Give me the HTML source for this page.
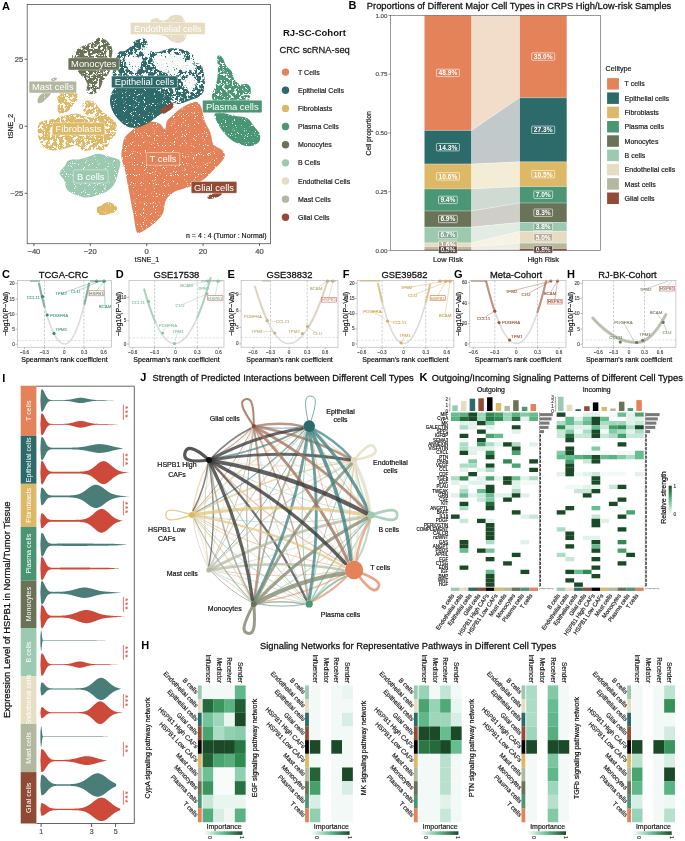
<!DOCTYPE html>
<html><head><meta charset="utf-8"><style>
html,body{margin:0;padding:0;background:#fff;}
svg{display:block;font-family:"Liberation Sans", sans-serif;will-change:transform;}
</style></head><body>
<svg width="685" height="841" viewBox="0 0 685 841">
<rect width="685" height="841" fill="#fff"/>
<text x="2.00" y="10.00" font-size="11" text-anchor="start" font-weight="bold" fill="#000">A</text>
<g>
<defs><filter id="spk1" x="0" y="0" width="685" height="841" filterUnits="userSpaceOnUse"><feTurbulence type="fractalNoise" baseFrequency="1.1" numOctaves="1" seed="4" result="n"/><feColorMatrix in="n" type="matrix" values="0 0 0 0 0 0 0 0 0 0 0 0 0 0 0 16 0 0 0 -4.6" result="m"/><feComposite in="SourceGraphic" in2="m" operator="in"/></filter><filter id="spk2" x="0" y="0" width="685" height="841" filterUnits="userSpaceOnUse"><feTurbulence type="fractalNoise" baseFrequency="0.32" numOctaves="3" seed="9" result="n"/><feColorMatrix in="n" type="matrix" values="0 0 0 0 0 0 0 0 0 0 0 0 0 0 0 18 0 0 0 -7.5" result="m"/><feComposite in="SourceGraphic" in2="m" operator="in" result="s"/><feTurbulence type="fractalNoise" baseFrequency="1.1" numOctaves="1" seed="2" result="n2"/><feColorMatrix in="n2" type="matrix" values="0 0 0 0 0 0 0 0 0 0 0 0 0 0 0 16 0 0 0 -5.0" result="m2"/><feComposite in="s" in2="m2" operator="in"/></filter><filter id="spk3" x="0" y="0" width="685" height="841" filterUnits="userSpaceOnUse"><feTurbulence type="fractalNoise" baseFrequency="0.35" numOctaves="3" seed="21" result="n"/><feColorMatrix in="n" type="matrix" values="0 0 0 0 0 0 0 0 0 0 0 0 0 0 0 18 0 0 0 -6.3" result="m"/><feComposite in="SourceGraphic" in2="m" operator="in" result="s"/><feTurbulence type="fractalNoise" baseFrequency="1.1" numOctaves="1" seed="5" result="n2"/><feColorMatrix in="n2" type="matrix" values="0 0 0 0 0 0 0 0 0 0 0 0 0 0 0 16 0 0 0 -4.8" result="m2"/><feComposite in="s" in2="m2" operator="in"/></filter><filter id="spk4" x="0" y="0" width="685" height="841" filterUnits="userSpaceOnUse"><feTurbulence type="fractalNoise" baseFrequency="0.3" numOctaves="3" seed="13" result="n"/><feColorMatrix in="n" type="matrix" values="0 0 0 0 0 0 0 0 0 0 0 0 0 0 0 18 0 0 0 -7.0" result="m"/><feComposite in="SourceGraphic" in2="m" operator="in" result="s"/><feTurbulence type="fractalNoise" baseFrequency="1.1" numOctaves="1" seed="3" result="n2"/><feColorMatrix in="n2" type="matrix" values="0 0 0 0 0 0 0 0 0 0 0 0 0 0 0 16 0 0 0 -4.9" result="m2"/><feComposite in="s" in2="m2" operator="in"/></filter><filter id="wob" x="0" y="0" width="685" height="841" filterUnits="userSpaceOnUse"><feTurbulence type="fractalNoise" baseFrequency="0.18" numOctaves="2" seed="7" result="t"/><feDisplacementMap in="SourceGraphic" in2="t" scale="9" xChannelSelector="R" yChannelSelector="G" result="d"/><feTurbulence type="fractalNoise" baseFrequency="1.1" numOctaves="1" seed="4" result="n"/><feColorMatrix in="n" type="matrix" values="0 0 0 0 0 0 0 0 0 0 0 0 0 0 0 16 0 0 0 -4.6" result="m"/><feComposite in="d" in2="m" operator="in"/></filter></defs>
<g filter="url(#spk1)">
<path d="M129.0,133.0 C131.3,130.9 135.0,127.3 138.5,125.4 C142.0,123.5 146.4,121.9 149.9,121.6 C153.4,121.3 156.8,122.3 159.3,123.5 C161.8,124.7 163.7,129.4 165.0,129.0 C166.3,128.6 165.8,123.2 167.0,121.0 C168.2,118.8 170.1,117.8 172.0,116.0 C173.9,114.2 175.4,112.3 178.3,110.2 C181.2,108.1 186.5,104.8 189.7,103.5 C192.9,102.2 195.3,101.5 197.3,102.2 C199.3,103.0 200.2,104.8 201.5,108.0 C202.8,111.2 203.4,117.4 204.9,121.6 C206.4,125.8 209.2,129.2 210.6,133.0 C212.0,136.8 211.5,141.5 213.4,144.3 C215.3,147.1 220.1,148.1 222.0,150.0 C223.9,151.9 225.1,153.5 224.8,155.7 C224.5,157.9 222.2,160.8 220.1,163.3 C218.0,165.8 215.0,168.4 212.5,170.9 C210.0,173.4 207.8,176.3 204.9,178.5 C202.1,180.7 198.6,182.6 195.4,184.2 C192.2,185.8 189.4,186.7 185.9,188.0 C182.4,189.3 177.8,189.8 174.5,191.8 C171.2,193.8 167.9,196.5 166.0,200.0 C164.1,203.5 164.5,209.3 163.1,212.7 C161.7,216.1 159.9,217.8 157.4,220.3 C154.9,222.8 151.2,225.8 148.0,227.9 C144.8,230.0 140.6,233.0 138.5,233.0 C136.4,233.0 136.4,230.7 135.6,227.9 C134.8,225.2 134.5,220.9 133.7,216.5 C132.9,212.1 131.8,206.4 130.9,201.3 C130.0,196.2 128.9,191.2 128.0,186.1 C127.0,181.0 126.3,175.7 125.2,170.9 C124.1,166.2 122.0,161.8 121.5,157.6 C121.0,153.4 122.0,149.3 122.5,146.0 C123.0,142.7 123.4,140.2 124.5,138.0 C125.6,135.8 126.7,135.1 129.0,133.0 Z" fill="#E4825A"/>
<path d="M112.0,92.0 C113.3,89.3 115.3,87.3 118.0,86.0 C120.7,84.7 124.3,84.0 128.0,84.0 C131.7,84.0 136.0,85.3 140.0,86.0 C144.0,86.7 148.7,87.0 152.0,88.0 C155.3,89.0 157.3,90.3 160.0,92.0 C162.7,93.7 166.0,96.0 168.0,98.0 C170.0,100.0 172.3,102.0 172.0,104.0 C171.7,106.0 168.3,108.0 166.0,110.0 C163.7,112.0 160.7,114.0 158.0,116.0 C155.3,118.0 152.7,120.3 150.0,122.0 C147.3,123.7 144.7,125.0 142.0,126.0 C139.3,127.0 136.7,128.0 134.0,128.0 C131.3,128.0 128.5,127.3 126.0,126.0 C123.5,124.7 121.2,122.3 119.0,120.0 C116.8,117.7 114.5,115.0 113.0,112.0 C111.5,109.0 110.2,105.3 110.0,102.0 C109.8,98.7 110.7,94.7 112.0,92.0 Z" fill="#2D6A6A"/>
<path d="M68.8,160.2 C71.2,159.1 76.3,159.8 79.7,159.2 C83.1,158.6 85.9,157.5 88.9,156.6 C92.0,155.7 94.7,153.8 98.0,153.8 C101.3,153.8 105.2,155.4 108.9,156.6 C112.6,157.8 118.4,158.4 119.9,161.1 C121.4,163.8 119.0,169.2 118.1,173.0 C117.2,176.8 116.2,180.9 114.4,183.9 C112.6,186.9 109.8,189.4 107.1,191.2 C104.4,193.0 101.3,193.8 98.0,194.9 C94.7,196.0 90.7,197.5 87.0,197.5 C83.3,197.5 79.4,196.2 76.1,194.9 C72.8,193.6 69.0,191.8 67.0,189.4 C65.0,187.0 65.4,183.0 64.2,180.3 C63.0,177.6 59.6,175.5 59.7,173.0 C59.9,170.5 63.6,167.6 65.1,165.5 C66.6,163.4 66.4,161.2 68.8,160.2 Z" fill="#9CCAB0"/>
<path d="M214.6,114.3 C215.2,112.3 218.4,112.7 222.0,113.0 C225.6,113.3 231.8,115.1 236.0,116.0 C240.2,116.9 244.3,116.6 247.3,118.3 C250.3,120.0 251.8,123.5 253.9,126.1 C256.0,128.7 258.8,131.4 259.7,134.0 C260.6,136.6 260.3,139.9 259.1,141.8 C257.9,143.8 255.0,145.0 252.6,145.7 C250.2,146.3 247.8,146.3 244.7,145.7 C241.6,145.0 237.5,143.8 234.2,141.8 C230.9,139.9 227.7,136.8 225.1,134.0 C222.5,131.2 220.2,128.1 218.5,124.8 C216.8,121.5 214.0,116.3 214.6,114.3 Z" fill="#4A9675"/>
<path d="M51.0,92.0 C51.8,92.5 50.3,94.3 49.5,95.5 C48.7,96.7 47.2,97.8 46.0,99.0 C44.8,100.2 43.2,101.8 42.0,102.5 C40.8,103.2 39.8,103.7 39.0,103.5 C38.2,103.3 37.6,102.5 37.5,101.5 C37.4,100.5 37.8,98.8 38.5,97.5 C39.2,96.2 40.4,94.8 41.5,94.0 C42.6,93.2 43.4,92.8 45.0,92.5 C46.6,92.2 50.2,91.5 51.0,92.0 Z" fill="#B3B8A0"/>
<path d="M51.0,79.5 C51.3,78.8 54.0,77.6 55.0,77.5 C56.0,77.4 57.3,78.3 57.0,79.0 C56.7,79.7 54.0,81.4 53.0,81.5 C52.0,81.6 50.7,80.2 51.0,79.5 Z" fill="#B3B8A0"/>
<path d="M150.0,23.0 C150.0,20.8 150.8,20.3 152.0,19.5 C153.2,18.7 155.5,17.8 157.0,18.0 C158.5,18.2 159.3,20.2 161.0,20.5 C162.7,20.8 165.3,20.2 167.0,19.5 C168.7,18.8 169.3,16.8 171.0,16.0 C172.7,15.2 175.2,14.7 177.0,14.8 C178.8,14.9 180.7,15.3 182.0,16.5 C183.3,17.7 184.2,19.8 185.0,22.0 C185.8,24.2 186.8,27.5 187.0,30.0 C187.2,32.5 186.7,35.1 186.0,37.0 C185.3,38.9 184.5,40.5 183.0,41.5 C181.5,42.5 179.0,43.1 177.0,43.0 C175.0,42.9 172.8,42.0 171.0,41.0 C169.2,40.0 167.8,38.0 166.0,37.0 C164.2,36.0 162.3,35.7 160.0,35.0 C157.7,34.3 153.7,35.0 152.0,33.0 C150.3,31.0 150.0,25.2 150.0,23.0 Z" fill="#E6DCC2"/>
<path d="M207.7,196.5 C208.3,195.7 210.3,194.7 212.0,194.0 C213.7,193.3 216.3,192.6 218.0,192.5 C219.7,192.4 221.8,192.8 222.0,193.5 C222.2,194.2 220.5,195.7 219.0,196.5 C217.5,197.3 214.8,198.0 213.0,198.4 C211.2,198.8 209.4,199.1 208.5,198.8 C207.6,198.5 207.1,197.3 207.7,196.5 Z" fill="#924C36"/>
<path d="M160.0,111.0 C160.1,109.9 161.8,108.3 163.0,107.5 C164.2,106.7 165.9,106.7 167.0,106.0 C168.1,105.3 168.5,104.0 169.5,103.5 C170.5,103.0 172.3,102.5 173.0,103.0 C173.7,103.5 173.8,105.4 173.5,106.5 C173.2,107.6 172.1,108.6 171.0,109.5 C169.9,110.4 168.4,111.2 167.0,112.0 C165.6,112.8 163.7,114.2 162.5,114.0 C161.3,113.8 159.9,112.1 160.0,111.0 Z" fill="#924C36"/>
<path d="M97.1,207.7 C97.7,206.2 99.9,205.8 101.6,204.9 C103.3,204.0 105.3,202.4 107.1,202.2 C108.9,202.0 110.9,202.4 112.6,203.5 C114.3,204.6 117.2,206.9 117.2,208.5 C117.2,210.1 114.9,212.0 112.6,213.1 C110.3,214.2 105.9,214.8 103.5,215.0 C101.1,215.2 99.1,215.2 98.0,214.0 C96.9,212.8 96.5,209.2 97.1,207.7 Z" fill="#DDB866"/>
</g>
<g filter="url(#spk4)">
<path d="M73.3,53.2 C74.1,51.9 75.7,50.5 77.0,49.5 C78.3,48.5 79.5,47.8 81.0,47.0 C82.5,46.2 84.2,45.3 86.0,44.5 C87.8,43.7 90.1,43.2 91.8,42.4 C93.5,41.6 94.7,40.4 96.0,39.5 C97.3,38.6 98.2,37.3 99.6,37.2 C101.0,37.1 102.7,37.9 104.2,38.8 C105.7,39.7 107.3,41.2 108.5,42.5 C109.7,43.8 110.8,45.0 111.5,46.5 C112.2,48.0 112.5,49.7 112.5,51.6 C112.5,53.5 111.8,55.7 111.5,57.8 C111.2,59.9 111.3,61.8 111.0,64.0 C110.7,66.2 110.5,69.1 109.8,71.2 C109.0,73.3 107.6,74.8 106.5,76.4 C105.4,78.0 104.0,79.2 103.0,81.0 C102.0,82.8 101.7,85.5 100.5,87.5 C99.3,89.5 97.8,91.9 96.0,93.0 C94.2,94.1 91.7,94.4 90.0,94.0 C88.3,93.6 86.4,92.1 86.0,90.5 C85.6,88.9 87.8,86.4 87.5,84.5 C87.2,82.6 85.8,80.7 84.5,79.0 C83.2,77.3 81.3,75.8 80.0,74.5 C78.7,73.2 77.7,72.9 76.4,71.0 C75.2,69.1 73.2,65.2 72.5,63.0 C71.8,60.8 71.9,59.1 72.0,57.5 C72.1,55.9 72.5,54.5 73.3,53.2 Z" fill="#6A7257"/>
<path d="M118.8,52.3 C120.6,50.1 122.4,52.0 124.6,50.9 C126.8,49.8 130.3,47.1 131.9,45.5 C133.5,43.9 132.4,42.6 134.1,41.4 C135.8,40.2 140.0,38.6 142.1,38.5 C144.2,38.4 145.3,38.9 146.5,40.7 C147.7,42.5 147.7,47.5 149.4,49.4 C151.1,51.3 154.0,52.3 156.7,52.3 C159.4,52.3 162.6,50.1 165.5,49.4 C168.4,48.7 170.8,48.0 174.2,48.2 C177.6,48.4 182.7,49.2 185.9,50.4 C189.1,51.6 191.7,53.3 193.2,55.3 C194.7,57.3 193.5,61.1 194.7,62.6 C195.9,64.0 199.1,62.5 200.5,64.0 C201.9,65.5 202.7,68.1 203.4,71.3 C204.1,74.5 204.9,79.6 204.9,83.0 C204.9,86.4 204.6,89.4 203.4,91.8 C202.2,94.2 200.2,96.1 197.6,97.6 C195.0,99.1 191.3,99.9 188.0,101.0 C184.7,102.1 181.3,104.2 178.0,104.0 C174.7,103.8 171.3,101.7 168.0,100.0 C164.7,98.3 161.7,96.0 158.0,94.0 C154.3,92.0 150.3,89.7 146.0,88.0 C141.7,86.3 136.7,84.7 132.0,84.0 C127.3,83.3 121.2,85.3 118.0,84.0 C114.8,82.7 113.7,79.3 113.0,76.0 C112.3,72.7 113.0,68.0 114.0,64.0 C115.0,60.0 117.0,54.5 118.8,52.3 Z" fill="#2D6A6A"/>
<path d="M39.3,122.7 C40.5,121.0 43.2,121.0 45.0,120.5 C46.8,120.0 48.2,120.2 50.0,119.7 C51.8,119.2 54.2,118.3 56.0,117.8 C57.8,117.3 59.0,117.1 61.0,116.6 C63.0,116.1 65.4,115.5 68.0,115.0 C70.6,114.5 73.7,113.3 76.4,113.5 C79.1,113.7 81.4,115.3 84.0,116.0 C86.6,116.7 89.3,117.2 92.0,117.5 C94.7,117.8 97.5,117.4 100.0,118.0 C102.5,118.6 104.8,119.9 107.0,121.0 C109.2,122.1 111.9,123.0 113.5,124.5 C115.1,126.0 116.2,128.1 116.4,130.0 C116.6,131.9 115.6,134.3 114.6,136.0 C113.6,137.7 111.5,138.3 110.4,140.0 C109.3,141.7 109.4,144.3 108.0,146.0 C106.6,147.7 104.2,149.6 102.1,150.2 C100.0,150.8 97.5,149.2 95.2,149.3 C92.9,149.4 90.4,150.4 88.3,150.6 C86.2,150.8 84.5,151.2 82.7,150.4 C80.9,149.6 79.3,146.1 77.2,145.5 C75.1,144.9 72.8,146.4 70.2,147.0 C67.7,147.6 64.7,148.7 61.9,149.3 C59.1,149.9 56.4,150.8 53.6,150.6 C50.8,150.4 47.6,149.5 45.3,148.0 C43.0,146.5 41.1,144.3 39.8,141.5 C38.5,138.7 37.7,134.1 37.6,131.0 C37.5,127.9 38.1,124.5 39.3,122.7 Z" fill="#DDB866"/>
<path d="M57.0,96.0 C57.4,94.3 59.3,93.5 61.0,92.8 C62.7,92.1 65.0,92.1 67.0,92.0 C69.0,91.9 71.2,91.9 73.0,92.3 C74.8,92.7 76.7,93.4 77.5,94.5 C78.3,95.6 78.4,97.6 78.0,99.0 C77.6,100.4 76.1,101.7 75.0,103.0 C73.9,104.3 72.7,105.7 71.5,107.0 C70.3,108.3 69.4,109.8 68.0,111.0 C66.6,112.2 64.5,113.7 63.0,114.0 C61.5,114.3 59.9,114.0 59.0,113.0 C58.1,112.0 57.6,109.7 57.5,108.0 C57.4,106.3 58.6,105.0 58.5,103.0 C58.4,101.0 56.6,97.7 57.0,96.0 Z" fill="#DDB866"/>
<path d="M83.0,103.5 C83.6,102.4 84.7,101.5 86.0,101.0 C87.3,100.5 89.5,100.5 91.0,100.8 C92.5,101.0 93.9,101.6 95.0,102.5 C96.1,103.4 96.5,104.8 97.5,106.0 C98.5,107.2 99.6,108.7 101.0,110.0 C102.4,111.3 104.3,112.6 106.0,114.0 C107.7,115.4 109.3,117.0 111.0,118.5 C112.7,120.0 115.1,121.4 116.0,123.0 C116.9,124.6 117.2,127.0 116.5,128.0 C115.8,129.0 113.8,129.7 112.0,129.0 C110.2,128.3 108.0,125.7 106.0,124.0 C104.0,122.3 102.0,120.2 100.0,119.0 C98.0,117.8 96.0,117.1 94.0,116.5 C92.0,115.9 89.7,116.2 88.0,115.5 C86.3,114.8 84.9,113.3 84.0,112.0 C83.1,110.7 82.7,108.9 82.5,107.5 C82.3,106.1 82.4,104.6 83.0,103.5 Z" fill="#DDB866"/>
</g>
<g filter="url(#spk3)">
<path d="M218.5,55.5 C219.4,55.4 221.2,55.7 222.5,57.4 C223.8,59.1 224.9,63.6 226.4,65.9 C227.9,68.2 230.3,69.0 231.6,71.2 C232.9,73.4 232.9,76.8 234.2,79.0 C235.5,81.2 237.3,83.3 239.5,84.2 C241.7,85.1 245.5,83.5 247.3,84.2 C249.2,84.9 250.2,86.0 250.6,88.2 C251.0,90.4 250.7,94.7 249.9,97.3 C249.1,99.9 248.0,102.2 246.0,104.0 C244.0,105.8 241.0,106.7 238.0,108.0 C235.0,109.3 231.3,111.0 228.0,112.0 C224.7,113.0 220.7,116.5 218.0,114.0 C215.3,111.5 212.6,101.6 212.0,97.3 C211.4,93.0 213.7,91.2 214.6,88.2 C215.5,85.2 216.6,82.3 217.2,79.0 C217.8,75.7 217.9,72.0 217.9,68.5 C217.9,65.0 217.1,60.3 217.2,58.1 C217.3,55.9 217.6,55.6 218.5,55.5 Z" fill="#4A9675"/>
</g>
<path d="M155.0,56.0 C156.8,54.3 161.2,53.3 165.0,53.0 C168.8,52.7 174.5,53.2 178.0,54.0 C181.5,54.8 184.3,56.0 186.0,58.0 C187.7,60.0 188.7,63.7 188.0,66.0 C187.3,68.3 185.0,70.7 182.0,72.0 C179.0,73.3 173.7,74.3 170.0,74.0 C166.3,73.7 162.7,71.8 160.0,70.0 C157.3,68.2 154.8,65.3 154.0,63.0 C153.2,60.7 153.2,57.7 155.0,56.0 Z" fill="#fff" opacity="0.95" filter="url(#wob)"/>
<path d="M126.0,58.0 C127.0,55.5 130.7,55.0 133.0,55.0 C135.3,55.0 138.7,56.2 140.0,58.0 C141.3,59.8 141.8,63.7 141.0,66.0 C140.2,68.3 137.3,71.3 135.0,72.0 C132.7,72.7 128.5,72.3 127.0,70.0 C125.5,67.7 125.0,60.5 126.0,58.0 Z" fill="#fff" opacity="0.95" filter="url(#wob)"/>
<path d="M186.0,78.0 C187.0,76.0 190.3,75.3 192.0,76.0 C193.7,76.7 196.0,79.7 196.0,82.0 C196.0,84.3 193.7,89.0 192.0,90.0 C190.3,91.0 187.0,90.0 186.0,88.0 C185.0,86.0 185.0,80.0 186.0,78.0 Z" fill="#fff" opacity="0.95" filter="url(#wob)"/>
<path d="M143.5,47.0 C144.3,45.8 146.7,45.2 148.0,45.5 C149.3,45.8 151.1,47.4 151.5,49.0 C151.9,50.6 151.4,53.7 150.5,55.0 C149.6,56.3 147.2,57.3 146.0,57.0 C144.8,56.7 143.4,54.7 143.0,53.0 C142.6,51.3 142.7,48.2 143.5,47.0 Z" fill="#fff" opacity="0.95" filter="url(#wob)"/>
<path d="M187.0,61.0 C188.0,59.8 190.6,59.5 192.0,60.0 C193.4,60.5 195.2,62.3 195.5,64.0 C195.8,65.7 195.1,68.8 194.0,70.0 C192.9,71.2 190.3,72.0 189.0,71.5 C187.7,71.0 186.3,68.8 186.0,67.0 C185.7,65.2 186.0,62.2 187.0,61.0 Z" fill="#fff" opacity="0.95" filter="url(#wob)"/>
<rect x="130.4" y="22.4" width="74.8" height="12.1" rx="1.2" fill="#E6DCC2" stroke="#fff" stroke-width="0.5" stroke-opacity="0.8"/>
<text x="167.80" y="31.83" font-size="9.4" text-anchor="middle" fill="#fff">Endothelial cells</text>
<rect x="68.2" y="57.9" width="51.1" height="12.1" rx="1.2" fill="#6A7257" stroke="#fff" stroke-width="0.5" stroke-opacity="0.8"/>
<text x="93.75" y="67.33" font-size="9.4" text-anchor="middle" fill="#fff">Monocytes</text>
<rect x="111.5" y="76.0" width="65.9" height="11.7" rx="1.2" fill="#2D6A6A" stroke="#fff" stroke-width="0.5" stroke-opacity="0.8"/>
<text x="144.45" y="85.23" font-size="9.4" text-anchor="middle" fill="#fff">Epithelial cells</text>
<rect x="29.0" y="81.2" width="47.5" height="11.8" rx="1.2" fill="#B3B8A0" stroke="#fff" stroke-width="0.5" stroke-opacity="0.8"/>
<text x="52.75" y="90.48" font-size="9.4" text-anchor="middle" fill="#fff">Mast cells</text>
<rect x="202.6" y="100.2" width="59.4" height="12.6" rx="1.2" fill="#4A9675" stroke="#fff" stroke-width="0.5" stroke-opacity="0.8"/>
<text x="232.30" y="109.88" font-size="9.4" text-anchor="middle" fill="#fff">Plasma cells</text>
<rect x="52.4" y="122.8" width="52.3" height="12.2" rx="1.2" fill="#DDB866" stroke="#fff" stroke-width="0.5" stroke-opacity="0.8"/>
<text x="78.55" y="132.28" font-size="9.4" text-anchor="middle" fill="#fff">Fibroblasts</text>
<rect x="146.4" y="152.5" width="33.3" height="12.7" rx="1.2" fill="#E4825A" stroke="#fff" stroke-width="0.5" stroke-opacity="0.8"/>
<text x="163.05" y="162.23" font-size="9.4" text-anchor="middle" fill="#fff">T cells</text>
<rect x="73.4" y="169.9" width="34.6" height="13.1" rx="1.2" fill="#9CCAB0" stroke="#fff" stroke-width="0.5" stroke-opacity="0.8"/>
<text x="90.70" y="179.83" font-size="9.4" text-anchor="middle" fill="#fff">B cells</text>
<rect x="191.2" y="181.4" width="45.6" height="11.9" rx="1.2" fill="#924C36" stroke="#fff" stroke-width="0.5" stroke-opacity="0.8"/>
<text x="214.00" y="190.73" font-size="9.4" text-anchor="middle" fill="#fff">Glial cells</text>
</g>
<rect x="27.2" y="4.5" width="243.3" height="239.2" fill="none" stroke="#555" stroke-width="0.8"/>
<line x1="24.60" y1="59.30" x2="27.20" y2="59.30" stroke="#555" stroke-width="0.9"/>
<text x="23.20" y="62.00" font-size="7.6" text-anchor="end" fill="#4d4d4d" stroke="#4d4d4d" stroke-width="0.213">25</text>
<line x1="24.60" y1="126.30" x2="27.20" y2="126.30" stroke="#555" stroke-width="0.9"/>
<text x="23.20" y="129.00" font-size="7.6" text-anchor="end" fill="#4d4d4d" stroke="#4d4d4d" stroke-width="0.213">0</text>
<line x1="24.60" y1="193.30" x2="27.20" y2="193.30" stroke="#555" stroke-width="0.9"/>
<text x="23.20" y="196.00" font-size="7.6" text-anchor="end" fill="#4d4d4d" stroke="#4d4d4d" stroke-width="0.213">−25</text>
<line x1="33.90" y1="243.30" x2="33.90" y2="246.00" stroke="#555" stroke-width="0.9"/>
<text x="33.90" y="254.20" font-size="7.6" text-anchor="middle" fill="#4d4d4d" stroke="#4d4d4d" stroke-width="0.213">−40</text>
<line x1="90.30" y1="243.30" x2="90.30" y2="246.00" stroke="#555" stroke-width="0.9"/>
<text x="90.30" y="254.20" font-size="7.6" text-anchor="middle" fill="#4d4d4d" stroke="#4d4d4d" stroke-width="0.213">−20</text>
<line x1="146.70" y1="243.30" x2="146.70" y2="246.00" stroke="#555" stroke-width="0.9"/>
<text x="146.70" y="254.20" font-size="7.6" text-anchor="middle" fill="#4d4d4d" stroke="#4d4d4d" stroke-width="0.213">0</text>
<line x1="203.10" y1="243.30" x2="203.10" y2="246.00" stroke="#555" stroke-width="0.9"/>
<text x="203.10" y="254.20" font-size="7.6" text-anchor="middle" fill="#4d4d4d" stroke="#4d4d4d" stroke-width="0.213">20</text>
<line x1="259.50" y1="243.30" x2="259.50" y2="246.00" stroke="#555" stroke-width="0.9"/>
<text x="259.50" y="254.20" font-size="7.6" text-anchor="middle" fill="#4d4d4d" stroke="#4d4d4d" stroke-width="0.213">40</text>
<text x="147.00" y="262.40" font-size="7.1" text-anchor="middle" fill="#222" stroke="#222" stroke-width="0.199">tSNE_1</text>
<text x="13.20" y="126.00" font-size="7.1" text-anchor="middle" fill="#222" stroke="#222" stroke-width="0.199" transform="rotate(-90 13.20 126.00)">tSNE_2</text>
<text x="266.50" y="238.00" font-size="7.0" text-anchor="end" fill="#222" stroke="#222" stroke-width="0.196">n = 4 : 4 (Tumor : Normal)</text>
<text x="283.00" y="35.80" font-size="9.5" text-anchor="start" font-weight="bold" fill="#111">RJ-SC-Cohort</text>
<text x="279.50" y="52.50" font-size="9.4" text-anchor="start" fill="#222" stroke="#222" stroke-width="0.263">CRC scRNA-seq</text>
<circle cx="285.5" cy="72.10" r="3.7" fill="#E4825A"/>
<text x="298.00" y="74.60" font-size="7.0" text-anchor="start" fill="#222" stroke="#222" stroke-width="0.196">T Cells</text>
<circle cx="285.5" cy="90.25" r="3.7" fill="#2D6A6A"/>
<text x="298.00" y="92.75" font-size="7.0" text-anchor="start" fill="#222" stroke="#222" stroke-width="0.196">Epithelial Cells</text>
<circle cx="285.5" cy="108.40" r="3.7" fill="#DDB866"/>
<text x="298.00" y="110.90" font-size="7.0" text-anchor="start" fill="#222" stroke="#222" stroke-width="0.196">Fibroblasts</text>
<circle cx="285.5" cy="126.55" r="3.7" fill="#4A9675"/>
<text x="298.00" y="129.05" font-size="7.0" text-anchor="start" fill="#222" stroke="#222" stroke-width="0.196">Plasma Cells</text>
<circle cx="285.5" cy="144.70" r="3.7" fill="#6A7257"/>
<text x="298.00" y="147.20" font-size="7.0" text-anchor="start" fill="#222" stroke="#222" stroke-width="0.196">Monocytes</text>
<circle cx="285.5" cy="162.85" r="3.7" fill="#9CCAB0"/>
<text x="298.00" y="165.35" font-size="7.0" text-anchor="start" fill="#222" stroke="#222" stroke-width="0.196">B Cells</text>
<circle cx="285.5" cy="181.00" r="3.7" fill="#E6DCC2"/>
<text x="298.00" y="183.50" font-size="7.0" text-anchor="start" fill="#222" stroke="#222" stroke-width="0.196">Endothelial Cells</text>
<circle cx="285.5" cy="199.15" r="3.7" fill="#B3B8A0"/>
<text x="298.00" y="201.65" font-size="7.0" text-anchor="start" fill="#222" stroke="#222" stroke-width="0.196">Mast Cells</text>
<circle cx="285.5" cy="217.30" r="3.7" fill="#924C36"/>
<text x="298.00" y="219.80" font-size="7.0" text-anchor="start" fill="#222" stroke="#222" stroke-width="0.196">Glial Cells</text>
<text x="348.50" y="9.20" font-size="11" text-anchor="start" font-weight="bold" fill="#000">B</text>
<text x="366.80" y="8.60" font-size="9.35" text-anchor="start" fill="#111" stroke="#111" stroke-width="0.262">Proportions of Different Major Cell Types in CRPS High/Low-risk Samples</text>
<polygon points="471.8,15.5 519.2,15.5 519.2,97.7 471.8,130.4" fill="#F2DDCB"/>
<polygon points="471.8,130.4 519.2,97.7 519.2,161.8 471.8,164.0" fill="#C2C9CA"/>
<polygon points="471.8,164.0 519.2,161.8 519.2,186.5 471.8,188.9" fill="#F3EDD5"/>
<polygon points="471.8,188.9 519.2,186.5 519.2,203.0 471.8,210.9" fill="#CFDAD3"/>
<polygon points="471.8,210.9 519.2,203.0 519.2,222.4 471.8,227.1" fill="#CFCFC7"/>
<polygon points="471.8,227.1 519.2,222.4 519.2,231.4 471.8,242.9" fill="#E2ECE5"/>
<polygon points="471.8,242.9 519.2,231.4 519.2,243.1 471.8,246.6" fill="#F6F2E4"/>
<polygon points="471.8,246.6 519.2,243.1 519.2,248.5 471.8,249.2" fill="#EDEEE6"/>
<polygon points="471.8,249.2 519.2,248.5 519.2,250.4 471.8,250.4" fill="#EBD9D2"/>
<rect x="424.50" y="15.50" width="46.80" height="114.87" fill="#E4825A"/>
<rect x="519.70" y="15.50" width="47.00" height="82.22" fill="#E4825A"/>
<rect x="424.50" y="130.37" width="46.80" height="33.59" fill="#2D6A6A"/>
<rect x="519.70" y="97.72" width="47.00" height="64.13" fill="#2D6A6A"/>
<rect x="424.50" y="163.96" width="46.80" height="24.90" fill="#DDB866"/>
<rect x="519.70" y="161.84" width="47.00" height="24.66" fill="#DDB866"/>
<rect x="424.50" y="188.86" width="46.80" height="22.08" fill="#4A9675"/>
<rect x="519.70" y="186.51" width="47.00" height="16.44" fill="#4A9675"/>
<rect x="424.50" y="210.94" width="46.80" height="16.21" fill="#6A7257"/>
<rect x="519.70" y="202.95" width="47.00" height="19.50" fill="#6A7257"/>
<rect x="424.50" y="227.14" width="46.80" height="15.74" fill="#9CCAB0"/>
<rect x="519.70" y="222.45" width="47.00" height="8.93" fill="#9CCAB0"/>
<rect x="424.50" y="242.88" width="46.80" height="3.76" fill="#E6DCC2"/>
<rect x="519.70" y="231.37" width="47.00" height="11.74" fill="#E6DCC2"/>
<rect x="424.50" y="246.64" width="46.80" height="2.58" fill="#B3B8A0"/>
<rect x="519.70" y="243.12" width="47.00" height="5.40" fill="#B3B8A0"/>
<rect x="424.50" y="249.23" width="46.80" height="1.17" fill="#924C36"/>
<rect x="519.70" y="248.52" width="47.00" height="1.88" fill="#924C36"/>
<line x1="424.50" y1="130.37" x2="471.30" y2="130.37" stroke="#fff" stroke-width="0.5" stroke-opacity="0.7"/>
<line x1="519.70" y1="97.72" x2="566.70" y2="97.72" stroke="#fff" stroke-width="0.5" stroke-opacity="0.7"/>
<line x1="471.30" y1="130.37" x2="519.70" y2="97.72" stroke="#fff" stroke-width="0.5" stroke-opacity="0.7"/>
<line x1="424.50" y1="163.96" x2="471.30" y2="163.96" stroke="#fff" stroke-width="0.5" stroke-opacity="0.7"/>
<line x1="519.70" y1="161.84" x2="566.70" y2="161.84" stroke="#fff" stroke-width="0.5" stroke-opacity="0.7"/>
<line x1="471.30" y1="163.96" x2="519.70" y2="161.84" stroke="#fff" stroke-width="0.5" stroke-opacity="0.7"/>
<line x1="424.50" y1="188.86" x2="471.30" y2="188.86" stroke="#fff" stroke-width="0.5" stroke-opacity="0.7"/>
<line x1="519.70" y1="186.51" x2="566.70" y2="186.51" stroke="#fff" stroke-width="0.5" stroke-opacity="0.7"/>
<line x1="471.30" y1="188.86" x2="519.70" y2="186.51" stroke="#fff" stroke-width="0.5" stroke-opacity="0.7"/>
<line x1="424.50" y1="210.94" x2="471.30" y2="210.94" stroke="#fff" stroke-width="0.5" stroke-opacity="0.7"/>
<line x1="519.70" y1="202.95" x2="566.70" y2="202.95" stroke="#fff" stroke-width="0.5" stroke-opacity="0.7"/>
<line x1="471.30" y1="210.94" x2="519.70" y2="202.95" stroke="#fff" stroke-width="0.5" stroke-opacity="0.7"/>
<line x1="424.50" y1="227.14" x2="471.30" y2="227.14" stroke="#fff" stroke-width="0.5" stroke-opacity="0.7"/>
<line x1="519.70" y1="222.45" x2="566.70" y2="222.45" stroke="#fff" stroke-width="0.5" stroke-opacity="0.7"/>
<line x1="471.30" y1="227.14" x2="519.70" y2="222.45" stroke="#fff" stroke-width="0.5" stroke-opacity="0.7"/>
<line x1="424.50" y1="242.88" x2="471.30" y2="242.88" stroke="#fff" stroke-width="0.5" stroke-opacity="0.7"/>
<line x1="519.70" y1="231.37" x2="566.70" y2="231.37" stroke="#fff" stroke-width="0.5" stroke-opacity="0.7"/>
<line x1="471.30" y1="242.88" x2="519.70" y2="231.37" stroke="#fff" stroke-width="0.5" stroke-opacity="0.7"/>
<line x1="424.50" y1="246.64" x2="471.30" y2="246.64" stroke="#fff" stroke-width="0.5" stroke-opacity="0.7"/>
<line x1="519.70" y1="243.12" x2="566.70" y2="243.12" stroke="#fff" stroke-width="0.5" stroke-opacity="0.7"/>
<line x1="471.30" y1="246.64" x2="519.70" y2="243.12" stroke="#fff" stroke-width="0.5" stroke-opacity="0.7"/>
<line x1="424.50" y1="249.23" x2="471.30" y2="249.23" stroke="#fff" stroke-width="0.5" stroke-opacity="0.7"/>
<line x1="519.70" y1="248.52" x2="566.70" y2="248.52" stroke="#fff" stroke-width="0.5" stroke-opacity="0.7"/>
<line x1="471.30" y1="249.23" x2="519.70" y2="248.52" stroke="#fff" stroke-width="0.5" stroke-opacity="0.7"/>
<rect x="436.4" y="69.2" width="23.0" height="7.4" rx="0.8" fill="#E4825A" stroke="#fff" stroke-width="0.6"/>
<text x="447.90" y="75.33" font-size="6.6" text-anchor="middle" font-weight="bold" fill="#fff">48.9%</text>
<rect x="531.7" y="52.9" width="23.0" height="7.4" rx="0.8" fill="#E4825A" stroke="#fff" stroke-width="0.6"/>
<text x="543.20" y="59.01" font-size="6.6" text-anchor="middle" font-weight="bold" fill="#fff">35.0%</text>
<rect x="436.4" y="143.5" width="23.0" height="7.4" rx="0.8" fill="#2D6A6A" stroke="#fff" stroke-width="0.6"/>
<text x="447.90" y="149.56" font-size="6.6" text-anchor="middle" font-weight="bold" fill="#fff">14.3%</text>
<rect x="531.7" y="126.1" width="23.0" height="7.4" rx="0.8" fill="#2D6A6A" stroke="#fff" stroke-width="0.6"/>
<text x="543.20" y="132.18" font-size="6.6" text-anchor="middle" font-weight="bold" fill="#fff">27.3%</text>
<rect x="436.4" y="172.7" width="23.0" height="7.4" rx="0.8" fill="#DDB866" stroke="#fff" stroke-width="0.6"/>
<text x="447.90" y="178.81" font-size="6.6" text-anchor="middle" font-weight="bold" fill="#fff">10.6%</text>
<rect x="531.7" y="170.5" width="23.0" height="7.4" rx="0.8" fill="#DDB866" stroke="#fff" stroke-width="0.6"/>
<text x="543.20" y="176.57" font-size="6.6" text-anchor="middle" font-weight="bold" fill="#fff">10.5%</text>
<rect x="438.5" y="196.2" width="18.8" height="7.4" rx="0.8" fill="#4A9675" stroke="#fff" stroke-width="0.6"/>
<text x="447.90" y="202.30" font-size="6.6" text-anchor="middle" font-weight="bold" fill="#fff">9.4%</text>
<rect x="533.8" y="191.0" width="18.8" height="7.4" rx="0.8" fill="#4A9675" stroke="#fff" stroke-width="0.6"/>
<text x="543.20" y="197.13" font-size="6.6" text-anchor="middle" font-weight="bold" fill="#fff">7.0%</text>
<rect x="438.5" y="215.3" width="18.8" height="7.4" rx="0.8" fill="#6A7257" stroke="#fff" stroke-width="0.6"/>
<text x="447.90" y="221.44" font-size="6.6" text-anchor="middle" font-weight="bold" fill="#fff">6.9%</text>
<rect x="533.8" y="209.0" width="18.8" height="7.4" rx="0.8" fill="#6A7257" stroke="#fff" stroke-width="0.6"/>
<text x="543.20" y="215.10" font-size="6.6" text-anchor="middle" font-weight="bold" fill="#fff">8.3%</text>
<rect x="438.5" y="231.3" width="18.8" height="7.4" rx="0.8" fill="#86AD97" stroke="#fff" stroke-width="0.6"/>
<text x="447.90" y="237.41" font-size="6.6" text-anchor="middle" font-weight="bold" fill="#fff">6.7%</text>
<rect x="533.8" y="223.2" width="18.8" height="7.4" rx="0.8" fill="#86AD97" stroke="#fff" stroke-width="0.6"/>
<text x="543.20" y="229.31" font-size="6.6" text-anchor="middle" font-weight="bold" fill="#fff">3.8%</text>
<rect x="438.5" y="241.1" width="18.8" height="7.4" rx="0.8" fill="#B9AF98" stroke="#fff" stroke-width="0.6"/>
<text x="447.90" y="247.16" font-size="6.6" text-anchor="middle" font-weight="bold" fill="#fff">1.6%</text>
<rect x="533.8" y="233.5" width="18.8" height="7.4" rx="0.8" fill="#B9AF98" stroke="#fff" stroke-width="0.6"/>
<text x="543.20" y="239.65" font-size="6.6" text-anchor="middle" font-weight="bold" fill="#fff">5.0%</text>
<rect x="438.5" y="246.1" width="18.8" height="7.4" rx="0.8" fill="#5E4A40" stroke="#fff" stroke-width="0.6"/>
<text x="447.90" y="252.21" font-size="6.6" text-anchor="middle" font-weight="bold" fill="#fff">0.5%</text>
<rect x="533.8" y="245.8" width="18.8" height="7.4" rx="0.8" fill="#5E4A40" stroke="#fff" stroke-width="0.6"/>
<text x="543.20" y="251.86" font-size="6.6" text-anchor="middle" font-weight="bold" fill="#fff">0.8%</text>
<rect x="390.5" y="15.5" width="210" height="234.9" fill="none" stroke="#555" stroke-width="0.6"/>
<line x1="388.30" y1="15.50" x2="390.50" y2="15.50" stroke="#444" stroke-width="0.5"/>
<text x="387.50" y="17.70" font-size="6.2" text-anchor="end" fill="#4d4d4d" stroke="#4d4d4d" stroke-width="0.174">1.00</text>
<line x1="388.30" y1="74.22" x2="390.50" y2="74.22" stroke="#444" stroke-width="0.5"/>
<text x="387.50" y="76.42" font-size="6.2" text-anchor="end" fill="#4d4d4d" stroke="#4d4d4d" stroke-width="0.174">0.75</text>
<line x1="388.30" y1="132.95" x2="390.50" y2="132.95" stroke="#444" stroke-width="0.5"/>
<text x="387.50" y="135.15" font-size="6.2" text-anchor="end" fill="#4d4d4d" stroke="#4d4d4d" stroke-width="0.174">0.50</text>
<line x1="388.30" y1="191.68" x2="390.50" y2="191.68" stroke="#444" stroke-width="0.5"/>
<text x="387.50" y="193.88" font-size="6.2" text-anchor="end" fill="#4d4d4d" stroke="#4d4d4d" stroke-width="0.174">0.25</text>
<line x1="388.30" y1="250.40" x2="390.50" y2="250.40" stroke="#444" stroke-width="0.5"/>
<text x="387.50" y="252.60" font-size="6.2" text-anchor="end" fill="#4d4d4d" stroke="#4d4d4d" stroke-width="0.174">0.00</text>
<text x="371.50" y="133.40" font-size="6.8" text-anchor="middle" fill="#222" stroke="#222" stroke-width="0.190" transform="rotate(-90 371.50 133.40)">Cell proportion</text>
<line x1="447.90" y1="250.40" x2="447.90" y2="252.60" stroke="#444" stroke-width="0.5"/>
<text x="447.90" y="262.00" font-size="7.4" text-anchor="middle" fill="#222" stroke="#222" stroke-width="0.207">Low Risk</text>
<line x1="543.20" y1="250.40" x2="543.20" y2="252.60" stroke="#444" stroke-width="0.5"/>
<text x="543.20" y="262.00" font-size="7.4" text-anchor="middle" fill="#222" stroke="#222" stroke-width="0.207">High Risk</text>
<text x="605.60" y="71.00" font-size="7.2" text-anchor="start" fill="#222" stroke="#222" stroke-width="0.202">Celltype</text>
<rect x="607.10" y="78.10" width="11.80" height="11.50" fill="#E4825A"/>
<text x="624.60" y="86.40" font-size="7.0" text-anchor="start" fill="#222" stroke="#222" stroke-width="0.196">T cells</text>
<rect x="607.10" y="92.40" width="11.80" height="11.50" fill="#2D6A6A"/>
<text x="624.60" y="100.70" font-size="7.0" text-anchor="start" fill="#222" stroke="#222" stroke-width="0.196">Epithelial cells</text>
<rect x="607.10" y="106.70" width="11.80" height="11.50" fill="#DDB866"/>
<text x="624.60" y="115.00" font-size="7.0" text-anchor="start" fill="#222" stroke="#222" stroke-width="0.196">Fibroblasts</text>
<rect x="607.10" y="121.00" width="11.80" height="11.50" fill="#4A9675"/>
<text x="624.60" y="129.30" font-size="7.0" text-anchor="start" fill="#222" stroke="#222" stroke-width="0.196">Plasma cells</text>
<rect x="607.10" y="135.30" width="11.80" height="11.50" fill="#6A7257"/>
<text x="624.60" y="143.60" font-size="7.0" text-anchor="start" fill="#222" stroke="#222" stroke-width="0.196">Monocytes</text>
<rect x="607.10" y="149.60" width="11.80" height="11.50" fill="#9CCAB0"/>
<text x="624.60" y="157.90" font-size="7.0" text-anchor="start" fill="#222" stroke="#222" stroke-width="0.196">B cells</text>
<rect x="607.10" y="163.90" width="11.80" height="11.50" fill="#E6DCC2"/>
<text x="624.60" y="172.20" font-size="7.0" text-anchor="start" fill="#222" stroke="#222" stroke-width="0.196">Endothelial cells</text>
<rect x="607.10" y="178.20" width="11.80" height="11.50" fill="#B3B8A0"/>
<text x="624.60" y="186.50" font-size="7.0" text-anchor="start" fill="#222" stroke="#222" stroke-width="0.196">Mast cells</text>
<rect x="607.10" y="192.50" width="11.80" height="11.50" fill="#924C36"/>
<text x="624.60" y="200.80" font-size="7.0" text-anchor="start" fill="#222" stroke="#222" stroke-width="0.196">Glial cells</text>
<text x="2.00" y="278.30" font-size="11" text-anchor="start" font-weight="bold" fill="#000">C</text>
<text x="63.60" y="278.20" font-size="9.4" text-anchor="middle" fill="#111" stroke="#111" stroke-width="0.263">TCGA-CRC</text>
<text x="8.20" y="314.00" font-size="7.0" text-anchor="middle" fill="#111" stroke="#111" stroke-width="0.196" transform="rotate(-90 8.20 314.00)">−log10(P−Val)</text>
<line x1="15.50" y1="283.50" x2="17.30" y2="283.50" stroke="#555" stroke-width="0.4"/>
<text x="14.70" y="285.00" font-size="4.6" text-anchor="end" fill="#444" stroke="#444" stroke-width="0.129">20</text>
<line x1="15.50" y1="299.10" x2="17.30" y2="299.10" stroke="#555" stroke-width="0.4"/>
<text x="14.70" y="300.60" font-size="4.6" text-anchor="end" fill="#444" stroke="#444" stroke-width="0.129">15</text>
<line x1="15.50" y1="314.20" x2="17.30" y2="314.20" stroke="#555" stroke-width="0.4"/>
<text x="14.70" y="315.70" font-size="4.6" text-anchor="end" fill="#444" stroke="#444" stroke-width="0.129">10</text>
<line x1="15.50" y1="329.20" x2="17.30" y2="329.20" stroke="#555" stroke-width="0.4"/>
<text x="14.70" y="330.70" font-size="4.6" text-anchor="end" fill="#444" stroke="#444" stroke-width="0.129">5</text>
<line x1="15.50" y1="344.30" x2="17.30" y2="344.30" stroke="#555" stroke-width="0.4"/>
<text x="14.70" y="345.80" font-size="4.6" text-anchor="end" fill="#444" stroke="#444" stroke-width="0.129">0</text>
<line x1="24.50" y1="347.20" x2="24.50" y2="349.00" stroke="#555" stroke-width="0.4"/>
<text x="24.50" y="353.60" font-size="4.6" text-anchor="middle" fill="#444" stroke="#444" stroke-width="0.129">−0.6</text>
<line x1="44.30" y1="347.20" x2="44.30" y2="349.00" stroke="#555" stroke-width="0.4"/>
<text x="44.30" y="353.60" font-size="4.6" text-anchor="middle" fill="#444" stroke="#444" stroke-width="0.129">−0.3</text>
<line x1="64.30" y1="347.20" x2="64.30" y2="349.00" stroke="#555" stroke-width="0.4"/>
<text x="64.30" y="353.60" font-size="4.6" text-anchor="middle" fill="#444" stroke="#444" stroke-width="0.129">0</text>
<line x1="84.10" y1="347.20" x2="84.10" y2="349.00" stroke="#555" stroke-width="0.4"/>
<text x="84.10" y="353.60" font-size="4.6" text-anchor="middle" fill="#444" stroke="#444" stroke-width="0.129">0.3</text>
<line x1="103.70" y1="347.20" x2="103.70" y2="349.00" stroke="#555" stroke-width="0.4"/>
<text x="103.70" y="353.60" font-size="4.6" text-anchor="middle" fill="#444" stroke="#444" stroke-width="0.129">0.6</text>
<text x="64.45" y="361.90" font-size="7.04" text-anchor="middle" fill="#111" stroke="#111" stroke-width="0.197">Spearman's rank coefficient</text>
<line x1="44.50" y1="280.50" x2="44.50" y2="347.20" stroke="#999" stroke-width="0.5" stroke-dasharray="2.2,1.6"/>
<line x1="83.90" y1="280.50" x2="83.90" y2="347.20" stroke="#999" stroke-width="0.5" stroke-dasharray="2.2,1.6"/>
<line x1="17.30" y1="340.60" x2="111.60" y2="340.60" stroke="#ccc" stroke-width="0.6" stroke-dasharray="2.2,1.6"/>
<path d="M39.00,283.50 L39.83,287.37 L40.67,291.12 L41.50,294.74 L42.33,298.23 L43.17,301.59 L44.00,304.82 L44.83,307.93 L45.67,310.91 L46.50,313.76 L47.33,316.48 L48.17,319.07 L49.00,321.53 L49.83,323.87 L50.67,326.08 L51.50,328.16 L52.33,330.11 L53.17,331.93 L54.00,333.63 L54.83,335.19 L55.67,336.63 L56.50,337.94 L57.33,339.13 L58.17,340.18 L59.00,341.10 L59.83,341.90 L60.67,342.57 L61.50,343.11 L62.33,343.53 L63.17,343.81 L64.00,343.97 L64.83,343.99 L65.67,343.88 L66.50,343.63 L67.33,343.24 L68.17,342.71 L69.00,342.03 L69.83,341.22 L70.67,340.26 L71.50,339.16 L72.33,337.92 L73.17,336.54 L74.00,335.02 L74.83,333.36 L75.67,331.55 L76.50,329.61 L77.33,327.52 L78.17,325.30 L79.00,322.93 L79.83,320.42 L80.67,317.77 L81.50,314.98 L82.33,312.04 L83.17,308.97 L84.00,305.75 L84.83,302.40 L85.67,298.90 L86.50,295.26 L87.33,291.48 L88.17,287.56 L89.00,283.50" fill="none" stroke="#dcdcdc" stroke-width="1.6" stroke-linecap="round"/>
<path d="M39.00,283.50 L39.27,284.79 L39.55,286.07 L39.83,287.34 L40.10,288.59 L40.38,289.82 L40.65,291.05 L40.92,292.26 L41.20,293.45 L41.48,294.63 L41.75,295.80 L42.02,296.95 L42.30,298.09 L42.58,299.22 L42.85,300.33 L43.12,301.43 L43.40,302.51 L43.67,303.58 L43.95,304.63 L44.23,305.68 L44.50,306.70" fill="none" stroke="#3D8C6B" stroke-width="2.2" stroke-opacity="0.55" stroke-linecap="round"/>
<path d="M84.50,303.76 L84.72,302.84 L84.95,301.92 L85.17,300.98 L85.40,300.04 L85.62,299.08 L85.85,298.11 L86.08,297.14 L86.30,296.15 L86.53,295.15 L86.75,294.14 L86.97,293.13 L87.20,292.10 L87.42,291.06 L87.65,290.01 L87.88,288.95 L88.10,287.88 L88.33,286.80 L88.55,285.71 L88.78,284.61 L89.00,283.50" fill="none" stroke="#3D8C6B" stroke-width="2.2" stroke-opacity="0.55" stroke-linecap="round"/>
<line x1="30.00" y1="281.00" x2="40.00" y2="281.00" stroke="#3D8C6B" stroke-width="1.2" stroke-opacity="0.8"/>
<line x1="90.00" y1="281.00" x2="106.00" y2="281.00" stroke="#3D8C6B" stroke-width="1.2" stroke-opacity="0.8"/>
<line x1="61.00" y1="293.50" x2="96.50" y2="281.20" stroke="#4E9E7C" stroke-width="0.4"/>
<line x1="75.50" y1="291.50" x2="100.00" y2="281.20" stroke="#4E9E7C" stroke-width="0.4"/>
<line x1="105.00" y1="306.00" x2="104.00" y2="281.20" stroke="#4E9E7C" stroke-width="0.4"/>
<circle cx="42.50" cy="296.60" r="1.6" fill="#3D8C6B"/>
<circle cx="47.20" cy="315.00" r="1.6" fill="#3D8C6B"/>
<circle cx="54.00" cy="333.40" r="1.6" fill="#3D8C6B"/>
<circle cx="96.50" cy="281.20" r="1.6" fill="#3D8C6B"/>
<circle cx="104.00" cy="281.20" r="1.6" fill="#3D8C6B"/>
<text x="40.00" y="298.50" font-size="4.4" text-anchor="end" fill="#4E9E7C" stroke="#4E9E7C" stroke-width="0.123">CCL11</text>
<text x="50.00" y="316.50" font-size="4.4" text-anchor="start" fill="#4E9E7C" stroke="#4E9E7C" stroke-width="0.123">PDGFRA</text>
<text x="55.50" y="330.50" font-size="4.4" text-anchor="start" fill="#4E9E7C" stroke="#4E9E7C" stroke-width="0.123">TPM1</text>
<text x="61.00" y="295.00" font-size="4.4" text-anchor="middle" fill="#4E9E7C" stroke="#4E9E7C" stroke-width="0.123">TPM2</text>
<text x="75.50" y="293.00" font-size="4.4" text-anchor="middle" fill="#4E9E7C" stroke="#4E9E7C" stroke-width="0.123">CLU</text>
<text x="105.00" y="307.50" font-size="4.4" text-anchor="middle" fill="#4E9E7C" stroke="#4E9E7C" stroke-width="0.123">BCAM</text>
<line x1="96.50" y1="290.80" x2="104.00" y2="281.20" stroke="#4E9E7C" stroke-width="0.4"/>
<rect x="89.00" y="290.80" width="15.00" height="5.00" fill="#fff" stroke="#e0605a" stroke-width="0.6"/>
<text x="96.50" y="294.90" font-size="4.4" text-anchor="middle" fill="#4E9E7C" stroke="#4E9E7C" stroke-width="0.123">HSPB1</text>
<rect x="17.3" y="280.5" width="94.30" height="66.70" fill="none" stroke="#aaa" stroke-width="0.6"/>
<text x="115.70" y="278.30" font-size="11" text-anchor="start" font-weight="bold" fill="#000">D</text>
<text x="176.40" y="278.20" font-size="9.4" text-anchor="middle" fill="#111" stroke="#111" stroke-width="0.263">GSE17538</text>
<text x="121.30" y="314.00" font-size="7.0" text-anchor="middle" fill="#111" stroke="#111" stroke-width="0.196" transform="rotate(-90 121.30 314.00)">−log10(P−Val)</text>
<line x1="127.20" y1="297.40" x2="129.00" y2="297.40" stroke="#555" stroke-width="0.4"/>
<text x="126.40" y="298.90" font-size="4.6" text-anchor="end" fill="#444" stroke="#444" stroke-width="0.129">10</text>
<line x1="127.20" y1="320.70" x2="129.00" y2="320.70" stroke="#555" stroke-width="0.4"/>
<text x="126.40" y="322.20" font-size="4.6" text-anchor="end" fill="#444" stroke="#444" stroke-width="0.129">5</text>
<line x1="127.20" y1="344.00" x2="129.00" y2="344.00" stroke="#555" stroke-width="0.4"/>
<text x="126.40" y="345.50" font-size="4.6" text-anchor="end" fill="#444" stroke="#444" stroke-width="0.129">0</text>
<line x1="132.80" y1="347.20" x2="132.80" y2="349.00" stroke="#555" stroke-width="0.4"/>
<text x="132.80" y="353.60" font-size="4.6" text-anchor="middle" fill="#444" stroke="#444" stroke-width="0.129">−0.6</text>
<line x1="154.60" y1="347.20" x2="154.60" y2="349.00" stroke="#555" stroke-width="0.4"/>
<text x="154.60" y="353.60" font-size="4.6" text-anchor="middle" fill="#444" stroke="#444" stroke-width="0.129">−0.3</text>
<line x1="175.50" y1="347.20" x2="175.50" y2="349.00" stroke="#555" stroke-width="0.4"/>
<text x="175.50" y="353.60" font-size="4.6" text-anchor="middle" fill="#444" stroke="#444" stroke-width="0.129">0</text>
<line x1="197.30" y1="347.20" x2="197.30" y2="349.00" stroke="#555" stroke-width="0.4"/>
<text x="197.30" y="353.60" font-size="4.6" text-anchor="middle" fill="#444" stroke="#444" stroke-width="0.129">0.3</text>
<line x1="218.50" y1="347.20" x2="218.50" y2="349.00" stroke="#555" stroke-width="0.4"/>
<text x="218.50" y="353.60" font-size="4.6" text-anchor="middle" fill="#444" stroke="#444" stroke-width="0.129">0.6</text>
<text x="176.50" y="361.90" font-size="7.04" text-anchor="middle" fill="#111" stroke="#111" stroke-width="0.197">Spearman's rank coefficient</text>
<line x1="154.60" y1="280.50" x2="154.60" y2="347.20" stroke="#999" stroke-width="0.5" stroke-dasharray="2.2,1.6"/>
<line x1="197.30" y1="280.50" x2="197.30" y2="347.20" stroke="#999" stroke-width="0.5" stroke-dasharray="2.2,1.6"/>
<line x1="129.00" y1="337.80" x2="224.00" y2="337.80" stroke="#ccc" stroke-width="0.6" stroke-dasharray="2.2,1.6"/>
<path d="M144.20,289.40 L145.31,293.28 L146.41,297.02 L147.52,300.61 L148.63,304.05 L149.73,307.36 L150.84,310.51 L151.95,313.53 L153.05,316.40 L154.16,319.12 L155.27,321.70 L156.37,324.14 L157.48,326.43 L158.59,328.58 L159.69,330.58 L160.80,332.44 L161.91,334.15 L163.01,335.73 L164.12,337.15 L165.23,338.43 L166.33,339.57 L167.44,340.56 L168.55,341.41 L169.65,342.12 L170.76,342.68 L171.87,343.09 L172.97,343.36 L174.08,343.49 L175.19,343.48 L176.29,343.34 L177.40,343.08 L178.51,342.69 L179.61,342.19 L180.72,341.56 L181.83,340.80 L182.93,339.93 L184.04,338.93 L185.15,337.80 L186.25,336.56 L187.36,335.19 L188.47,333.70 L189.57,332.08 L190.68,330.34 L191.79,328.48 L192.89,326.50 L194.00,324.39 L195.11,322.16 L196.21,319.80 L197.32,317.33 L198.43,314.73 L199.53,312.00 L200.64,309.16 L201.75,306.19 L202.85,303.09 L203.96,299.88 L205.07,296.54 L206.17,293.08 L207.28,289.49 L208.39,285.79 L209.49,281.95 L210.60,278.00" fill="none" stroke="#dcdcdc" stroke-width="1.6" stroke-linecap="round"/>
<path d="M144.20,289.40 L144.76,291.40 L145.33,293.36 L145.89,295.28 L146.46,297.17 L147.02,299.02 L147.59,300.83 L148.16,302.60 L148.72,304.34 L149.28,306.03 L149.85,307.69 L150.41,309.32 L150.98,310.90 L151.54,312.45 L152.11,313.96 L152.68,315.43 L153.24,316.87 L153.81,318.26 L154.37,319.62 L154.94,320.94 L155.50,322.23" fill="none" stroke="#8DC6A7" stroke-width="2.2" stroke-opacity="0.55" stroke-linecap="round"/>
<path d="M197.30,317.37 L197.97,315.83 L198.63,314.24 L199.30,312.60 L199.96,310.92 L200.62,309.20 L201.29,307.43 L201.96,305.61 L202.62,303.76 L203.28,301.86 L203.95,299.91 L204.62,297.92 L205.28,295.88 L205.94,293.80 L206.61,291.68 L207.28,289.51 L207.94,287.30 L208.60,285.04 L209.27,282.74 L209.94,280.39 L210.60,278.00" fill="none" stroke="#8DC6A7" stroke-width="2.2" stroke-opacity="0.55" stroke-linecap="round"/>
<line x1="201.00" y1="281.00" x2="222.00" y2="281.00" stroke="#8DC6A7" stroke-width="1.2" stroke-opacity="0.8"/>
<line x1="168.00" y1="325.00" x2="163.00" y2="331.00" stroke="#8DC6A7" stroke-width="0.4"/>
<line x1="178.00" y1="331.00" x2="175.00" y2="341.00" stroke="#8DC6A7" stroke-width="0.4"/>
<line x1="180.00" y1="305.50" x2="205.00" y2="295.00" stroke="#8DC6A7" stroke-width="0.4"/>
<line x1="186.50" y1="285.50" x2="207.00" y2="281.20" stroke="#8DC6A7" stroke-width="0.4"/>
<line x1="203.50" y1="288.00" x2="209.00" y2="281.20" stroke="#8DC6A7" stroke-width="0.4"/>
<circle cx="148.50" cy="301.40" r="1.6" fill="#8DC6A7"/>
<circle cx="162.60" cy="333.00" r="1.6" fill="#8DC6A7"/>
<circle cx="174.50" cy="343.50" r="1.6" fill="#8DC6A7"/>
<circle cx="206.80" cy="293.80" r="1.6" fill="#8DC6A7"/>
<circle cx="208.00" cy="281.20" r="1.6" fill="#8DC6A7"/>
<circle cx="218.00" cy="281.20" r="1.6" fill="#8DC6A7"/>
<text x="145.00" y="303.50" font-size="4.4" text-anchor="end" fill="#8DC6A7" stroke="#8DC6A7" stroke-width="0.123">CCL11</text>
<text x="168.00" y="326.50" font-size="4.4" text-anchor="middle" fill="#8DC6A7" stroke="#8DC6A7" stroke-width="0.123">PDGFRA</text>
<text x="178.00" y="332.50" font-size="4.4" text-anchor="middle" fill="#8DC6A7" stroke="#8DC6A7" stroke-width="0.123">TPM1</text>
<text x="180.00" y="307.00" font-size="4.4" text-anchor="middle" fill="#8DC6A7" stroke="#8DC6A7" stroke-width="0.123">CLU</text>
<text x="186.50" y="287.00" font-size="4.4" text-anchor="middle" fill="#8DC6A7" stroke="#8DC6A7" stroke-width="0.123">BCAM</text>
<text x="203.50" y="289.50" font-size="4.4" text-anchor="middle" fill="#8DC6A7" stroke="#8DC6A7" stroke-width="0.123">TPM2</text>
<line x1="215.30" y1="295.70" x2="218.00" y2="281.20" stroke="#8DC6A7" stroke-width="0.4"/>
<rect x="207.70" y="295.70" width="15.20" height="4.50" fill="#fff" stroke="#e0605a" stroke-width="0.6"/>
<text x="215.30" y="299.55" font-size="4.4" text-anchor="middle" fill="#8DC6A7" stroke="#8DC6A7" stroke-width="0.123">HSPB1</text>
<rect x="129" y="280.5" width="95.00" height="66.70" fill="none" stroke="#aaa" stroke-width="0.6"/>
<text x="227.60" y="278.30" font-size="11" text-anchor="start" font-weight="bold" fill="#000">E</text>
<text x="289.50" y="278.20" font-size="9.4" text-anchor="middle" fill="#111" stroke="#111" stroke-width="0.263">GSE38832</text>
<text x="234.20" y="314.00" font-size="7.0" text-anchor="middle" fill="#111" stroke="#111" stroke-width="0.196" transform="rotate(-90 234.20 314.00)">−log10(P−Val)</text>
<line x1="239.30" y1="294.20" x2="241.10" y2="294.20" stroke="#555" stroke-width="0.4"/>
<text x="238.50" y="295.70" font-size="4.6" text-anchor="end" fill="#444" stroke="#444" stroke-width="0.129">9</text>
<line x1="239.30" y1="310.90" x2="241.10" y2="310.90" stroke="#555" stroke-width="0.4"/>
<text x="238.50" y="312.40" font-size="4.6" text-anchor="end" fill="#444" stroke="#444" stroke-width="0.129">6</text>
<line x1="239.30" y1="327.40" x2="241.10" y2="327.40" stroke="#555" stroke-width="0.4"/>
<text x="238.50" y="328.90" font-size="4.6" text-anchor="end" fill="#444" stroke="#444" stroke-width="0.129">3</text>
<line x1="239.30" y1="343.90" x2="241.10" y2="343.90" stroke="#555" stroke-width="0.4"/>
<text x="238.50" y="345.40" font-size="4.6" text-anchor="end" fill="#444" stroke="#444" stroke-width="0.129">0</text>
<line x1="253.10" y1="347.20" x2="253.10" y2="349.00" stroke="#555" stroke-width="0.4"/>
<text x="253.10" y="353.60" font-size="4.6" text-anchor="middle" fill="#444" stroke="#444" stroke-width="0.129">−0.6</text>
<line x1="270.50" y1="347.20" x2="270.50" y2="349.00" stroke="#555" stroke-width="0.4"/>
<text x="270.50" y="353.60" font-size="4.6" text-anchor="middle" fill="#444" stroke="#444" stroke-width="0.129">−0.3</text>
<line x1="289.10" y1="347.20" x2="289.10" y2="349.00" stroke="#555" stroke-width="0.4"/>
<text x="289.10" y="353.60" font-size="4.6" text-anchor="middle" fill="#444" stroke="#444" stroke-width="0.129">0</text>
<line x1="307.20" y1="347.20" x2="307.20" y2="349.00" stroke="#555" stroke-width="0.4"/>
<text x="307.20" y="353.60" font-size="4.6" text-anchor="middle" fill="#444" stroke="#444" stroke-width="0.129">0.3</text>
<line x1="325.20" y1="347.20" x2="325.20" y2="349.00" stroke="#555" stroke-width="0.4"/>
<text x="325.20" y="353.60" font-size="4.6" text-anchor="middle" fill="#444" stroke="#444" stroke-width="0.129">0.6</text>
<text x="289.55" y="361.90" font-size="7.04" text-anchor="middle" fill="#111" stroke="#111" stroke-width="0.197">Spearman's rank coefficient</text>
<line x1="270.50" y1="280.50" x2="270.50" y2="347.20" stroke="#999" stroke-width="0.5" stroke-dasharray="2.2,1.6"/>
<line x1="307.20" y1="280.50" x2="307.20" y2="347.20" stroke="#999" stroke-width="0.5" stroke-dasharray="2.2,1.6"/>
<line x1="241.10" y1="337.40" x2="338.00" y2="337.40" stroke="#ccc" stroke-width="0.6" stroke-dasharray="2.2,1.6"/>
<path d="M255.00,286.60 L256.21,290.62 L257.42,294.49 L258.62,298.22 L259.83,301.79 L261.04,305.22 L262.25,308.51 L263.46,311.64 L264.67,314.63 L265.88,317.47 L267.08,320.17 L268.29,322.71 L269.50,325.11 L270.71,327.37 L271.92,329.47 L273.12,331.43 L274.33,333.24 L275.54,334.91 L276.75,336.42 L277.96,337.79 L279.17,339.01 L280.38,340.09 L281.58,341.02 L282.79,341.80 L284.00,342.43 L285.21,342.92 L286.42,343.26 L287.62,343.45 L288.83,343.50 L290.04,343.41 L291.25,343.21 L292.46,342.89 L293.67,342.44 L294.88,341.87 L296.08,341.19 L297.29,340.38 L298.50,339.45 L299.71,338.40 L300.92,337.23 L302.12,335.94 L303.33,334.53 L304.54,333.00 L305.75,331.35 L306.96,329.58 L308.17,327.69 L309.38,325.67 L310.58,323.54 L311.79,321.29 L313.00,318.91 L314.21,316.41 L315.42,313.80 L316.62,311.06 L317.83,308.20 L319.04,305.22 L320.25,302.13 L321.46,298.91 L322.67,295.57 L323.88,292.11 L325.08,288.52 L326.29,284.82 L327.50,281.00" fill="none" stroke="#dcdcdc" stroke-width="1.6" stroke-linecap="round"/>
<path d="M255.00,286.60 L255.62,288.70 L256.25,290.75 L256.88,292.77 L257.50,294.75 L258.12,296.69 L258.75,298.59 L259.38,300.45 L260.00,302.27 L260.62,304.06 L261.25,305.80 L261.88,307.50 L262.50,309.17 L263.12,310.79 L263.75,312.38 L264.38,313.92 L265.00,315.43 L265.62,316.90 L266.25,318.32 L266.88,319.71 L267.50,321.06" fill="none" stroke="#D8CFAE" stroke-width="2.2" stroke-opacity="0.55" stroke-linecap="round"/>
<path d="M307.20,329.21 L308.21,327.61 L309.23,325.92 L310.25,324.15 L311.26,322.29 L312.27,320.35 L313.29,318.32 L314.31,316.21 L315.32,314.01 L316.33,311.73 L317.35,309.36 L318.37,306.91 L319.38,304.37 L320.39,301.75 L321.41,299.04 L322.43,296.24 L323.44,293.37 L324.45,290.40 L325.47,287.35 L326.49,284.22 L327.50,281.00" fill="none" stroke="#D8CFAE" stroke-width="2.2" stroke-opacity="0.55" stroke-linecap="round"/>
<line x1="262.00" y1="281.00" x2="270.00" y2="281.00" stroke="#C2B58A" stroke-width="1.2" stroke-opacity="0.8"/>
<line x1="326.00" y1="281.00" x2="336.00" y2="281.00" stroke="#C2B58A" stroke-width="1.2" stroke-opacity="0.8"/>
<line x1="276.00" y1="321.50" x2="270.00" y2="321.00" stroke="#BFB183" stroke-width="0.4"/>
<line x1="263.00" y1="331.50" x2="273.00" y2="332.00" stroke="#BFB183" stroke-width="0.4"/>
<line x1="317.50" y1="333.50" x2="309.00" y2="328.00" stroke="#BFB183" stroke-width="0.4"/>
<line x1="316.00" y1="288.50" x2="327.50" y2="281.20" stroke="#BFB183" stroke-width="0.4"/>
<circle cx="267.10" cy="320.70" r="1.6" fill="#C2B58A"/>
<circle cx="274.70" cy="333.00" r="1.6" fill="#C2B58A"/>
<circle cx="302.40" cy="333.60" r="1.6" fill="#C2B58A"/>
<circle cx="307.50" cy="326.40" r="1.6" fill="#C2B58A"/>
<circle cx="327.50" cy="281.20" r="1.6" fill="#C2B58A"/>
<circle cx="332.80" cy="281.20" r="1.6" fill="#C2B58A"/>
<text x="262.00" y="317.50" font-size="4.4" text-anchor="end" fill="#BFB183" stroke="#BFB183" stroke-width="0.123">PDGFRA</text>
<text x="276.00" y="323.00" font-size="4.4" text-anchor="start" fill="#BFB183" stroke="#BFB183" stroke-width="0.123">CCL11</text>
<text x="263.00" y="333.00" font-size="4.4" text-anchor="end" fill="#BFB183" stroke="#BFB183" stroke-width="0.123">TPM1</text>
<text x="294.00" y="333.00" font-size="4.4" text-anchor="middle" fill="#BFB183" stroke="#BFB183" stroke-width="0.123">TPM2</text>
<text x="317.50" y="335.00" font-size="4.4" text-anchor="middle" fill="#BFB183" stroke="#BFB183" stroke-width="0.123">CLU</text>
<text x="316.00" y="290.00" font-size="4.4" text-anchor="middle" fill="#BFB183" stroke="#BFB183" stroke-width="0.123">BCAM</text>
<line x1="329.00" y1="297.60" x2="332.80" y2="281.20" stroke="#BFB183" stroke-width="0.4"/>
<rect x="321.40" y="297.60" width="15.20" height="4.50" fill="#fff" stroke="#e0605a" stroke-width="0.6"/>
<text x="329.00" y="301.45" font-size="4.4" text-anchor="middle" fill="#BFB183" stroke="#BFB183" stroke-width="0.123">HSPB1</text>
<rect x="241.1" y="280.5" width="96.90" height="66.70" fill="none" stroke="#aaa" stroke-width="0.6"/>
<text x="342.70" y="278.30" font-size="11" text-anchor="start" font-weight="bold" fill="#000">F</text>
<text x="404.50" y="278.20" font-size="9.4" text-anchor="middle" fill="#111" stroke="#111" stroke-width="0.263">GSE39582</text>
<text x="347.80" y="314.00" font-size="7.0" text-anchor="middle" fill="#111" stroke="#111" stroke-width="0.196" transform="rotate(-90 347.80 314.00)">−log10(P−Val)</text>
<line x1="355.30" y1="283.30" x2="357.10" y2="283.30" stroke="#555" stroke-width="0.4"/>
<text x="354.50" y="284.80" font-size="4.6" text-anchor="end" fill="#444" stroke="#444" stroke-width="0.129">20</text>
<line x1="355.30" y1="298.50" x2="357.10" y2="298.50" stroke="#555" stroke-width="0.4"/>
<text x="354.50" y="300.00" font-size="4.6" text-anchor="end" fill="#444" stroke="#444" stroke-width="0.129">15</text>
<line x1="355.30" y1="313.70" x2="357.10" y2="313.70" stroke="#555" stroke-width="0.4"/>
<text x="354.50" y="315.20" font-size="4.6" text-anchor="end" fill="#444" stroke="#444" stroke-width="0.129">10</text>
<line x1="355.30" y1="328.90" x2="357.10" y2="328.90" stroke="#555" stroke-width="0.4"/>
<text x="354.50" y="330.40" font-size="4.6" text-anchor="end" fill="#444" stroke="#444" stroke-width="0.129">5</text>
<line x1="355.30" y1="344.00" x2="357.10" y2="344.00" stroke="#555" stroke-width="0.4"/>
<text x="354.50" y="345.50" font-size="4.6" text-anchor="end" fill="#444" stroke="#444" stroke-width="0.129">0</text>
<line x1="361.80" y1="347.20" x2="361.80" y2="349.00" stroke="#555" stroke-width="0.4"/>
<text x="361.80" y="353.60" font-size="4.6" text-anchor="middle" fill="#444" stroke="#444" stroke-width="0.129">−0.6</text>
<line x1="382.10" y1="347.20" x2="382.10" y2="349.00" stroke="#555" stroke-width="0.4"/>
<text x="382.10" y="353.60" font-size="4.6" text-anchor="middle" fill="#444" stroke="#444" stroke-width="0.129">−0.3</text>
<line x1="403.60" y1="347.20" x2="403.60" y2="349.00" stroke="#555" stroke-width="0.4"/>
<text x="403.60" y="353.60" font-size="4.6" text-anchor="middle" fill="#444" stroke="#444" stroke-width="0.129">0</text>
<line x1="425.80" y1="347.20" x2="425.80" y2="349.00" stroke="#555" stroke-width="0.4"/>
<text x="425.80" y="353.60" font-size="4.6" text-anchor="middle" fill="#444" stroke="#444" stroke-width="0.129">0.3</text>
<line x1="446.80" y1="347.20" x2="446.80" y2="349.00" stroke="#555" stroke-width="0.4"/>
<text x="446.80" y="353.60" font-size="4.6" text-anchor="middle" fill="#444" stroke="#444" stroke-width="0.129">0.6</text>
<text x="405.50" y="361.90" font-size="7.04" text-anchor="middle" fill="#111" stroke="#111" stroke-width="0.197">Spearman's rank coefficient</text>
<line x1="382.10" y1="280.50" x2="382.10" y2="347.20" stroke="#999" stroke-width="0.5" stroke-dasharray="2.2,1.6"/>
<line x1="425.80" y1="280.50" x2="425.80" y2="347.20" stroke="#999" stroke-width="0.5" stroke-dasharray="2.2,1.6"/>
<line x1="357.10" y1="340.30" x2="453.90" y2="340.30" stroke="#ccc" stroke-width="0.6" stroke-dasharray="2.2,1.6"/>
<path d="M378.00,283.70 L378.87,287.69 L379.74,291.54 L380.61,295.25 L381.47,298.83 L382.34,302.26 L383.21,305.56 L384.08,308.73 L384.95,311.75 L385.81,314.64 L386.68,317.39 L387.55,320.00 L388.42,322.47 L389.29,324.81 L390.16,327.01 L391.02,329.07 L391.89,330.99 L392.76,332.78 L393.63,334.43 L394.50,335.94 L395.37,337.31 L396.24,338.55 L397.10,339.65 L397.97,340.61 L398.84,341.43 L399.71,342.12 L400.58,342.67 L401.44,343.08 L402.31,343.35 L403.18,343.48 L404.05,343.48 L404.92,343.35 L405.79,343.10 L406.66,342.72 L407.52,342.21 L408.39,341.58 L409.26,340.82 L410.13,339.93 L411.00,338.92 L411.87,337.78 L412.73,336.52 L413.60,335.12 L414.47,333.61 L415.34,331.96 L416.21,330.19 L417.08,328.30 L417.94,326.27 L418.81,324.13 L419.68,321.85 L420.55,319.45 L421.42,316.92 L422.29,314.27 L423.15,311.49 L424.02,308.58 L424.89,305.55 L425.76,302.39 L426.63,299.10 L427.50,295.69 L428.36,292.15 L429.23,288.49 L430.10,284.70" fill="none" stroke="#dcdcdc" stroke-width="1.6" stroke-linecap="round"/>
<path d="M378.00,283.70 L378.20,284.65 L378.41,285.60 L378.62,286.54 L378.82,287.47 L379.02,288.39 L379.23,289.31 L379.44,290.22 L379.64,291.12 L379.85,292.01 L380.05,292.89 L380.25,293.77 L380.46,294.64 L380.67,295.50 L380.87,296.36 L381.08,297.20 L381.28,298.04 L381.49,298.87 L381.69,299.70 L381.90,300.51 L382.10,301.32" fill="none" stroke="#D8B35C" stroke-width="2.2" stroke-opacity="0.55" stroke-linecap="round"/>
<path d="M425.80,302.23 L426.01,301.43 L426.23,300.62 L426.44,299.80 L426.66,298.97 L426.88,298.14 L427.09,297.30 L427.31,296.45 L427.52,295.59 L427.74,294.73 L427.95,293.85 L428.17,292.97 L428.38,292.09 L428.60,291.19 L428.81,290.29 L429.03,289.37 L429.24,288.45 L429.46,287.53 L429.67,286.59 L429.89,285.65 L430.10,284.70" fill="none" stroke="#D8B35C" stroke-width="2.2" stroke-opacity="0.55" stroke-linecap="round"/>
<line x1="360.00" y1="281.00" x2="380.00" y2="281.00" stroke="#D8B35C" stroke-width="1.2" stroke-opacity="0.8"/>
<line x1="438.00" y1="281.00" x2="452.00" y2="281.00" stroke="#D8B35C" stroke-width="1.2" stroke-opacity="0.8"/>
<line x1="406.50" y1="287.80" x2="440.00" y2="282.00" stroke="#D2A94F" stroke-width="0.4"/>
<line x1="412.50" y1="295.40" x2="446.00" y2="282.00" stroke="#D2A94F" stroke-width="0.4"/>
<line x1="372.50" y1="311.50" x2="385.00" y2="319.00" stroke="#D2A94F" stroke-width="0.4"/>
<line x1="393.00" y1="322.50" x2="389.00" y2="321.00" stroke="#D2A94F" stroke-width="0.4"/>
<line x1="405.00" y1="335.50" x2="402.00" y2="341.00" stroke="#D2A94F" stroke-width="0.4"/>
<line x1="445.00" y1="315.00" x2="450.00" y2="282.00" stroke="#D2A94F" stroke-width="0.4"/>
<circle cx="387.40" cy="321.10" r="1.6" fill="#D8B35C"/>
<circle cx="401.10" cy="342.90" r="1.6" fill="#D8B35C"/>
<circle cx="440.00" cy="281.20" r="1.6" fill="#D8B35C"/>
<circle cx="446.00" cy="281.20" r="1.6" fill="#D8B35C"/>
<circle cx="450.00" cy="281.20" r="1.6" fill="#D8B35C"/>
<text x="406.50" y="289.30" font-size="4.4" text-anchor="middle" fill="#D2A94F" stroke="#D2A94F" stroke-width="0.123">TPM2</text>
<text x="412.50" y="296.90" font-size="4.4" text-anchor="middle" fill="#D2A94F" stroke="#D2A94F" stroke-width="0.123">CLU</text>
<text x="372.50" y="313.00" font-size="4.4" text-anchor="middle" fill="#D2A94F" stroke="#D2A94F" stroke-width="0.123">PDGFRA</text>
<text x="393.00" y="324.00" font-size="4.4" text-anchor="start" fill="#D2A94F" stroke="#D2A94F" stroke-width="0.123">CCL11</text>
<text x="405.00" y="337.00" font-size="4.4" text-anchor="middle" fill="#D2A94F" stroke="#D2A94F" stroke-width="0.123">TPM1</text>
<text x="445.00" y="316.50" font-size="4.4" text-anchor="middle" fill="#D2A94F" stroke="#D2A94F" stroke-width="0.123">BCAM</text>
<line x1="437.70" y1="295.70" x2="446.00" y2="281.20" stroke="#D2A94F" stroke-width="0.4"/>
<rect x="430.10" y="295.70" width="15.20" height="4.50" fill="#fff" stroke="#e0605a" stroke-width="0.6"/>
<text x="437.70" y="299.55" font-size="4.4" text-anchor="middle" fill="#D2A94F" stroke="#D2A94F" stroke-width="0.123">HSPB1</text>
<rect x="357.1" y="280.5" width="96.80" height="66.70" fill="none" stroke="#aaa" stroke-width="0.6"/>
<text x="453.90" y="278.30" font-size="11" text-anchor="start" font-weight="bold" fill="#000">G</text>
<text x="516.10" y="278.20" font-size="9.4" text-anchor="middle" fill="#111" stroke="#111" stroke-width="0.263">Meta-Cohort</text>
<text x="461.00" y="314.00" font-size="7.0" text-anchor="middle" fill="#111" stroke="#111" stroke-width="0.196" transform="rotate(-90 461.00 314.00)">−log10(P−Val)</text>
<line x1="468.00" y1="282.40" x2="469.80" y2="282.40" stroke="#555" stroke-width="0.4"/>
<text x="467.20" y="283.90" font-size="4.6" text-anchor="end" fill="#444" stroke="#444" stroke-width="0.129">60</text>
<line x1="468.00" y1="303.30" x2="469.80" y2="303.30" stroke="#555" stroke-width="0.4"/>
<text x="467.20" y="304.80" font-size="4.6" text-anchor="end" fill="#444" stroke="#444" stroke-width="0.129">40</text>
<line x1="468.00" y1="323.60" x2="469.80" y2="323.60" stroke="#555" stroke-width="0.4"/>
<text x="467.20" y="325.10" font-size="4.6" text-anchor="end" fill="#444" stroke="#444" stroke-width="0.129">20</text>
<line x1="468.00" y1="344.00" x2="469.80" y2="344.00" stroke="#555" stroke-width="0.4"/>
<text x="467.20" y="345.50" font-size="4.6" text-anchor="end" fill="#444" stroke="#444" stroke-width="0.129">0</text>
<line x1="473.40" y1="347.20" x2="473.40" y2="349.00" stroke="#555" stroke-width="0.4"/>
<text x="473.40" y="353.60" font-size="4.6" text-anchor="middle" fill="#444" stroke="#444" stroke-width="0.129">−0.6</text>
<line x1="494.80" y1="347.20" x2="494.80" y2="349.00" stroke="#555" stroke-width="0.4"/>
<text x="494.80" y="353.60" font-size="4.6" text-anchor="middle" fill="#444" stroke="#444" stroke-width="0.129">−0.3</text>
<line x1="516.30" y1="347.20" x2="516.30" y2="349.00" stroke="#555" stroke-width="0.4"/>
<text x="516.30" y="353.60" font-size="4.6" text-anchor="middle" fill="#444" stroke="#444" stroke-width="0.129">0</text>
<line x1="537.50" y1="347.20" x2="537.50" y2="349.00" stroke="#555" stroke-width="0.4"/>
<text x="537.50" y="353.60" font-size="4.6" text-anchor="middle" fill="#444" stroke="#444" stroke-width="0.129">0.3</text>
<line x1="559.00" y1="347.20" x2="559.00" y2="349.00" stroke="#555" stroke-width="0.4"/>
<text x="559.00" y="353.60" font-size="4.6" text-anchor="middle" fill="#444" stroke="#444" stroke-width="0.129">0.6</text>
<text x="517.90" y="361.90" font-size="7.04" text-anchor="middle" fill="#111" stroke="#111" stroke-width="0.197">Spearman's rank coefficient</text>
<line x1="494.80" y1="280.50" x2="494.80" y2="347.20" stroke="#999" stroke-width="0.5" stroke-dasharray="2.2,1.6"/>
<line x1="537.50" y1="280.50" x2="537.50" y2="347.20" stroke="#999" stroke-width="0.5" stroke-dasharray="2.2,1.6"/>
<line x1="469.80" y1="342.50" x2="566.00" y2="342.50" stroke="#ccc" stroke-width="0.6" stroke-dasharray="2.2,1.6"/>
<path d="M486.30,281.80 L487.30,285.78 L488.29,289.63 L489.29,293.34 L490.29,296.92 L491.28,300.37 L492.28,303.69 L493.28,306.87 L494.27,309.92 L495.27,312.84 L496.27,315.62 L497.26,318.28 L498.26,320.80 L499.26,323.19 L500.25,325.44 L501.25,327.56 L502.25,329.55 L503.24,331.41 L504.24,333.13 L505.24,334.73 L506.23,336.19 L507.23,337.51 L508.23,338.71 L509.22,339.77 L510.22,340.70 L511.22,341.49 L512.21,342.16 L513.21,342.69 L514.21,343.08 L515.20,343.35 L516.20,343.48 L517.20,343.48 L518.19,343.34 L519.19,343.05 L520.19,342.62 L521.18,342.04 L522.18,341.33 L523.18,340.46 L524.17,339.46 L525.17,338.30 L526.17,337.01 L527.16,335.57 L528.16,333.99 L529.16,332.26 L530.15,330.39 L531.15,328.38 L532.15,326.22 L533.14,323.92 L534.14,321.47 L535.14,318.88 L536.13,316.15 L537.13,313.27 L538.13,310.25 L539.12,307.09 L540.12,303.78 L541.12,300.32 L542.11,296.73 L543.11,292.99 L544.11,289.10 L545.10,285.07 L546.10,280.90" fill="none" stroke="#dcdcdc" stroke-width="1.6" stroke-linecap="round"/>
<path d="M486.30,281.80 L486.73,283.51 L487.15,285.20 L487.57,286.87 L488.00,288.51 L488.43,290.12 L488.85,291.72 L489.28,293.29 L489.70,294.83 L490.12,296.35 L490.55,297.85 L490.98,299.32 L491.40,300.77 L491.82,302.19 L492.25,303.59 L492.68,304.96 L493.10,306.32 L493.53,307.64 L493.95,308.95 L494.38,310.22 L494.80,311.48" fill="none" stroke="#A2583B" stroke-width="2.2" stroke-opacity="0.55" stroke-linecap="round"/>
<path d="M537.50,312.17 L537.93,310.86 L538.36,309.52 L538.79,308.16 L539.22,306.77 L539.65,305.35 L540.08,303.91 L540.51,302.44 L540.94,300.95 L541.37,299.42 L541.80,297.87 L542.23,296.30 L542.66,294.69 L543.09,293.06 L543.52,291.40 L543.95,289.72 L544.38,288.01 L544.81,286.27 L545.24,284.51 L545.67,282.72 L546.10,280.90" fill="none" stroke="#A2583B" stroke-width="2.2" stroke-opacity="0.55" stroke-linecap="round"/>
<line x1="471.00" y1="281.00" x2="487.00" y2="281.00" stroke="#A2583B" stroke-width="1.2" stroke-opacity="0.8"/>
<line x1="511.50" y1="291.00" x2="550.80" y2="281.20" stroke="#A2583B" stroke-width="0.4"/>
<line x1="526.00" y1="294.50" x2="550.80" y2="281.20" stroke="#A2583B" stroke-width="0.4"/>
<line x1="550.00" y1="293.00" x2="557.50" y2="281.20" stroke="#A2583B" stroke-width="0.4"/>
<line x1="483.50" y1="318.00" x2="493.00" y2="312.00" stroke="#A2583B" stroke-width="0.4"/>
<circle cx="494.80" cy="311.20" r="1.6" fill="#A2583B"/>
<circle cx="499.00" cy="322.60" r="1.6" fill="#A2583B"/>
<circle cx="509.60" cy="340.00" r="1.6" fill="#A2583B"/>
<circle cx="550.80" cy="281.00" r="1.6" fill="#A2583B"/>
<circle cx="557.50" cy="281.00" r="1.6" fill="#A2583B"/>
<text x="511.50" y="292.50" font-size="4.4" text-anchor="middle" fill="#A2583B" stroke="#A2583B" stroke-width="0.123">TPM2</text>
<text x="526.00" y="296.00" font-size="4.4" text-anchor="middle" fill="#A2583B" stroke="#A2583B" stroke-width="0.123">CLU</text>
<text x="550.00" y="294.50" font-size="4.4" text-anchor="middle" fill="#A2583B" stroke="#A2583B" stroke-width="0.123">BCAM</text>
<text x="483.50" y="319.50" font-size="4.4" text-anchor="middle" fill="#A2583B" stroke="#A2583B" stroke-width="0.123">CCL11</text>
<text x="502.00" y="324.00" font-size="4.4" text-anchor="start" fill="#A2583B" stroke="#A2583B" stroke-width="0.123">PDGFRA</text>
<text x="511.00" y="338.00" font-size="4.4" text-anchor="start" fill="#A2583B" stroke="#A2583B" stroke-width="0.123">TPM1</text>
<line x1="554.90" y1="299.50" x2="557.50" y2="281.20" stroke="#A2583B" stroke-width="0.4"/>
<rect x="547.60" y="299.50" width="14.60" height="4.50" fill="#fff" stroke="#e0605a" stroke-width="0.6"/>
<text x="554.90" y="303.35" font-size="4.4" text-anchor="middle" fill="#A2583B" stroke="#A2583B" stroke-width="0.123">HSPB1</text>
<rect x="469.8" y="280.5" width="96.20" height="66.70" fill="none" stroke="#aaa" stroke-width="0.6"/>
<text x="567.00" y="278.30" font-size="11" text-anchor="start" font-weight="bold" fill="#000">H</text>
<text x="627.50" y="278.20" font-size="9.4" text-anchor="middle" fill="#111" stroke="#111" stroke-width="0.263">RJ-BK-Cohort</text>
<text x="572.50" y="314.00" font-size="7.0" text-anchor="middle" fill="#111" stroke="#111" stroke-width="0.196" transform="rotate(-90 572.50 314.00)">−log10(P−Val)</text>
<line x1="580.50" y1="283.40" x2="582.30" y2="283.40" stroke="#555" stroke-width="0.4"/>
<text x="579.70" y="284.90" font-size="4.6" text-anchor="end" fill="#444" stroke="#444" stroke-width="0.129">20</text>
<line x1="580.50" y1="298.30" x2="582.30" y2="298.30" stroke="#555" stroke-width="0.4"/>
<text x="579.70" y="299.80" font-size="4.6" text-anchor="end" fill="#444" stroke="#444" stroke-width="0.129">15</text>
<line x1="580.50" y1="313.50" x2="582.30" y2="313.50" stroke="#555" stroke-width="0.4"/>
<text x="579.70" y="315.00" font-size="4.6" text-anchor="end" fill="#444" stroke="#444" stroke-width="0.129">10</text>
<line x1="580.50" y1="329.00" x2="582.30" y2="329.00" stroke="#555" stroke-width="0.4"/>
<text x="579.70" y="330.50" font-size="4.6" text-anchor="end" fill="#444" stroke="#444" stroke-width="0.129">5</text>
<line x1="580.50" y1="344.30" x2="582.30" y2="344.30" stroke="#555" stroke-width="0.4"/>
<text x="579.70" y="345.80" font-size="4.6" text-anchor="end" fill="#444" stroke="#444" stroke-width="0.129">0</text>
<line x1="598.30" y1="347.20" x2="598.30" y2="349.00" stroke="#555" stroke-width="0.4"/>
<text x="598.30" y="353.60" font-size="4.6" text-anchor="middle" fill="#444" stroke="#444" stroke-width="0.129">−0.6</text>
<line x1="613.50" y1="347.20" x2="613.50" y2="349.00" stroke="#555" stroke-width="0.4"/>
<text x="613.50" y="353.60" font-size="4.6" text-anchor="middle" fill="#444" stroke="#444" stroke-width="0.129">−0.3</text>
<line x1="629.00" y1="347.20" x2="629.00" y2="349.00" stroke="#555" stroke-width="0.4"/>
<text x="629.00" y="353.60" font-size="4.6" text-anchor="middle" fill="#444" stroke="#444" stroke-width="0.129">0</text>
<line x1="644.50" y1="347.20" x2="644.50" y2="349.00" stroke="#555" stroke-width="0.4"/>
<text x="644.50" y="353.60" font-size="4.6" text-anchor="middle" fill="#444" stroke="#444" stroke-width="0.129">0.3</text>
<line x1="660.00" y1="347.20" x2="660.00" y2="349.00" stroke="#555" stroke-width="0.4"/>
<text x="660.00" y="353.60" font-size="4.6" text-anchor="middle" fill="#444" stroke="#444" stroke-width="0.129">0.6</text>
<text x="629.10" y="361.90" font-size="7.04" text-anchor="middle" fill="#111" stroke="#111" stroke-width="0.197">Spearman's rank coefficient</text>
<line x1="613.50" y1="280.50" x2="613.50" y2="347.20" stroke="#999" stroke-width="0.5" stroke-dasharray="2.2,1.6"/>
<line x1="644.50" y1="280.50" x2="644.50" y2="347.20" stroke="#999" stroke-width="0.5" stroke-dasharray="2.2,1.6"/>
<line x1="582.30" y1="339.90" x2="675.90" y2="339.90" stroke="#ccc" stroke-width="0.6" stroke-dasharray="2.2,1.6"/>
<path d="M592.80,318.00 L594.02,319.34 L595.23,320.65 L596.45,321.91 L597.67,323.14 L598.88,324.33 L600.10,325.49 L601.32,326.60 L602.53,327.68 L603.75,328.72 L604.97,329.72 L606.18,330.68 L607.40,331.61 L608.62,332.50 L609.83,333.35 L611.05,334.16 L612.27,334.94 L613.48,335.68 L614.70,336.37 L615.92,337.04 L617.13,337.66 L618.35,338.25 L619.57,338.79 L620.78,339.31 L622.00,339.78 L623.22,340.21 L624.43,340.61 L625.65,340.97 L626.87,341.29 L628.08,341.57 L629.30,341.82 L630.52,342.03 L631.73,342.20 L632.95,342.33 L634.17,342.42 L635.38,342.48 L636.60,342.50 L637.82,342.45 L639.03,342.31 L640.25,342.07 L641.47,341.73 L642.68,341.29 L643.90,340.76 L645.12,340.14 L646.33,339.41 L647.55,338.59 L648.77,337.67 L649.98,336.66 L651.20,335.55 L652.42,334.34 L653.63,333.04 L654.85,331.64 L656.07,330.14 L657.28,328.55 L658.50,326.86 L659.72,325.08 L660.93,323.19 L662.15,321.22 L663.37,319.14 L664.58,316.97 L665.80,314.70" fill="none" stroke="#dcdcdc" stroke-width="1.4" stroke-linecap="round"/>
<path d="M592.80,318.00 L594.99,320.39 L597.18,322.65 L599.37,324.80 L601.56,326.82 L603.75,328.72 L605.94,330.49 L608.13,332.15 L610.32,333.68 L612.51,335.09 L614.70,336.38 L616.89,337.54 L619.08,338.58 L621.27,339.50 L623.46,340.30 L625.65,340.97 L627.84,341.52 L630.03,341.95 L632.22,342.25 L634.41,342.44 L636.60,342.50" fill="none" stroke="#9DA88F" stroke-width="3.2" stroke-opacity="0.6" stroke-linecap="round"/>
<path d="M636.60,342.50 L638.06,342.43 L639.52,342.22 L640.98,341.87 L642.44,341.39 L643.90,340.76 L645.36,340.00 L646.82,339.09 L648.28,338.05 L649.74,336.87 L651.20,335.55 L652.66,334.09 L654.12,332.49 L655.58,330.75 L657.04,328.88 L658.50,326.86 L659.96,324.71 L661.42,322.41 L662.88,319.98 L664.34,317.41 L665.80,314.70" fill="none" stroke="#9DA88F" stroke-width="3.2" stroke-opacity="0.6" stroke-linecap="round"/>
<line x1="623.50" y1="322.50" x2="634.00" y2="341.00" stroke="#7D8971" stroke-width="0.4"/>
<line x1="656.00" y1="312.50" x2="662.00" y2="320.00" stroke="#7D8971" stroke-width="0.4"/>
<line x1="667.00" y1="332.50" x2="664.00" y2="324.00" stroke="#7D8971" stroke-width="0.4"/>
<line x1="645.50" y1="289.00" x2="668.00" y2="281.20" stroke="#7D8971" stroke-width="0.4"/>
<circle cx="620.20" cy="342.10" r="1.6" fill="#6E7B62"/>
<circle cx="636.60" cy="342.50" r="1.6" fill="#6E7B62"/>
<circle cx="642.70" cy="340.30" r="1.6" fill="#6E7B62"/>
<circle cx="663.10" cy="322.40" r="1.6" fill="#6E7B62"/>
<text x="616.00" y="339.00" font-size="4.4" text-anchor="middle" fill="#7D8971" stroke="#7D8971" stroke-width="0.123">CCL11</text>
<text x="623.50" y="324.00" font-size="4.4" text-anchor="middle" fill="#7D8971" stroke="#7D8971" stroke-width="0.123">PDGFRA</text>
<text x="645.00" y="335.50" font-size="4.4" text-anchor="middle" fill="#7D8971" stroke="#7D8971" stroke-width="0.123">TPM1</text>
<text x="656.00" y="314.00" font-size="4.4" text-anchor="middle" fill="#7D8971" stroke="#7D8971" stroke-width="0.123">BCAM</text>
<text x="667.00" y="334.00" font-size="4.4" text-anchor="middle" fill="#7D8971" stroke="#7D8971" stroke-width="0.123">CLU</text>
<text x="645.50" y="290.50" font-size="4.4" text-anchor="middle" fill="#7D8971" stroke="#7D8971" stroke-width="0.123">TPM2</text>
<line x1="667.05" y1="286.50" x2="672.00" y2="281.20" stroke="#7D8971" stroke-width="0.4"/>
<rect x="659.50" y="286.50" width="15.10" height="4.50" fill="#fff" stroke="#e0605a" stroke-width="0.6"/>
<text x="667.05" y="290.35" font-size="4.4" text-anchor="middle" fill="#7D8971" stroke="#7D8971" stroke-width="0.123">HSPB1</text>
<rect x="582.3" y="280.5" width="93.60" height="66.70" fill="none" stroke="#aaa" stroke-width="0.6"/>
<text x="2.20" y="381.50" font-size="11" text-anchor="start" font-weight="bold" fill="#000">I</text>
<rect x="20.70" y="385.70" width="15.70" height="50.10" fill="#E4825A"/>
<text x="31.00" y="410.75" font-size="7.1" text-anchor="middle" fill="#fff" transform="rotate(-90 31.00 410.75)">T cells</text>
<rect x="20.70" y="435.80" width="15.70" height="48.00" fill="#2E6A6A"/>
<text x="31.00" y="459.80" font-size="7.1" text-anchor="middle" fill="#fff" transform="rotate(-90 31.00 459.80)">Epithelial cells</text>
<rect x="20.70" y="483.80" width="15.70" height="43.20" fill="#DDB866"/>
<text x="31.00" y="505.40" font-size="7.1" text-anchor="middle" fill="#fff" transform="rotate(-90 31.00 505.40)">Fibroblasts</text>
<rect x="20.70" y="527.00" width="15.70" height="53.40" fill="#4B9473"/>
<text x="31.00" y="553.70" font-size="7.1" text-anchor="middle" fill="#fff" transform="rotate(-90 31.00 553.70)">Plasma cells</text>
<rect x="20.70" y="580.40" width="15.70" height="47.60" fill="#6A7257"/>
<text x="31.00" y="604.20" font-size="7.1" text-anchor="middle" fill="#fff" transform="rotate(-90 31.00 604.20)">Monocytes</text>
<rect x="20.70" y="628.00" width="15.70" height="48.20" fill="#9CCAB0"/>
<text x="31.00" y="652.10" font-size="7.1" text-anchor="middle" fill="#fff" transform="rotate(-90 31.00 652.10)">B cells</text>
<rect x="20.70" y="676.20" width="15.70" height="47.70" fill="#E7DEC4"/>
<text x="31.00" y="700.05" font-size="7.1" text-anchor="middle" fill="#fff" transform="rotate(-90 31.00 700.05)">Endothelial cells</text>
<rect x="20.70" y="723.90" width="15.70" height="48.20" fill="#B2B7A0"/>
<text x="31.00" y="748.00" font-size="7.1" text-anchor="middle" fill="#fff" transform="rotate(-90 31.00 748.00)">Mast cells</text>
<rect x="20.70" y="772.10" width="15.70" height="51.40" fill="#8E4A35"/>
<text x="31.00" y="797.80" font-size="7.1" text-anchor="middle" fill="#fff" transform="rotate(-90 31.00 797.80)">Glial cells</text>
<path d="M40.40,400.05 L40.93,391.67 L41.46,389.15 L42.00,389.17 L42.53,389.45 L43.06,390.02 L43.59,390.83 L44.12,391.82 L44.66,392.92 L45.19,394.05 L45.72,395.15 L46.25,396.17 L46.79,397.06 L47.32,397.81 L47.85,398.43 L48.38,398.91 L48.91,399.27 L49.45,399.53 L49.98,399.71 L50.51,399.84 L51.04,399.92 L51.58,399.97 L52.11,400.01 L52.64,400.03 L53.17,400.04 L53.70,400.04 L54.24,400.05 L54.77,400.05 L55.30,400.05 L55.83,400.05 L56.36,400.05 L56.90,400.05 L57.43,400.05 L57.96,400.05 L58.49,400.04 L59.02,400.04 L59.56,400.04 L60.09,400.04 L60.62,400.03 L61.15,400.03 L61.69,400.02 L62.22,400.02 L62.75,400.01 L63.28,400.00 L63.81,399.98 L64.35,399.97 L64.88,399.95 L65.41,399.92 L65.94,399.89 L66.47,399.86 L67.01,399.82 L67.54,399.78 L68.07,399.73 L68.60,399.67 L69.14,399.61 L69.67,399.54 L70.20,399.46 L70.73,399.38 L71.26,399.28 L71.80,399.19 L72.33,399.08 L72.86,398.97 L73.39,398.86 L73.92,398.74 L74.46,398.63 L74.99,398.51 L75.52,398.40 L76.05,398.29 L76.59,398.18 L77.12,398.09 L77.65,398.00 L78.18,397.92 L78.71,397.86 L79.25,397.81 L79.78,397.77 L80.31,397.75 L80.84,397.75 L81.38,397.76 L81.91,397.79 L82.44,397.83 L82.97,397.89 L83.50,397.96 L84.04,398.05 L84.57,398.14 L85.10,398.24 L85.63,398.35 L86.16,398.46 L86.70,398.57 L87.23,398.69 L87.76,398.81 L88.29,398.92 L88.82,399.03 L89.36,399.14 L89.89,399.24 L90.42,399.33 L90.95,399.42 L91.49,399.50 L92.02,399.58 L92.55,399.64 L93.08,399.70 L93.61,399.76 L94.15,399.80 L94.68,399.84 L95.21,399.88 L95.74,399.91 L96.28,399.93 L96.81,399.96 L97.34,399.97 L97.87,399.99 L98.40,400.00 L98.94,400.01 L99.47,400.02 L100.00,400.03 L100.53,400.03 L101.06,400.04 L101.60,400.04 L102.13,400.04 L102.66,400.05 L103.19,400.07 L103.72,400.08 L104.26,400.10 L104.79,400.11 L105.32,400.13 L105.85,400.14 L106.39,400.16 L106.92,400.17 L107.45,400.19 L107.98,400.20 L108.51,400.22 L109.05,400.23 L109.58,400.25 L110.11,400.26 L110.64,400.28 L111.18,400.29 L111.71,400.31 L112.24,400.33 L112.77,400.35 L113.30,400.37 L113.84,400.39 L114.37,400.40 L114.90,400.40 L114.90,400.40 L114.37,400.40 L113.84,400.41 L113.30,400.43 L112.77,400.45 L112.24,400.47 L111.71,400.49 L111.18,400.51 L110.64,400.52 L110.11,400.54 L109.58,400.55 L109.05,400.57 L108.51,400.58 L107.98,400.60 L107.45,400.61 L106.92,400.63 L106.39,400.64 L105.85,400.66 L105.32,400.67 L104.79,400.69 L104.26,400.70 L103.72,400.72 L103.19,400.73 L102.66,400.75 L102.13,400.76 L101.60,400.76 L101.06,400.76 L100.53,400.77 L100.00,400.77 L99.47,400.78 L98.94,400.79 L98.40,400.80 L97.87,400.81 L97.34,400.83 L96.81,400.84 L96.28,400.87 L95.74,400.89 L95.21,400.92 L94.68,400.96 L94.15,401.00 L93.61,401.04 L93.08,401.10 L92.55,401.16 L92.02,401.22 L91.49,401.30 L90.95,401.38 L90.42,401.47 L89.89,401.56 L89.36,401.66 L88.82,401.77 L88.29,401.88 L87.76,401.99 L87.23,402.11 L86.70,402.23 L86.16,402.34 L85.63,402.45 L85.10,402.56 L84.57,402.66 L84.04,402.75 L83.50,402.84 L82.97,402.91 L82.44,402.97 L81.91,403.01 L81.38,403.04 L80.84,403.05 L80.31,403.05 L79.78,403.03 L79.25,402.99 L78.71,402.94 L78.18,402.88 L77.65,402.80 L77.12,402.71 L76.59,402.62 L76.05,402.51 L75.52,402.40 L74.99,402.29 L74.46,402.17 L73.92,402.06 L73.39,401.94 L72.86,401.83 L72.33,401.72 L71.80,401.61 L71.26,401.52 L70.73,401.42 L70.20,401.34 L69.67,401.26 L69.14,401.19 L68.60,401.13 L68.07,401.07 L67.54,401.02 L67.01,400.98 L66.47,400.94 L65.94,400.91 L65.41,400.88 L64.88,400.85 L64.35,400.83 L63.81,400.82 L63.28,400.80 L62.75,400.79 L62.22,400.78 L61.69,400.78 L61.15,400.77 L60.62,400.77 L60.09,400.76 L59.56,400.76 L59.02,400.76 L58.49,400.76 L57.96,400.75 L57.43,400.75 L56.90,400.75 L56.36,400.75 L55.83,400.75 L55.30,400.75 L54.77,400.75 L54.24,400.75 L53.70,400.76 L53.17,400.76 L52.64,400.77 L52.11,400.79 L51.58,400.83 L51.04,400.88 L50.51,400.96 L49.98,401.09 L49.45,401.27 L48.91,401.53 L48.38,401.89 L47.85,402.37 L47.32,402.99 L46.79,403.74 L46.25,404.63 L45.72,405.65 L45.19,406.75 L44.66,407.88 L44.12,408.98 L43.59,409.97 L43.06,410.78 L42.53,411.35 L42.00,411.63 L41.46,411.65 L40.93,409.13 L40.40,400.75Z" fill="#4A7D77"/>
<path d="M40.40,423.95 L40.97,415.41 L41.55,413.25 L42.12,413.31 L42.69,413.68 L43.26,414.38 L43.84,415.33 L44.41,416.44 L44.98,417.63 L45.56,418.81 L46.13,419.91 L46.70,420.88 L47.27,421.70 L47.85,422.35 L48.42,422.86 L48.99,423.22 L49.57,423.49 L50.14,423.66 L50.71,423.78 L51.28,423.85 L51.86,423.89 L52.43,423.92 L53.00,423.93 L53.58,423.94 L54.15,423.95 L54.72,423.95 L55.29,423.95 L55.87,423.95 L56.44,423.95 L57.01,423.95 L57.59,423.95 L58.16,423.94 L58.73,423.94 L59.30,423.94 L59.88,423.94 L60.45,423.93 L61.02,423.92 L61.60,423.92 L62.17,423.91 L62.74,423.89 L63.31,423.88 L63.89,423.86 L64.46,423.83 L65.03,423.81 L65.61,423.77 L66.18,423.73 L66.75,423.68 L67.32,423.62 L67.90,423.55 L68.47,423.48 L69.04,423.39 L69.62,423.29 L70.19,423.18 L70.76,423.06 L71.33,422.93 L71.91,422.79 L72.48,422.65 L73.05,422.49 L73.63,422.33 L74.20,422.17 L74.77,422.01 L75.34,421.84 L75.92,421.69 L76.49,421.54 L77.06,421.40 L77.64,421.28 L78.21,421.17 L78.78,421.08 L79.35,421.02 L79.93,420.97 L80.50,420.95 L81.07,420.96 L81.65,420.98 L82.22,421.03 L82.79,421.11 L83.36,421.20 L83.94,421.31 L84.51,421.44 L85.08,421.58 L85.66,421.73 L86.23,421.89 L86.80,422.06 L87.37,422.22 L87.95,422.38 L88.52,422.54 L89.09,422.69 L89.67,422.84 L90.24,422.97 L90.81,423.10 L91.38,423.22 L91.96,423.32 L92.53,423.42 L93.10,423.50 L93.68,423.57 L94.25,423.64 L94.82,423.69 L95.39,423.74 L95.97,423.78 L96.54,423.81 L97.11,423.84 L97.69,423.86 L98.26,423.88 L98.83,423.90 L99.40,423.91 L99.98,423.92 L100.55,423.93 L101.12,423.93 L101.70,423.94 L102.27,423.94 L102.84,423.94 L103.41,423.94 L103.99,423.95 L104.56,423.95 L105.13,423.95 L105.71,423.95 L106.28,423.95 L106.85,423.95 L107.42,423.95 L108.00,423.97 L108.57,423.98 L109.14,424.00 L109.72,424.01 L110.29,424.03 L110.86,424.04 L111.43,424.06 L112.01,424.07 L112.58,424.09 L113.15,424.10 L113.73,424.12 L114.30,424.13 L114.87,424.15 L115.44,424.16 L116.02,424.18 L116.59,424.19 L117.16,424.21 L117.74,424.23 L118.31,424.25 L118.88,424.27 L119.45,424.28 L120.03,424.30 L120.60,424.30 L120.60,424.30 L120.03,424.30 L119.45,424.32 L118.88,424.33 L118.31,424.35 L117.74,424.37 L117.16,424.39 L116.59,424.41 L116.02,424.42 L115.44,424.44 L114.87,424.45 L114.30,424.47 L113.73,424.48 L113.15,424.50 L112.58,424.51 L112.01,424.53 L111.43,424.54 L110.86,424.56 L110.29,424.57 L109.72,424.59 L109.14,424.60 L108.57,424.62 L108.00,424.63 L107.42,424.65 L106.85,424.65 L106.28,424.65 L105.71,424.65 L105.13,424.65 L104.56,424.65 L103.99,424.65 L103.41,424.66 L102.84,424.66 L102.27,424.66 L101.70,424.66 L101.12,424.67 L100.55,424.67 L99.98,424.68 L99.40,424.69 L98.83,424.70 L98.26,424.72 L97.69,424.74 L97.11,424.76 L96.54,424.79 L95.97,424.82 L95.39,424.86 L94.82,424.91 L94.25,424.96 L93.68,425.03 L93.10,425.10 L92.53,425.18 L91.96,425.28 L91.38,425.38 L90.81,425.50 L90.24,425.63 L89.67,425.76 L89.09,425.91 L88.52,426.06 L87.95,426.22 L87.37,426.38 L86.80,426.54 L86.23,426.71 L85.66,426.87 L85.08,427.02 L84.51,427.16 L83.94,427.29 L83.36,427.40 L82.79,427.49 L82.22,427.57 L81.65,427.62 L81.07,427.64 L80.50,427.65 L79.93,427.63 L79.35,427.58 L78.78,427.52 L78.21,427.43 L77.64,427.32 L77.06,427.20 L76.49,427.06 L75.92,426.91 L75.34,426.76 L74.77,426.59 L74.20,426.43 L73.63,426.27 L73.05,426.11 L72.48,425.95 L71.91,425.81 L71.33,425.67 L70.76,425.54 L70.19,425.42 L69.62,425.31 L69.04,425.21 L68.47,425.12 L67.90,425.05 L67.32,424.98 L66.75,424.92 L66.18,424.87 L65.61,424.83 L65.03,424.79 L64.46,424.77 L63.89,424.74 L63.31,424.72 L62.74,424.71 L62.17,424.69 L61.60,424.68 L61.02,424.68 L60.45,424.67 L59.88,424.66 L59.30,424.66 L58.73,424.66 L58.16,424.66 L57.59,424.65 L57.01,424.65 L56.44,424.65 L55.87,424.65 L55.29,424.65 L54.72,424.65 L54.15,424.65 L53.58,424.66 L53.00,424.67 L52.43,424.68 L51.86,424.71 L51.28,424.75 L50.71,424.82 L50.14,424.94 L49.57,425.11 L48.99,425.38 L48.42,425.74 L47.85,426.25 L47.27,426.90 L46.70,427.72 L46.13,428.69 L45.56,429.79 L44.98,430.97 L44.41,432.16 L43.84,433.27 L43.26,434.22 L42.69,434.92 L42.12,435.29 L41.55,435.35 L40.97,433.19 L40.40,424.65Z" fill="#CD4A3B"/>
<path d="M40.40,447.70 L40.99,438.85 L41.59,436.80 L42.18,436.88 L42.77,437.33 L43.37,438.11 L43.96,439.15 L44.55,440.36 L45.15,441.62 L45.74,442.84 L46.34,443.96 L46.93,444.93 L47.52,445.72 L48.12,446.33 L48.71,446.79 L49.30,447.12 L49.90,447.34 L50.49,447.49 L51.08,447.58 L51.68,447.63 L52.27,447.66 L52.86,447.68 L53.46,447.69 L54.05,447.70 L54.65,447.70 L55.24,447.70 L55.83,447.70 L56.43,447.70 L57.02,447.70 L57.61,447.70 L58.21,447.70 L58.80,447.70 L59.39,447.70 L59.99,447.70 L60.58,447.70 L61.17,447.70 L61.77,447.70 L62.36,447.70 L62.96,447.70 L63.55,447.70 L64.14,447.69 L64.74,447.69 L65.33,447.69 L65.92,447.69 L66.52,447.69 L67.11,447.68 L67.70,447.68 L68.30,447.68 L68.89,447.67 L69.48,447.67 L70.08,447.66 L70.67,447.65 L71.27,447.64 L71.86,447.63 L72.45,447.62 L73.05,447.60 L73.64,447.59 L74.23,447.57 L74.83,447.55 L75.42,447.52 L76.01,447.49 L76.61,447.46 L77.20,447.43 L77.79,447.39 L78.39,447.35 L78.98,447.30 L79.58,447.24 L80.17,447.19 L80.76,447.12 L81.36,447.05 L81.95,446.98 L82.54,446.90 L83.14,446.81 L83.73,446.72 L84.32,446.62 L84.92,446.52 L85.51,446.41 L86.10,446.30 L86.70,446.18 L87.29,446.06 L87.89,445.93 L88.48,445.81 L89.07,445.68 L89.67,445.55 L90.26,445.42 L90.85,445.29 L91.45,445.16 L92.04,445.03 L92.63,444.91 L93.23,444.79 L93.82,444.68 L94.41,444.58 L95.01,444.48 L95.60,444.40 L96.20,444.32 L96.79,444.25 L97.38,444.20 L97.98,444.15 L98.57,444.12 L99.16,444.11 L99.76,444.10 L100.35,444.11 L100.94,444.13 L101.54,444.16 L102.13,444.21 L102.72,444.26 L103.32,444.33 L103.91,444.41 L104.51,444.50 L105.10,444.60 L105.69,444.70 L106.29,444.81 L106.88,444.93 L107.47,445.06 L108.07,445.18 L108.66,445.31 L109.25,445.44 L109.85,445.58 L110.44,445.75 L111.03,445.91 L111.63,446.07 L112.22,446.23 L112.82,446.39 L113.41,446.54 L114.00,446.68 L114.60,446.83 L115.19,446.96 L115.78,447.09 L116.38,447.22 L116.97,447.34 L117.56,447.45 L118.16,447.56 L118.75,447.66 L119.34,447.76 L119.94,447.85 L120.53,447.94 L121.13,448.09 L121.72,448.22 L122.31,448.33 L122.91,448.41 L123.50,448.50 L123.50,448.50 L122.91,448.59 L122.31,448.67 L121.72,448.78 L121.13,448.91 L120.53,449.06 L119.94,449.15 L119.34,449.24 L118.75,449.34 L118.16,449.44 L117.56,449.55 L116.97,449.66 L116.38,449.78 L115.78,449.91 L115.19,450.04 L114.60,450.17 L114.00,450.32 L113.41,450.46 L112.82,450.61 L112.22,450.77 L111.63,450.93 L111.03,451.09 L110.44,451.25 L109.85,451.42 L109.25,451.56 L108.66,451.69 L108.07,451.82 L107.47,451.94 L106.88,452.07 L106.29,452.19 L105.69,452.30 L105.10,452.40 L104.51,452.50 L103.91,452.59 L103.32,452.67 L102.72,452.74 L102.13,452.79 L101.54,452.84 L100.94,452.87 L100.35,452.89 L99.76,452.90 L99.16,452.89 L98.57,452.88 L97.98,452.85 L97.38,452.80 L96.79,452.75 L96.20,452.68 L95.60,452.60 L95.01,452.52 L94.41,452.42 L93.82,452.32 L93.23,452.21 L92.63,452.09 L92.04,451.97 L91.45,451.84 L90.85,451.71 L90.26,451.58 L89.67,451.45 L89.07,451.32 L88.48,451.19 L87.89,451.07 L87.29,450.94 L86.70,450.82 L86.10,450.70 L85.51,450.59 L84.92,450.48 L84.32,450.38 L83.73,450.28 L83.14,450.19 L82.54,450.10 L81.95,450.02 L81.36,449.95 L80.76,449.88 L80.17,449.81 L79.58,449.76 L78.98,449.70 L78.39,449.65 L77.79,449.61 L77.20,449.57 L76.61,449.54 L76.01,449.51 L75.42,449.48 L74.83,449.45 L74.23,449.43 L73.64,449.41 L73.05,449.40 L72.45,449.38 L71.86,449.37 L71.27,449.36 L70.67,449.35 L70.08,449.34 L69.48,449.33 L68.89,449.33 L68.30,449.32 L67.70,449.32 L67.11,449.32 L66.52,449.31 L65.92,449.31 L65.33,449.31 L64.74,449.31 L64.14,449.31 L63.55,449.30 L62.96,449.30 L62.36,449.30 L61.77,449.30 L61.17,449.30 L60.58,449.30 L59.99,449.30 L59.39,449.30 L58.80,449.30 L58.21,449.30 L57.61,449.30 L57.02,449.30 L56.43,449.30 L55.83,449.30 L55.24,449.30 L54.65,449.30 L54.05,449.30 L53.46,449.31 L52.86,449.32 L52.27,449.34 L51.68,449.37 L51.08,449.42 L50.49,449.51 L49.90,449.66 L49.30,449.88 L48.71,450.21 L48.12,450.67 L47.52,451.28 L46.93,452.07 L46.34,453.04 L45.74,454.16 L45.15,455.38 L44.55,456.64 L43.96,457.85 L43.37,458.89 L42.77,459.67 L42.18,460.12 L41.59,460.20 L40.99,458.15 L40.40,449.30Z" fill="#4A7D77"/>
<path d="M40.40,471.70 L41.04,462.44 L41.68,460.70 L42.31,460.85 L42.95,461.43 L43.59,462.39 L44.23,463.60 L44.86,464.95 L45.50,466.31 L46.14,467.57 L46.78,468.67 L47.42,469.57 L48.05,470.26 L48.69,470.77 L49.33,471.12 L49.97,471.36 L50.61,471.51 L51.24,471.59 L51.88,471.64 L52.52,471.67 L53.16,471.69 L53.79,471.69 L54.43,471.70 L55.07,471.70 L55.71,471.70 L56.35,471.70 L56.98,471.70 L57.62,471.70 L58.26,471.70 L58.90,471.70 L59.54,471.70 L60.17,471.70 L60.81,471.70 L61.45,471.70 L62.09,471.70 L62.72,471.70 L63.36,471.70 L64.00,471.70 L64.64,471.70 L65.28,471.70 L65.91,471.70 L66.55,471.70 L67.19,471.70 L67.83,471.70 L68.47,471.70 L69.10,471.70 L69.74,471.70 L70.38,471.70 L71.02,471.70 L71.65,471.70 L72.29,471.70 L72.93,471.70 L73.57,471.70 L74.21,471.70 L74.84,471.69 L75.48,471.69 L76.12,471.69 L76.76,471.68 L77.40,471.68 L78.03,471.67 L78.67,471.66 L79.31,471.65 L79.95,471.63 L80.58,471.61 L81.22,471.58 L81.86,471.55 L82.50,471.51 L83.14,471.45 L83.77,471.39 L84.41,471.31 L85.05,471.22 L85.69,471.10 L86.33,470.97 L86.96,470.81 L87.60,470.63 L88.24,470.42 L88.88,470.18 L89.51,469.90 L90.15,469.59 L90.79,469.25 L91.43,468.87 L92.07,468.46 L92.70,468.02 L93.34,467.54 L93.98,467.04 L94.62,466.52 L95.26,465.98 L95.89,465.43 L96.53,464.88 L97.17,464.33 L97.81,463.80 L98.44,463.29 L99.08,462.82 L99.72,462.39 L100.36,462.01 L101.00,461.69 L101.63,461.43 L102.27,461.24 L102.91,461.13 L103.55,461.10 L104.19,461.15 L104.82,461.27 L105.46,461.46 L106.10,461.73 L106.74,462.06 L107.37,462.45 L108.01,462.89 L108.65,463.37 L109.29,463.88 L109.93,464.41 L110.56,464.96 L111.20,465.51 L111.84,466.06 L112.48,466.60 L113.12,467.12 L113.75,467.62 L114.39,468.09 L115.03,468.54 L115.67,468.98 L116.30,469.39 L116.94,469.77 L117.58,470.11 L118.22,470.42 L118.86,470.70 L119.49,470.94 L120.13,471.16 L120.77,471.35 L121.41,471.52 L122.05,471.67 L122.68,471.80 L123.32,471.91 L123.96,472.01 L124.60,472.10 L125.23,472.18 L125.87,472.26 L126.51,472.32 L127.15,472.40 L127.79,472.48 L128.42,472.54 L129.06,472.58 L129.70,472.60 L129.70,472.60 L129.06,472.62 L128.42,472.66 L127.79,472.72 L127.15,472.80 L126.51,472.88 L125.87,472.94 L125.23,473.02 L124.60,473.10 L123.96,473.19 L123.32,473.29 L122.68,473.40 L122.05,473.53 L121.41,473.68 L120.77,473.85 L120.13,474.04 L119.49,474.26 L118.86,474.50 L118.22,474.78 L117.58,475.09 L116.94,475.43 L116.30,475.81 L115.67,476.22 L115.03,476.66 L114.39,477.11 L113.75,477.58 L113.12,478.08 L112.48,478.60 L111.84,479.14 L111.20,479.69 L110.56,480.24 L109.93,480.79 L109.29,481.32 L108.65,481.83 L108.01,482.31 L107.37,482.75 L106.74,483.14 L106.10,483.47 L105.46,483.74 L104.82,483.93 L104.19,484.05 L103.55,484.10 L102.91,484.07 L102.27,483.96 L101.63,483.77 L101.00,483.51 L100.36,483.19 L99.72,482.81 L99.08,482.38 L98.44,481.91 L97.81,481.40 L97.17,480.87 L96.53,480.32 L95.89,479.77 L95.26,479.22 L94.62,478.68 L93.98,478.16 L93.34,477.66 L92.70,477.18 L92.07,476.74 L91.43,476.33 L90.79,475.95 L90.15,475.61 L89.51,475.30 L88.88,475.02 L88.24,474.78 L87.60,474.57 L86.96,474.39 L86.33,474.23 L85.69,474.10 L85.05,473.98 L84.41,473.89 L83.77,473.81 L83.14,473.75 L82.50,473.69 L81.86,473.65 L81.22,473.62 L80.58,473.59 L79.95,473.57 L79.31,473.55 L78.67,473.54 L78.03,473.53 L77.40,473.52 L76.76,473.52 L76.12,473.51 L75.48,473.51 L74.84,473.51 L74.21,473.50 L73.57,473.50 L72.93,473.50 L72.29,473.50 L71.65,473.50 L71.02,473.50 L70.38,473.50 L69.74,473.50 L69.10,473.50 L68.47,473.50 L67.83,473.50 L67.19,473.50 L66.55,473.50 L65.91,473.50 L65.28,473.50 L64.64,473.50 L64.00,473.50 L63.36,473.50 L62.72,473.50 L62.09,473.50 L61.45,473.50 L60.81,473.50 L60.17,473.50 L59.54,473.50 L58.90,473.50 L58.26,473.50 L57.62,473.50 L56.98,473.50 L56.35,473.50 L55.71,473.50 L55.07,473.50 L54.43,473.50 L53.79,473.51 L53.16,473.51 L52.52,473.53 L51.88,473.56 L51.24,473.61 L50.61,473.69 L49.97,473.84 L49.33,474.08 L48.69,474.43 L48.05,474.94 L47.42,475.63 L46.78,476.53 L46.14,477.63 L45.50,478.89 L44.86,480.25 L44.23,481.60 L43.59,482.81 L42.95,483.77 L42.31,484.35 L41.68,484.50 L41.04,482.76 L40.40,473.50Z" fill="#CD4A3B"/>
<path d="M40.40,495.50 L41.04,488.77 L41.68,487.50 L42.31,487.61 L42.95,488.03 L43.59,488.73 L44.23,489.61 L44.86,490.59 L45.50,491.58 L46.14,492.50 L46.78,493.30 L47.42,493.95 L48.05,494.45 L48.69,494.82 L49.33,495.08 L49.97,495.25 L50.61,495.36 L51.24,495.42 L51.88,495.46 L52.52,495.48 L53.16,495.49 L53.79,495.50 L54.43,495.50 L55.07,495.50 L55.71,495.50 L56.35,495.50 L56.98,495.50 L57.62,495.50 L58.26,495.50 L58.90,495.50 L59.54,495.50 L60.17,495.50 L60.81,495.50 L61.45,495.50 L62.09,495.50 L62.72,495.49 L63.36,495.49 L64.00,495.49 L64.64,495.49 L65.28,495.48 L65.91,495.48 L66.55,495.47 L67.19,495.46 L67.83,495.45 L68.47,495.44 L69.10,495.43 L69.74,495.41 L70.38,495.38 L71.02,495.35 L71.65,495.32 L72.29,495.27 L72.93,495.22 L73.57,495.16 L74.21,495.09 L74.84,495.00 L75.48,494.90 L76.12,494.79 L76.76,494.65 L77.40,494.50 L78.03,494.32 L78.67,494.13 L79.31,493.90 L79.95,493.66 L80.58,493.38 L81.22,493.08 L81.86,492.75 L82.50,492.40 L83.14,492.02 L83.77,491.61 L84.41,491.18 L85.05,490.73 L85.69,490.27 L86.33,489.79 L86.96,489.30 L87.60,488.81 L88.24,488.31 L88.88,487.83 L89.51,487.36 L90.15,486.91 L90.79,486.49 L91.43,486.10 L92.07,485.75 L92.70,485.44 L93.34,485.18 L93.98,484.97 L94.62,484.82 L95.26,484.73 L95.89,484.70 L96.53,484.73 L97.17,484.82 L97.81,484.97 L98.44,485.18 L99.08,485.43 L99.72,485.74 L100.36,486.09 L101.00,486.48 L101.63,486.90 L102.27,487.35 L102.91,487.82 L103.55,488.31 L104.19,488.80 L104.82,489.29 L105.46,489.78 L106.10,490.26 L106.74,490.72 L107.37,491.17 L108.01,491.60 L108.65,492.01 L109.29,492.39 L109.93,492.75 L110.56,493.07 L111.20,493.38 L111.84,493.65 L112.48,493.90 L113.12,494.12 L113.75,494.32 L114.39,494.49 L115.03,494.66 L115.67,494.84 L116.30,494.99 L116.94,495.13 L117.58,495.25 L118.22,495.37 L118.86,495.47 L119.49,495.56 L120.13,495.64 L120.77,495.71 L121.41,495.78 L122.05,495.84 L122.68,495.90 L123.32,495.96 L123.96,496.01 L124.60,496.06 L125.23,496.10 L125.87,496.15 L126.51,496.19 L127.15,496.25 L127.79,496.31 L128.42,496.35 L129.06,496.39 L129.70,496.40 L129.70,496.40 L129.06,496.41 L128.42,496.45 L127.79,496.49 L127.15,496.55 L126.51,496.61 L125.87,496.65 L125.23,496.70 L124.60,496.74 L123.96,496.79 L123.32,496.84 L122.68,496.90 L122.05,496.96 L121.41,497.02 L120.77,497.09 L120.13,497.16 L119.49,497.24 L118.86,497.33 L118.22,497.43 L117.58,497.55 L116.94,497.67 L116.30,497.81 L115.67,497.96 L115.03,498.14 L114.39,498.31 L113.75,498.48 L113.12,498.68 L112.48,498.90 L111.84,499.15 L111.20,499.42 L110.56,499.73 L109.93,500.05 L109.29,500.41 L108.65,500.79 L108.01,501.20 L107.37,501.63 L106.74,502.08 L106.10,502.54 L105.46,503.02 L104.82,503.51 L104.19,504.00 L103.55,504.49 L102.91,504.98 L102.27,505.45 L101.63,505.90 L101.00,506.32 L100.36,506.71 L99.72,507.06 L99.08,507.37 L98.44,507.62 L97.81,507.83 L97.17,507.98 L96.53,508.07 L95.89,508.10 L95.26,508.07 L94.62,507.98 L93.98,507.83 L93.34,507.62 L92.70,507.36 L92.07,507.05 L91.43,506.70 L90.79,506.31 L90.15,505.89 L89.51,505.44 L88.88,504.97 L88.24,504.49 L87.60,503.99 L86.96,503.50 L86.33,503.01 L85.69,502.53 L85.05,502.07 L84.41,501.62 L83.77,501.19 L83.14,500.78 L82.50,500.40 L81.86,500.05 L81.22,499.72 L80.58,499.42 L79.95,499.14 L79.31,498.90 L78.67,498.67 L78.03,498.48 L77.40,498.30 L76.76,498.15 L76.12,498.01 L75.48,497.90 L74.84,497.80 L74.21,497.71 L73.57,497.64 L72.93,497.58 L72.29,497.53 L71.65,497.48 L71.02,497.45 L70.38,497.42 L69.74,497.39 L69.10,497.37 L68.47,497.36 L67.83,497.35 L67.19,497.34 L66.55,497.33 L65.91,497.32 L65.28,497.32 L64.64,497.31 L64.00,497.31 L63.36,497.31 L62.72,497.31 L62.09,497.30 L61.45,497.30 L60.81,497.30 L60.17,497.30 L59.54,497.30 L58.90,497.30 L58.26,497.30 L57.62,497.30 L56.98,497.30 L56.35,497.30 L55.71,497.30 L55.07,497.30 L54.43,497.30 L53.79,497.30 L53.16,497.31 L52.52,497.32 L51.88,497.34 L51.24,497.38 L50.61,497.44 L49.97,497.55 L49.33,497.72 L48.69,497.98 L48.05,498.35 L47.42,498.85 L46.78,499.50 L46.14,500.30 L45.50,501.22 L44.86,502.21 L44.23,503.19 L43.59,504.07 L42.95,504.77 L42.31,505.19 L41.68,505.30 L41.04,504.03 L40.40,497.30Z" fill="#4A7D77"/>
<path d="M40.40,519.90 L40.99,514.48 L41.58,513.20 L42.17,513.25 L42.76,513.51 L43.35,513.98 L43.94,514.62 L44.52,515.35 L45.11,516.12 L45.70,516.87 L46.29,517.56 L46.88,518.15 L47.47,518.64 L48.06,519.03 L48.65,519.32 L49.24,519.52 L49.83,519.67 L50.42,519.76 L51.01,519.82 L51.60,519.85 L52.19,519.88 L52.77,519.89 L53.36,519.89 L53.95,519.90 L54.54,519.90 L55.13,519.90 L55.72,519.90 L56.31,519.90 L56.90,519.90 L57.49,519.90 L58.08,519.90 L58.67,519.90 L59.26,519.90 L59.85,519.90 L60.44,519.90 L61.02,519.90 L61.61,519.90 L62.20,519.90 L62.79,519.90 L63.38,519.90 L63.97,519.90 L64.56,519.90 L65.15,519.90 L65.74,519.90 L66.33,519.90 L66.92,519.90 L67.51,519.90 L68.10,519.90 L68.69,519.90 L69.28,519.90 L69.86,519.90 L70.45,519.90 L71.04,519.90 L71.63,519.90 L72.22,519.90 L72.81,519.89 L73.40,519.89 L73.99,519.89 L74.58,519.89 L75.17,519.88 L75.76,519.87 L76.35,519.87 L76.94,519.86 L77.53,519.84 L78.11,519.83 L78.70,519.81 L79.29,519.78 L79.88,519.75 L80.47,519.71 L81.06,519.66 L81.65,519.60 L82.24,519.53 L82.83,519.45 L83.42,519.35 L84.01,519.24 L84.60,519.10 L85.19,518.94 L85.78,518.77 L86.36,518.56 L86.95,518.33 L87.54,518.07 L88.13,517.78 L88.72,517.46 L89.31,517.10 L89.90,516.72 L90.49,516.31 L91.08,515.87 L91.67,515.40 L92.26,514.92 L92.85,514.41 L93.44,513.89 L94.03,513.36 L94.61,512.83 L95.20,512.31 L95.79,511.80 L96.38,511.31 L96.97,510.84 L97.56,510.41 L98.15,510.03 L98.74,509.69 L99.33,509.40 L99.92,509.18 L100.51,509.02 L101.10,508.93 L101.69,508.90 L102.28,508.95 L102.86,509.06 L103.45,509.24 L104.04,509.48 L104.63,509.78 L105.22,510.13 L105.81,510.53 L106.40,510.97 L106.99,511.45 L107.58,511.95 L108.17,512.46 L108.76,512.99 L109.35,513.53 L109.94,514.09 L110.53,514.65 L111.11,515.19 L111.70,515.71 L112.29,516.21 L112.88,516.68 L113.47,517.12 L114.06,517.53 L114.65,517.91 L115.24,518.26 L115.83,518.58 L116.42,518.87 L117.01,519.14 L117.60,519.37 L118.19,519.58 L118.78,519.77 L119.36,519.94 L119.95,520.10 L120.54,520.31 L121.13,520.48 L121.72,520.61 L122.31,520.72 L122.90,520.80 L122.90,520.80 L122.31,520.88 L121.72,520.99 L121.13,521.12 L120.54,521.29 L119.95,521.50 L119.36,521.66 L118.78,521.83 L118.19,522.02 L117.60,522.23 L117.01,522.46 L116.42,522.73 L115.83,523.02 L115.24,523.34 L114.65,523.69 L114.06,524.07 L113.47,524.48 L112.88,524.92 L112.29,525.39 L111.70,525.89 L111.11,526.41 L110.53,526.95 L109.94,527.51 L109.35,528.07 L108.76,528.61 L108.17,529.14 L107.58,529.65 L106.99,530.15 L106.40,530.63 L105.81,531.07 L105.22,531.47 L104.63,531.82 L104.04,532.12 L103.45,532.36 L102.86,532.54 L102.28,532.65 L101.69,532.70 L101.10,532.67 L100.51,532.58 L99.92,532.42 L99.33,532.20 L98.74,531.91 L98.15,531.57 L97.56,531.19 L96.97,530.76 L96.38,530.29 L95.79,529.80 L95.20,529.29 L94.61,528.77 L94.03,528.24 L93.44,527.71 L92.85,527.19 L92.26,526.68 L91.67,526.20 L91.08,525.73 L90.49,525.29 L89.90,524.88 L89.31,524.50 L88.72,524.14 L88.13,523.82 L87.54,523.53 L86.95,523.27 L86.36,523.04 L85.78,522.83 L85.19,522.66 L84.60,522.50 L84.01,522.36 L83.42,522.25 L82.83,522.15 L82.24,522.07 L81.65,522.00 L81.06,521.94 L80.47,521.89 L79.88,521.85 L79.29,521.82 L78.70,521.79 L78.11,521.77 L77.53,521.76 L76.94,521.74 L76.35,521.73 L75.76,521.73 L75.17,521.72 L74.58,521.71 L73.99,521.71 L73.40,521.71 L72.81,521.71 L72.22,521.70 L71.63,521.70 L71.04,521.70 L70.45,521.70 L69.86,521.70 L69.28,521.70 L68.69,521.70 L68.10,521.70 L67.51,521.70 L66.92,521.70 L66.33,521.70 L65.74,521.70 L65.15,521.70 L64.56,521.70 L63.97,521.70 L63.38,521.70 L62.79,521.70 L62.20,521.70 L61.61,521.70 L61.02,521.70 L60.44,521.70 L59.85,521.70 L59.26,521.70 L58.67,521.70 L58.08,521.70 L57.49,521.70 L56.90,521.70 L56.31,521.70 L55.72,521.70 L55.13,521.70 L54.54,521.70 L53.95,521.70 L53.36,521.71 L52.77,521.71 L52.19,521.72 L51.60,521.75 L51.01,521.78 L50.42,521.84 L49.83,521.93 L49.24,522.08 L48.65,522.28 L48.06,522.57 L47.47,522.96 L46.88,523.45 L46.29,524.04 L45.70,524.73 L45.11,525.48 L44.52,526.25 L43.94,526.98 L43.35,527.62 L42.76,528.09 L42.17,528.35 L41.58,528.40 L40.99,527.12 L40.40,521.70Z" fill="#CD4A3B"/>
<path d="M40.40,543.78 L41.03,534.60 L41.65,532.78 L42.28,532.90 L42.91,533.45 L43.54,534.36 L44.16,535.54 L44.79,536.85 L45.42,538.19 L46.04,539.44 L46.67,540.55 L47.30,541.46 L47.93,542.17 L48.55,542.70 L49.18,543.08 L49.81,543.33 L50.43,543.48 L51.06,543.58 L51.69,543.63 L52.32,543.65 L52.94,543.66 L53.57,543.66 L54.20,543.66 L54.82,543.65 L55.45,543.65 L56.08,543.64 L56.71,543.63 L57.33,543.62 L57.96,543.61 L58.59,543.60 L59.21,543.59 L59.84,543.57 L60.47,543.56 L61.10,543.55 L61.72,543.54 L62.35,543.53 L62.98,543.52 L63.60,543.51 L64.23,543.50 L64.86,543.49 L65.49,543.48 L66.11,543.47 L66.74,543.46 L67.37,543.45 L67.99,543.45 L68.62,543.44 L69.25,543.43 L69.88,543.43 L70.50,543.42 L71.13,543.41 L71.76,543.41 L72.38,543.41 L73.01,543.40 L73.64,543.40 L74.27,543.40 L74.89,543.40 L75.52,543.40 L76.15,543.40 L76.77,543.40 L77.40,543.41 L78.03,543.41 L78.66,543.41 L79.28,543.42 L79.91,543.42 L80.54,543.43 L81.16,543.44 L81.79,543.44 L82.42,543.45 L83.05,543.46 L83.67,543.47 L84.30,543.48 L84.93,543.49 L85.55,543.50 L86.18,543.51 L86.81,543.52 L87.44,543.53 L88.06,543.54 L88.69,543.55 L89.32,543.56 L89.94,543.57 L90.57,543.58 L91.20,543.59 L91.83,543.60 L92.45,543.61 L93.08,543.62 L93.71,543.63 L94.33,543.64 L94.96,543.65 L95.59,543.66 L96.22,543.67 L96.84,543.68 L97.47,543.69 L98.10,543.69 L98.72,543.70 L99.35,543.71 L99.98,543.72 L100.61,543.72 L101.23,543.73 L101.86,543.73 L102.49,543.74 L103.11,543.74 L103.74,543.75 L104.37,543.75 L105.00,543.76 L105.62,543.76 L106.25,543.77 L106.88,543.77 L107.50,543.77 L108.13,543.77 L108.76,543.78 L109.39,543.78 L110.01,543.78 L110.64,543.78 L111.27,543.79 L111.89,543.79 L112.52,543.79 L113.15,543.79 L113.78,543.80 L114.40,543.84 L115.03,543.88 L115.66,543.92 L116.28,543.96 L116.91,544.00 L117.54,544.04 L118.17,544.08 L118.79,544.12 L119.42,544.16 L120.05,544.20 L120.67,544.23 L121.30,544.27 L121.93,544.31 L122.56,544.35 L123.18,544.39 L123.81,544.43 L124.44,544.47 L125.06,544.51 L125.69,544.56 L126.32,544.62 L126.95,544.66 L127.57,544.69 L128.20,544.70 L128.20,544.70 L127.57,544.71 L126.95,544.74 L126.32,544.78 L125.69,544.84 L125.06,544.89 L124.44,544.93 L123.81,544.97 L123.18,545.01 L122.56,545.05 L121.93,545.09 L121.30,545.13 L120.67,545.17 L120.05,545.20 L119.42,545.24 L118.79,545.28 L118.17,545.32 L117.54,545.36 L116.91,545.40 L116.28,545.44 L115.66,545.48 L115.03,545.52 L114.40,545.56 L113.78,545.60 L113.15,545.61 L112.52,545.61 L111.89,545.61 L111.27,545.61 L110.64,545.62 L110.01,545.62 L109.39,545.62 L108.76,545.62 L108.13,545.63 L107.50,545.63 L106.88,545.63 L106.25,545.63 L105.62,545.64 L105.00,545.64 L104.37,545.65 L103.74,545.65 L103.11,545.66 L102.49,545.66 L101.86,545.67 L101.23,545.67 L100.61,545.68 L99.98,545.68 L99.35,545.69 L98.72,545.70 L98.10,545.71 L97.47,545.71 L96.84,545.72 L96.22,545.73 L95.59,545.74 L94.96,545.75 L94.33,545.76 L93.71,545.77 L93.08,545.78 L92.45,545.79 L91.83,545.80 L91.20,545.81 L90.57,545.82 L89.94,545.83 L89.32,545.84 L88.69,545.85 L88.06,545.86 L87.44,545.87 L86.81,545.88 L86.18,545.89 L85.55,545.90 L84.93,545.91 L84.30,545.92 L83.67,545.93 L83.05,545.94 L82.42,545.95 L81.79,545.96 L81.16,545.96 L80.54,545.97 L79.91,545.98 L79.28,545.98 L78.66,545.99 L78.03,545.99 L77.40,545.99 L76.77,546.00 L76.15,546.00 L75.52,546.00 L74.89,546.00 L74.27,546.00 L73.64,546.00 L73.01,546.00 L72.38,545.99 L71.76,545.99 L71.13,545.99 L70.50,545.98 L69.88,545.97 L69.25,545.97 L68.62,545.96 L67.99,545.95 L67.37,545.95 L66.74,545.94 L66.11,545.93 L65.49,545.92 L64.86,545.91 L64.23,545.90 L63.60,545.89 L62.98,545.88 L62.35,545.87 L61.72,545.86 L61.10,545.85 L60.47,545.84 L59.84,545.83 L59.21,545.81 L58.59,545.80 L57.96,545.79 L57.33,545.78 L56.71,545.77 L56.08,545.76 L55.45,545.75 L54.82,545.75 L54.20,545.74 L53.57,545.74 L52.94,545.74 L52.32,545.75 L51.69,545.77 L51.06,545.82 L50.43,545.92 L49.81,546.07 L49.18,546.32 L48.55,546.70 L47.93,547.23 L47.30,547.94 L46.67,548.85 L46.04,549.96 L45.42,551.21 L44.79,552.55 L44.16,553.86 L43.54,555.04 L42.91,555.95 L42.28,556.50 L41.65,556.62 L41.03,554.80 L40.40,545.62Z" fill="#4A7D77"/>
<path d="M40.40,567.78 L40.98,558.96 L41.56,556.78 L42.14,556.84 L42.72,557.25 L43.30,557.99 L43.88,558.98 L44.45,560.15 L45.03,561.39 L45.61,562.60 L46.19,563.73 L46.77,564.72 L47.35,565.54 L47.93,566.20 L48.51,566.69 L49.09,567.05 L49.67,567.30 L50.25,567.47 L50.83,567.57 L51.41,567.64 L51.99,567.67 L52.56,567.69 L53.14,567.70 L53.72,567.70 L54.30,567.69 L54.88,567.69 L55.46,567.68 L56.04,567.68 L56.62,567.67 L57.20,567.66 L57.78,567.66 L58.36,567.65 L58.94,567.64 L59.52,567.64 L60.10,567.63 L60.67,567.62 L61.25,567.61 L61.83,567.61 L62.41,567.60 L62.99,567.59 L63.57,567.58 L64.15,567.58 L64.73,567.57 L65.31,567.56 L65.89,567.56 L66.47,567.55 L67.05,567.54 L67.63,567.54 L68.21,567.53 L68.78,567.53 L69.36,567.52 L69.94,567.52 L70.52,567.51 L71.10,567.51 L71.68,567.51 L72.26,567.51 L72.84,567.50 L73.42,567.50 L74.00,567.50 L74.58,567.50 L75.16,567.50 L75.74,567.50 L76.32,567.50 L76.89,567.50 L77.47,567.50 L78.05,567.51 L78.63,567.51 L79.21,567.51 L79.79,567.52 L80.37,567.52 L80.95,567.53 L81.53,567.53 L82.11,567.54 L82.69,567.54 L83.27,567.55 L83.85,567.55 L84.43,567.56 L85.00,567.57 L85.58,567.57 L86.16,567.58 L86.74,567.59 L87.32,567.59 L87.90,567.60 L88.48,567.61 L89.06,567.62 L89.64,567.62 L90.22,567.63 L90.80,567.64 L91.38,567.65 L91.96,567.65 L92.54,567.66 L93.11,567.67 L93.69,567.67 L94.27,567.68 L94.85,567.69 L95.43,567.69 L96.01,567.70 L96.59,567.71 L97.17,567.71 L97.75,567.72 L98.33,567.72 L98.91,567.73 L99.49,567.73 L100.07,567.74 L100.65,567.74 L101.22,567.75 L101.80,567.75 L102.38,567.75 L102.96,567.76 L103.54,567.76 L104.12,567.76 L104.70,567.77 L105.28,567.77 L105.86,567.77 L106.44,567.77 L107.02,567.78 L107.60,567.78 L108.18,567.79 L108.76,567.82 L109.34,567.85 L109.91,567.89 L110.49,567.92 L111.07,567.95 L111.65,567.98 L112.23,568.01 L112.81,568.04 L113.39,568.07 L113.97,568.10 L114.55,568.13 L115.13,568.16 L115.71,568.20 L116.29,568.23 L116.87,568.26 L117.44,568.29 L118.02,568.32 L118.60,568.35 L119.18,568.40 L119.76,568.44 L120.34,568.47 L120.92,568.49 L121.50,568.50 L121.50,568.50 L120.92,568.51 L120.34,568.53 L119.76,568.56 L119.18,568.60 L118.60,568.65 L118.02,568.68 L117.44,568.71 L116.87,568.74 L116.29,568.77 L115.71,568.80 L115.13,568.84 L114.55,568.87 L113.97,568.90 L113.39,568.93 L112.81,568.96 L112.23,568.99 L111.65,569.02 L111.07,569.05 L110.49,569.08 L109.91,569.11 L109.34,569.15 L108.76,569.18 L108.18,569.21 L107.60,569.22 L107.02,569.22 L106.44,569.23 L105.86,569.23 L105.28,569.23 L104.70,569.23 L104.12,569.24 L103.54,569.24 L102.96,569.24 L102.38,569.25 L101.80,569.25 L101.22,569.25 L100.65,569.26 L100.07,569.26 L99.49,569.27 L98.91,569.27 L98.33,569.28 L97.75,569.28 L97.17,569.29 L96.59,569.29 L96.01,569.30 L95.43,569.31 L94.85,569.31 L94.27,569.32 L93.69,569.33 L93.11,569.33 L92.54,569.34 L91.96,569.35 L91.38,569.35 L90.80,569.36 L90.22,569.37 L89.64,569.38 L89.06,569.38 L88.48,569.39 L87.90,569.40 L87.32,569.41 L86.74,569.41 L86.16,569.42 L85.58,569.43 L85.00,569.43 L84.43,569.44 L83.85,569.45 L83.27,569.45 L82.69,569.46 L82.11,569.46 L81.53,569.47 L80.95,569.47 L80.37,569.48 L79.79,569.48 L79.21,569.49 L78.63,569.49 L78.05,569.49 L77.47,569.50 L76.89,569.50 L76.32,569.50 L75.74,569.50 L75.16,569.50 L74.58,569.50 L74.00,569.50 L73.42,569.50 L72.84,569.50 L72.26,569.49 L71.68,569.49 L71.10,569.49 L70.52,569.49 L69.94,569.48 L69.36,569.48 L68.78,569.47 L68.21,569.47 L67.63,569.46 L67.05,569.46 L66.47,569.45 L65.89,569.44 L65.31,569.44 L64.73,569.43 L64.15,569.42 L63.57,569.42 L62.99,569.41 L62.41,569.40 L61.83,569.39 L61.25,569.39 L60.67,569.38 L60.10,569.37 L59.52,569.36 L58.94,569.36 L58.36,569.35 L57.78,569.34 L57.20,569.34 L56.62,569.33 L56.04,569.32 L55.46,569.32 L54.88,569.31 L54.30,569.31 L53.72,569.30 L53.14,569.30 L52.56,569.31 L51.99,569.33 L51.41,569.36 L50.83,569.43 L50.25,569.53 L49.67,569.70 L49.09,569.95 L48.51,570.31 L47.93,570.80 L47.35,571.46 L46.77,572.28 L46.19,573.27 L45.61,574.40 L45.03,575.61 L44.45,576.85 L43.88,578.02 L43.30,579.01 L42.72,579.75 L42.14,580.16 L41.56,580.22 L40.98,578.04 L40.40,569.22Z" fill="#CD4A3B"/>
<path d="M40.40,591.90 L40.99,583.10 L41.57,581.00 L42.16,581.07 L42.75,581.50 L43.33,582.25 L43.92,583.27 L44.50,584.45 L45.09,585.70 L45.68,586.91 L46.26,588.03 L46.85,589.01 L47.44,589.81 L48.02,590.45 L48.61,590.92 L49.20,591.26 L49.78,591.50 L50.37,591.66 L50.96,591.76 L51.54,591.81 L52.13,591.85 L52.71,591.87 L53.30,591.87 L53.89,591.88 L54.47,591.88 L55.06,591.87 L55.65,591.87 L56.23,591.86 L56.82,591.85 L57.41,591.84 L57.99,591.83 L58.58,591.82 L59.17,591.80 L59.75,591.78 L60.34,591.76 L60.92,591.74 L61.51,591.71 L62.10,591.67 L62.68,591.64 L63.27,591.59 L63.86,591.55 L64.44,591.49 L65.03,591.43 L65.62,591.37 L66.20,591.29 L66.79,591.21 L67.38,591.12 L67.96,591.03 L68.55,590.92 L69.13,590.81 L69.72,590.69 L70.31,590.56 L70.89,590.43 L71.48,590.29 L72.07,590.14 L72.65,589.98 L73.24,589.82 L73.83,589.66 L74.41,589.49 L75.00,589.32 L75.59,589.15 L76.17,588.98 L76.76,588.81 L77.34,588.65 L77.93,588.49 L78.52,588.34 L79.10,588.20 L79.69,588.06 L80.28,587.94 L80.86,587.83 L81.45,587.74 L82.04,587.66 L82.62,587.59 L83.21,587.54 L83.80,587.51 L84.38,587.50 L84.97,587.51 L85.56,587.53 L86.14,587.57 L86.73,587.63 L87.31,587.70 L87.90,587.79 L88.49,587.90 L89.07,588.01 L89.66,588.14 L90.25,588.28 L90.83,588.43 L91.42,588.59 L92.01,588.75 L92.59,588.91 L93.18,589.08 L93.76,589.25 L94.35,589.42 L94.94,589.59 L95.52,589.76 L96.11,589.92 L96.70,590.08 L97.28,590.23 L97.87,590.37 L98.46,590.51 L99.04,590.64 L99.63,590.76 L100.22,590.88 L100.80,590.99 L101.39,591.09 L101.97,591.18 L102.56,591.26 L103.15,591.34 L103.73,591.41 L104.32,591.47 L104.91,591.53 L105.49,591.58 L106.08,591.62 L106.67,591.66 L107.25,591.69 L107.84,591.72 L108.43,591.75 L109.01,591.79 L109.60,591.84 L110.19,591.89 L110.77,591.94 L111.36,591.99 L111.94,592.03 L112.53,592.08 L113.12,592.12 L113.70,592.16 L114.29,592.20 L114.88,592.24 L115.46,592.27 L116.05,592.31 L116.64,592.35 L117.22,592.38 L117.81,592.42 L118.39,592.46 L118.98,592.49 L119.57,592.53 L120.15,592.58 L120.74,592.63 L121.33,592.66 L121.91,592.69 L122.50,592.70 L122.50,592.70 L121.91,592.71 L121.33,592.74 L120.74,592.77 L120.15,592.82 L119.57,592.87 L118.98,592.91 L118.39,592.94 L117.81,592.98 L117.22,593.02 L116.64,593.05 L116.05,593.09 L115.46,593.13 L114.88,593.16 L114.29,593.20 L113.70,593.24 L113.12,593.28 L112.53,593.32 L111.94,593.37 L111.36,593.41 L110.77,593.46 L110.19,593.51 L109.60,593.56 L109.01,593.61 L108.43,593.65 L107.84,593.68 L107.25,593.71 L106.67,593.74 L106.08,593.78 L105.49,593.82 L104.91,593.87 L104.32,593.93 L103.73,593.99 L103.15,594.06 L102.56,594.14 L101.97,594.22 L101.39,594.31 L100.80,594.41 L100.22,594.52 L99.63,594.64 L99.04,594.76 L98.46,594.89 L97.87,595.03 L97.28,595.17 L96.70,595.32 L96.11,595.48 L95.52,595.64 L94.94,595.81 L94.35,595.98 L93.76,596.15 L93.18,596.32 L92.59,596.49 L92.01,596.65 L91.42,596.81 L90.83,596.97 L90.25,597.12 L89.66,597.26 L89.07,597.39 L88.49,597.50 L87.90,597.61 L87.31,597.70 L86.73,597.77 L86.14,597.83 L85.56,597.87 L84.97,597.89 L84.38,597.90 L83.80,597.89 L83.21,597.86 L82.62,597.81 L82.04,597.74 L81.45,597.66 L80.86,597.57 L80.28,597.46 L79.69,597.34 L79.10,597.20 L78.52,597.06 L77.93,596.91 L77.34,596.75 L76.76,596.59 L76.17,596.42 L75.59,596.25 L75.00,596.08 L74.41,595.91 L73.83,595.74 L73.24,595.58 L72.65,595.42 L72.07,595.26 L71.48,595.11 L70.89,594.97 L70.31,594.84 L69.72,594.71 L69.13,594.59 L68.55,594.48 L67.96,594.37 L67.38,594.28 L66.79,594.19 L66.20,594.11 L65.62,594.03 L65.03,593.97 L64.44,593.91 L63.86,593.85 L63.27,593.81 L62.68,593.76 L62.10,593.73 L61.51,593.69 L60.92,593.66 L60.34,593.64 L59.75,593.62 L59.17,593.60 L58.58,593.58 L57.99,593.57 L57.41,593.56 L56.82,593.55 L56.23,593.54 L55.65,593.53 L55.06,593.53 L54.47,593.52 L53.89,593.52 L53.30,593.53 L52.71,593.53 L52.13,593.55 L51.54,593.59 L50.96,593.64 L50.37,593.74 L49.78,593.90 L49.20,594.14 L48.61,594.48 L48.02,594.95 L47.44,595.59 L46.85,596.39 L46.26,597.37 L45.68,598.49 L45.09,599.70 L44.50,600.95 L43.92,602.13 L43.33,603.15 L42.75,603.90 L42.16,604.33 L41.57,604.40 L40.99,602.30 L40.40,593.50Z" fill="#4A7D77"/>
<path d="M40.40,615.80 L41.01,606.77 L41.61,604.80 L42.22,604.90 L42.83,605.39 L43.44,606.23 L44.04,607.33 L44.65,608.59 L45.26,609.89 L45.86,611.14 L46.47,612.27 L47.08,613.22 L47.69,613.99 L48.29,614.57 L48.90,615.00 L49.51,615.30 L50.11,615.50 L50.72,615.62 L51.33,615.70 L51.94,615.74 L52.54,615.77 L53.15,615.78 L53.76,615.78 L54.36,615.78 L54.97,615.78 L55.58,615.78 L56.19,615.77 L56.79,615.77 L57.40,615.76 L58.01,615.75 L58.61,615.74 L59.22,615.73 L59.83,615.71 L60.44,615.69 L61.04,615.67 L61.65,615.65 L62.26,615.62 L62.86,615.58 L63.47,615.54 L64.08,615.50 L64.69,615.44 L65.29,615.38 L65.90,615.32 L66.51,615.24 L67.11,615.16 L67.72,615.06 L68.33,614.96 L68.94,614.85 L69.54,614.72 L70.15,614.58 L70.76,614.44 L71.36,614.28 L71.97,614.11 L72.58,613.93 L73.19,613.74 L73.79,613.54 L74.40,613.33 L75.01,613.11 L75.61,612.89 L76.22,612.66 L76.83,612.43 L77.44,612.19 L78.04,611.96 L78.65,611.73 L79.26,611.51 L79.86,611.30 L80.47,611.09 L81.08,610.89 L81.69,610.71 L82.29,610.55 L82.90,610.41 L83.51,610.28 L84.11,610.18 L84.72,610.10 L85.33,610.04 L85.94,610.01 L86.54,610.00 L87.15,610.02 L87.76,610.06 L88.36,610.13 L88.97,610.22 L89.58,610.34 L90.19,610.47 L90.79,610.63 L91.40,610.80 L92.01,610.98 L92.61,611.18 L93.22,611.40 L93.83,611.62 L94.44,611.84 L95.04,612.07 L95.65,612.30 L96.26,612.54 L96.86,612.77 L97.47,612.99 L98.08,613.21 L98.69,613.43 L99.29,613.63 L99.90,613.83 L100.51,614.01 L101.11,614.19 L101.72,614.35 L102.33,614.51 L102.94,614.65 L103.54,614.78 L104.15,614.90 L104.76,615.01 L105.36,615.11 L105.97,615.20 L106.58,615.28 L107.19,615.35 L107.79,615.41 L108.40,615.47 L109.01,615.52 L109.61,615.56 L110.22,615.60 L110.83,615.63 L111.44,615.67 L112.04,615.73 L112.65,615.78 L113.26,615.83 L113.86,615.88 L114.47,615.93 L115.08,615.97 L115.69,616.02 L116.29,616.06 L116.90,616.10 L117.51,616.14 L118.11,616.17 L118.72,616.21 L119.33,616.25 L119.94,616.28 L120.54,616.32 L121.15,616.36 L121.76,616.39 L122.36,616.43 L122.97,616.48 L123.58,616.53 L124.19,616.56 L124.79,616.59 L125.40,616.60 L125.40,616.60 L124.79,616.61 L124.19,616.64 L123.58,616.67 L122.97,616.72 L122.36,616.77 L121.76,616.81 L121.15,616.84 L120.54,616.88 L119.94,616.92 L119.33,616.95 L118.72,616.99 L118.11,617.03 L117.51,617.06 L116.90,617.10 L116.29,617.14 L115.69,617.18 L115.08,617.23 L114.47,617.27 L113.86,617.32 L113.26,617.37 L112.65,617.42 L112.04,617.47 L111.44,617.53 L110.83,617.57 L110.22,617.60 L109.61,617.64 L109.01,617.68 L108.40,617.73 L107.79,617.79 L107.19,617.85 L106.58,617.92 L105.97,618.00 L105.36,618.09 L104.76,618.19 L104.15,618.30 L103.54,618.42 L102.94,618.55 L102.33,618.69 L101.72,618.85 L101.11,619.01 L100.51,619.19 L99.90,619.37 L99.29,619.57 L98.69,619.77 L98.08,619.99 L97.47,620.21 L96.86,620.43 L96.26,620.66 L95.65,620.90 L95.04,621.13 L94.44,621.36 L93.83,621.58 L93.22,621.80 L92.61,622.02 L92.01,622.22 L91.40,622.40 L90.79,622.57 L90.19,622.73 L89.58,622.86 L88.97,622.98 L88.36,623.07 L87.76,623.14 L87.15,623.18 L86.54,623.20 L85.94,623.19 L85.33,623.16 L84.72,623.10 L84.11,623.02 L83.51,622.92 L82.90,622.79 L82.29,622.65 L81.69,622.49 L81.08,622.31 L80.47,622.11 L79.86,621.90 L79.26,621.69 L78.65,621.47 L78.04,621.24 L77.44,621.01 L76.83,620.77 L76.22,620.54 L75.61,620.31 L75.01,620.09 L74.40,619.87 L73.79,619.66 L73.19,619.46 L72.58,619.27 L71.97,619.09 L71.36,618.92 L70.76,618.76 L70.15,618.62 L69.54,618.48 L68.94,618.35 L68.33,618.24 L67.72,618.14 L67.11,618.04 L66.51,617.96 L65.90,617.88 L65.29,617.82 L64.69,617.76 L64.08,617.70 L63.47,617.66 L62.86,617.62 L62.26,617.58 L61.65,617.55 L61.04,617.53 L60.44,617.51 L59.83,617.49 L59.22,617.47 L58.61,617.46 L58.01,617.45 L57.40,617.44 L56.79,617.43 L56.19,617.43 L55.58,617.42 L54.97,617.42 L54.36,617.42 L53.76,617.42 L53.15,617.42 L52.54,617.43 L51.94,617.46 L51.33,617.50 L50.72,617.58 L50.11,617.70 L49.51,617.90 L48.90,618.20 L48.29,618.63 L47.69,619.21 L47.08,619.98 L46.47,620.93 L45.86,622.06 L45.26,623.31 L44.65,624.61 L44.04,625.87 L43.44,626.97 L42.83,627.81 L42.22,628.30 L41.61,628.40 L41.01,626.43 L40.40,617.40Z" fill="#CD4A3B"/>
<path d="M40.40,636.25 L40.88,631.16 L41.35,629.92 L41.82,634.39 L42.30,638.55 L42.77,639.93 L43.25,640.14 L43.73,640.15 L44.20,640.15 L44.67,640.15 L45.15,640.15 L45.62,640.15 L46.10,640.15 L46.57,640.15 L47.05,640.15 L47.52,640.15 L48.00,640.15 L48.47,640.15 L48.95,640.15 L49.42,640.15 L49.90,640.15 L50.38,640.15 L50.85,640.15 L51.33,640.15 L51.80,640.15 L52.27,640.15 L52.75,640.15 L53.22,640.15 L53.70,640.15 L54.17,640.15 L54.65,640.15 L55.12,640.15 L55.60,640.15 L56.08,640.15 L56.55,640.15 L57.02,640.15 L57.50,640.15 L57.97,640.15 L58.45,640.15 L58.92,640.15 L59.40,640.15 L59.88,640.15 L60.35,640.15 L60.83,640.15 L61.30,640.15 L61.77,640.15 L62.25,640.15 L62.72,640.15 L63.20,640.15 L63.67,640.15 L64.15,640.15 L64.62,640.15 L65.10,640.15 L65.58,640.15 L66.05,640.15 L66.53,640.15 L67.00,640.15 L67.47,640.15 L67.95,640.15 L68.42,640.15 L68.90,640.15 L69.38,640.15 L69.85,640.15 L70.33,640.15 L70.80,640.15 L71.28,640.15 L71.75,640.15 L72.22,640.15 L72.70,640.15 L73.17,640.15 L73.65,640.15 L74.12,640.15 L74.60,640.15 L75.07,640.15 L75.55,640.15 L76.03,640.15 L76.50,640.15 L76.97,640.15 L77.45,640.15 L77.92,640.15 L78.40,640.15 L78.88,640.15 L79.35,640.15 L79.82,640.15 L80.30,640.15 L80.78,640.15 L81.25,640.15 L81.72,640.15 L82.20,640.15 L82.67,640.15 L83.15,640.15 L83.62,640.15 L84.10,640.15 L84.57,640.15 L85.05,640.15 L85.53,640.15 L86.00,640.15 L86.47,640.15 L86.95,640.15 L87.42,640.15 L87.90,640.15 L88.38,640.15 L88.85,640.15 L89.32,640.15 L89.80,640.15 L90.28,640.15 L90.75,640.15 L91.22,640.15 L91.70,640.15 L92.17,640.15 L92.65,640.15 L93.12,640.15 L93.60,640.15 L94.07,640.15 L94.55,640.15 L95.03,640.15 L95.50,640.15 L95.97,640.15 L96.45,640.16 L96.92,640.17 L97.40,640.19 L97.88,640.20 L98.35,640.21 L98.82,640.22 L99.30,640.23 L99.78,640.24 L100.25,640.25 L100.72,640.26 L101.20,640.27 L101.67,640.28 L102.15,640.29 L102.62,640.30 L103.10,640.31 L103.57,640.32 L104.05,640.34 L104.53,640.35 L105.00,640.37 L105.47,640.38 L105.95,640.39 L106.43,640.40 L106.90,640.40 L106.90,640.40 L106.43,640.40 L105.95,640.41 L105.47,640.42 L105.00,640.43 L104.53,640.45 L104.05,640.46 L103.57,640.48 L103.10,640.49 L102.62,640.50 L102.15,640.51 L101.67,640.52 L101.20,640.53 L100.72,640.54 L100.25,640.55 L99.78,640.56 L99.30,640.57 L98.82,640.58 L98.35,640.59 L97.88,640.60 L97.40,640.61 L96.92,640.62 L96.45,640.64 L95.97,640.65 L95.50,640.65 L95.03,640.65 L94.55,640.65 L94.07,640.65 L93.60,640.65 L93.12,640.65 L92.65,640.65 L92.17,640.65 L91.70,640.65 L91.22,640.65 L90.75,640.65 L90.28,640.65 L89.80,640.65 L89.32,640.65 L88.85,640.65 L88.38,640.65 L87.90,640.65 L87.42,640.65 L86.95,640.65 L86.47,640.65 L86.00,640.65 L85.53,640.65 L85.05,640.65 L84.57,640.65 L84.10,640.65 L83.62,640.65 L83.15,640.65 L82.67,640.65 L82.20,640.65 L81.72,640.65 L81.25,640.65 L80.78,640.65 L80.30,640.65 L79.82,640.65 L79.35,640.65 L78.88,640.65 L78.40,640.65 L77.92,640.65 L77.45,640.65 L76.97,640.65 L76.50,640.65 L76.03,640.65 L75.55,640.65 L75.07,640.65 L74.60,640.65 L74.12,640.65 L73.65,640.65 L73.17,640.65 L72.70,640.65 L72.22,640.65 L71.75,640.65 L71.28,640.65 L70.80,640.65 L70.33,640.65 L69.85,640.65 L69.38,640.65 L68.90,640.65 L68.42,640.65 L67.95,640.65 L67.47,640.65 L67.00,640.65 L66.53,640.65 L66.05,640.65 L65.58,640.65 L65.10,640.65 L64.62,640.65 L64.15,640.65 L63.67,640.65 L63.20,640.65 L62.72,640.65 L62.25,640.65 L61.77,640.65 L61.30,640.65 L60.83,640.65 L60.35,640.65 L59.88,640.65 L59.40,640.65 L58.92,640.65 L58.45,640.65 L57.97,640.65 L57.50,640.65 L57.02,640.65 L56.55,640.65 L56.08,640.65 L55.60,640.65 L55.12,640.65 L54.65,640.65 L54.17,640.65 L53.70,640.65 L53.22,640.65 L52.75,640.65 L52.27,640.65 L51.80,640.65 L51.33,640.65 L50.85,640.65 L50.38,640.65 L49.90,640.65 L49.42,640.65 L48.95,640.65 L48.47,640.65 L48.00,640.65 L47.52,640.65 L47.05,640.65 L46.57,640.65 L46.10,640.65 L45.62,640.65 L45.15,640.65 L44.67,640.65 L44.20,640.65 L43.73,640.65 L43.25,640.66 L42.77,640.87 L42.30,642.25 L41.82,646.41 L41.35,650.88 L40.88,649.64 L40.40,644.55Z" fill="#4A7D77"/>
<path d="M40.40,664.20 L40.96,655.61 L41.52,653.30 L42.08,653.34 L42.64,653.69 L43.20,654.35 L43.76,655.27 L44.31,656.36 L44.87,657.53 L45.43,658.72 L45.99,659.83 L46.55,660.83 L47.11,661.69 L47.67,662.39 L48.23,662.93 L48.79,663.34 L49.35,663.64 L49.91,663.84 L50.47,663.98 L51.03,664.07 L51.59,664.13 L52.14,664.16 L52.70,664.18 L53.26,664.19 L53.82,664.19 L54.38,664.20 L54.94,664.20 L55.50,664.20 L56.06,664.20 L56.62,664.20 L57.18,664.20 L57.74,664.20 L58.30,664.20 L58.86,664.20 L59.42,664.20 L59.98,664.19 L60.53,664.19 L61.09,664.19 L61.65,664.18 L62.21,664.18 L62.77,664.17 L63.33,664.16 L63.89,664.14 L64.45,664.13 L65.01,664.10 L65.57,664.08 L66.13,664.04 L66.69,664.00 L67.25,663.95 L67.81,663.89 L68.36,663.82 L68.92,663.74 L69.48,663.65 L70.04,663.55 L70.60,663.43 L71.16,663.30 L71.72,663.16 L72.28,663.02 L72.84,662.86 L73.40,662.69 L73.96,662.53 L74.52,662.36 L75.08,662.20 L75.64,662.04 L76.19,661.89 L76.75,661.76 L77.31,661.64 L77.87,661.54 L78.43,661.47 L78.99,661.42 L79.55,661.40 L80.11,661.41 L80.67,661.44 L81.23,661.50 L81.79,661.58 L82.35,661.69 L82.91,661.82 L83.47,661.96 L84.02,662.11 L84.58,662.27 L85.14,662.44 L85.70,662.61 L86.26,662.77 L86.82,662.93 L87.38,663.09 L87.94,663.23 L88.50,663.36 L89.06,663.49 L89.62,663.60 L90.18,663.70 L90.74,663.78 L91.30,663.86 L91.85,663.92 L92.41,663.98 L92.97,664.02 L93.53,664.06 L94.09,664.09 L94.65,664.11 L95.21,664.13 L95.77,664.15 L96.33,664.16 L96.89,664.17 L97.45,664.18 L98.01,664.19 L98.57,664.19 L99.13,664.19 L99.68,664.19 L100.24,664.20 L100.80,664.20 L101.36,664.20 L101.92,664.20 L102.48,664.20 L103.04,664.20 L103.60,664.20 L104.16,664.20 L104.72,664.20 L105.28,664.20 L105.84,664.21 L106.40,664.22 L106.96,664.24 L107.51,664.26 L108.07,664.27 L108.63,664.29 L109.19,664.31 L109.75,664.33 L110.31,664.34 L110.87,664.36 L111.43,664.38 L111.99,664.39 L112.55,664.41 L113.11,664.43 L113.67,664.45 L114.23,664.46 L114.78,664.48 L115.34,664.50 L115.90,664.52 L116.46,664.54 L117.02,664.57 L117.58,664.58 L118.14,664.59 L118.70,664.60 L118.70,664.60 L118.14,664.61 L117.58,664.62 L117.02,664.63 L116.46,664.66 L115.90,664.68 L115.34,664.70 L114.78,664.72 L114.23,664.74 L113.67,664.75 L113.11,664.77 L112.55,664.79 L111.99,664.81 L111.43,664.82 L110.87,664.84 L110.31,664.86 L109.75,664.87 L109.19,664.89 L108.63,664.91 L108.07,664.93 L107.51,664.94 L106.96,664.96 L106.40,664.98 L105.84,664.99 L105.28,665.00 L104.72,665.00 L104.16,665.00 L103.60,665.00 L103.04,665.00 L102.48,665.00 L101.92,665.00 L101.36,665.00 L100.80,665.00 L100.24,665.00 L99.68,665.01 L99.13,665.01 L98.57,665.01 L98.01,665.01 L97.45,665.02 L96.89,665.03 L96.33,665.04 L95.77,665.05 L95.21,665.07 L94.65,665.09 L94.09,665.11 L93.53,665.14 L92.97,665.18 L92.41,665.22 L91.85,665.28 L91.30,665.34 L90.74,665.42 L90.18,665.50 L89.62,665.60 L89.06,665.71 L88.50,665.84 L87.94,665.97 L87.38,666.11 L86.82,666.27 L86.26,666.43 L85.70,666.59 L85.14,666.76 L84.58,666.93 L84.02,667.09 L83.47,667.24 L82.91,667.38 L82.35,667.51 L81.79,667.62 L81.23,667.70 L80.67,667.76 L80.11,667.79 L79.55,667.80 L78.99,667.78 L78.43,667.73 L77.87,667.66 L77.31,667.56 L76.75,667.44 L76.19,667.31 L75.64,667.16 L75.08,667.00 L74.52,666.84 L73.96,666.67 L73.40,666.51 L72.84,666.34 L72.28,666.18 L71.72,666.04 L71.16,665.90 L70.60,665.77 L70.04,665.65 L69.48,665.55 L68.92,665.46 L68.36,665.38 L67.81,665.31 L67.25,665.25 L66.69,665.20 L66.13,665.16 L65.57,665.12 L65.01,665.10 L64.45,665.07 L63.89,665.06 L63.33,665.04 L62.77,665.03 L62.21,665.02 L61.65,665.02 L61.09,665.01 L60.53,665.01 L59.98,665.01 L59.42,665.00 L58.86,665.00 L58.30,665.00 L57.74,665.00 L57.18,665.00 L56.62,665.00 L56.06,665.00 L55.50,665.00 L54.94,665.00 L54.38,665.00 L53.82,665.01 L53.26,665.01 L52.70,665.02 L52.14,665.04 L51.59,665.07 L51.03,665.13 L50.47,665.22 L49.91,665.36 L49.35,665.56 L48.79,665.86 L48.23,666.27 L47.67,666.81 L47.11,667.51 L46.55,668.37 L45.99,669.37 L45.43,670.48 L44.87,671.67 L44.31,672.84 L43.76,673.93 L43.20,674.85 L42.64,675.51 L42.08,675.86 L41.52,675.90 L40.96,673.59 L40.40,665.00Z" fill="#CD4A3B"/>
<path d="M40.40,688.40 L40.98,683.59 L41.56,682.40 L42.14,682.44 L42.72,682.66 L43.30,683.06 L43.88,683.60 L44.45,684.24 L45.03,684.92 L45.61,685.58 L46.19,686.20 L46.77,686.74 L47.35,687.19 L47.93,687.55 L48.51,687.82 L49.09,688.02 L49.67,688.16 L50.25,688.25 L50.83,688.31 L51.41,688.35 L51.99,688.37 L52.56,688.39 L53.14,688.39 L53.72,688.40 L54.30,688.40 L54.88,688.40 L55.46,688.40 L56.04,688.40 L56.62,688.40 L57.20,688.40 L57.78,688.40 L58.36,688.40 L58.94,688.40 L59.52,688.40 L60.10,688.40 L60.67,688.40 L61.25,688.40 L61.83,688.40 L62.41,688.40 L62.99,688.40 L63.57,688.40 L64.15,688.40 L64.73,688.40 L65.31,688.40 L65.89,688.40 L66.47,688.40 L67.05,688.40 L67.63,688.40 L68.21,688.40 L68.78,688.40 L69.36,688.40 L69.94,688.40 L70.52,688.40 L71.10,688.40 L71.68,688.40 L72.26,688.39 L72.84,688.39 L73.42,688.39 L74.00,688.39 L74.58,688.38 L75.16,688.38 L75.74,688.37 L76.32,688.36 L76.89,688.35 L77.47,688.33 L78.05,688.31 L78.63,688.29 L79.21,688.26 L79.79,688.23 L80.37,688.18 L80.95,688.13 L81.53,688.07 L82.11,688.00 L82.69,687.91 L83.27,687.81 L83.85,687.69 L84.43,687.55 L85.00,687.39 L85.58,687.21 L86.16,687.00 L86.74,686.77 L87.32,686.51 L87.90,686.22 L88.48,685.90 L89.06,685.55 L89.64,685.18 L90.22,684.78 L90.80,684.35 L91.38,683.90 L91.96,683.43 L92.54,682.95 L93.11,682.46 L93.69,681.95 L94.27,681.45 L94.85,680.96 L95.43,680.48 L96.01,680.02 L96.59,679.59 L97.17,679.19 L97.75,678.83 L98.33,678.51 L98.91,678.25 L99.49,678.05 L100.07,677.90 L100.65,677.82 L101.22,677.80 L101.80,677.85 L102.38,677.96 L102.96,678.13 L103.54,678.36 L104.12,678.64 L104.70,678.98 L105.28,679.35 L105.86,679.77 L106.44,680.21 L107.02,680.68 L107.60,681.17 L108.18,681.68 L108.76,682.20 L109.34,682.72 L109.91,683.23 L110.49,683.73 L111.07,684.21 L111.65,684.67 L112.23,685.11 L112.81,685.52 L113.39,685.91 L113.97,686.26 L114.55,686.59 L115.13,686.89 L115.71,687.16 L116.29,687.40 L116.87,687.62 L117.44,687.81 L118.02,687.98 L118.60,688.15 L119.18,688.37 L119.76,688.55 L120.34,688.69 L120.92,688.80 L121.50,688.90 L121.50,688.90 L120.92,689.00 L120.34,689.11 L119.76,689.25 L119.18,689.43 L118.60,689.65 L118.02,689.82 L117.44,689.99 L116.87,690.18 L116.29,690.40 L115.71,690.64 L115.13,690.91 L114.55,691.21 L113.97,691.54 L113.39,691.89 L112.81,692.28 L112.23,692.69 L111.65,693.13 L111.07,693.59 L110.49,694.07 L109.91,694.57 L109.34,695.08 L108.76,695.60 L108.18,696.12 L107.60,696.63 L107.02,697.12 L106.44,697.59 L105.86,698.03 L105.28,698.45 L104.70,698.82 L104.12,699.16 L103.54,699.44 L102.96,699.67 L102.38,699.84 L101.80,699.95 L101.22,700.00 L100.65,699.98 L100.07,699.90 L99.49,699.75 L98.91,699.55 L98.33,699.29 L97.75,698.97 L97.17,698.61 L96.59,698.21 L96.01,697.78 L95.43,697.32 L94.85,696.84 L94.27,696.35 L93.69,695.85 L93.11,695.34 L92.54,694.85 L91.96,694.37 L91.38,693.90 L90.80,693.45 L90.22,693.02 L89.64,692.62 L89.06,692.25 L88.48,691.90 L87.90,691.58 L87.32,691.29 L86.74,691.03 L86.16,690.80 L85.58,690.59 L85.00,690.41 L84.43,690.25 L83.85,690.11 L83.27,689.99 L82.69,689.89 L82.11,689.80 L81.53,689.73 L80.95,689.67 L80.37,689.62 L79.79,689.57 L79.21,689.54 L78.63,689.51 L78.05,689.49 L77.47,689.47 L76.89,689.45 L76.32,689.44 L75.74,689.43 L75.16,689.42 L74.58,689.42 L74.00,689.41 L73.42,689.41 L72.84,689.41 L72.26,689.41 L71.68,689.40 L71.10,689.40 L70.52,689.40 L69.94,689.40 L69.36,689.40 L68.78,689.40 L68.21,689.40 L67.63,689.40 L67.05,689.40 L66.47,689.40 L65.89,689.40 L65.31,689.40 L64.73,689.40 L64.15,689.40 L63.57,689.40 L62.99,689.40 L62.41,689.40 L61.83,689.40 L61.25,689.40 L60.67,689.40 L60.10,689.40 L59.52,689.40 L58.94,689.40 L58.36,689.40 L57.78,689.40 L57.20,689.40 L56.62,689.40 L56.04,689.40 L55.46,689.40 L54.88,689.40 L54.30,689.40 L53.72,689.40 L53.14,689.41 L52.56,689.41 L51.99,689.43 L51.41,689.45 L50.83,689.49 L50.25,689.55 L49.67,689.64 L49.09,689.78 L48.51,689.98 L47.93,690.25 L47.35,690.61 L46.77,691.06 L46.19,691.60 L45.61,692.22 L45.03,692.88 L44.45,693.56 L43.88,694.20 L43.30,694.74 L42.72,695.14 L42.14,695.36 L41.56,695.40 L40.98,694.21 L40.40,689.40Z" fill="#4A7D77"/>
<path d="M40.40,712.20 L41.00,708.12 L41.60,707.20 L42.20,707.24 L42.80,707.45 L43.40,707.83 L44.00,708.32 L44.60,708.88 L45.21,709.47 L45.81,710.03 L46.41,710.54 L47.01,710.98 L47.61,711.34 L48.21,711.61 L48.81,711.81 L49.41,711.95 L50.01,712.05 L50.61,712.11 L51.21,712.15 L51.81,712.17 L52.41,712.19 L53.02,712.19 L53.62,712.20 L54.22,712.20 L54.82,712.20 L55.42,712.20 L56.02,712.20 L56.62,712.20 L57.22,712.20 L57.82,712.20 L58.42,712.20 L59.02,712.20 L59.62,712.20 L60.22,712.20 L60.82,712.20 L61.42,712.20 L62.03,712.20 L62.63,712.20 L63.23,712.20 L63.83,712.20 L64.43,712.20 L65.03,712.20 L65.63,712.20 L66.23,712.20 L66.83,712.20 L67.43,712.20 L68.03,712.20 L68.63,712.20 L69.23,712.20 L69.83,712.20 L70.44,712.20 L71.04,712.20 L71.64,712.20 L72.24,712.20 L72.84,712.20 L73.44,712.20 L74.04,712.19 L74.64,712.19 L75.24,712.19 L75.84,712.18 L76.44,712.18 L77.04,712.17 L77.64,712.16 L78.24,712.15 L78.85,712.13 L79.45,712.10 L80.05,712.07 L80.65,712.04 L81.25,711.99 L81.85,711.93 L82.45,711.85 L83.05,711.76 L83.65,711.66 L84.25,711.53 L84.85,711.37 L85.45,711.19 L86.05,710.98 L86.66,710.73 L87.26,710.45 L87.86,710.13 L88.46,709.77 L89.06,709.38 L89.66,708.94 L90.26,708.47 L90.86,707.97 L91.46,707.43 L92.06,706.87 L92.66,706.30 L93.26,705.71 L93.86,705.12 L94.46,704.53 L95.06,703.97 L95.67,703.43 L96.27,702.94 L96.87,702.49 L97.47,702.11 L98.07,701.79 L98.67,701.54 L99.27,701.38 L99.87,701.31 L100.47,701.32 L101.07,701.41 L101.67,701.59 L102.27,701.86 L102.87,702.19 L103.47,702.59 L104.08,703.05 L104.68,703.56 L105.28,704.10 L105.88,704.67 L106.48,705.26 L107.08,705.85 L107.68,706.43 L108.28,707.01 L108.88,707.56 L109.48,708.09 L110.08,708.59 L110.68,709.06 L111.28,709.50 L111.88,709.91 L112.49,710.28 L113.09,710.61 L113.69,710.90 L114.29,711.16 L114.89,711.39 L115.49,711.59 L116.09,711.76 L116.69,711.91 L117.29,712.03 L117.89,712.14 L118.49,712.23 L119.09,712.31 L119.69,712.37 L120.29,712.43 L120.90,712.48 L121.50,712.52 L122.10,712.58 L122.70,712.63 L123.30,712.66 L123.90,712.69 L124.50,712.70 L124.50,712.70 L123.90,712.71 L123.30,712.74 L122.70,712.77 L122.10,712.82 L121.50,712.88 L120.90,712.92 L120.29,712.97 L119.69,713.03 L119.09,713.09 L118.49,713.17 L117.89,713.26 L117.29,713.37 L116.69,713.49 L116.09,713.64 L115.49,713.81 L114.89,714.01 L114.29,714.24 L113.69,714.50 L113.09,714.79 L112.49,715.12 L111.88,715.49 L111.28,715.90 L110.68,716.34 L110.08,716.81 L109.48,717.31 L108.88,717.84 L108.28,718.39 L107.68,718.97 L107.08,719.55 L106.48,720.14 L105.88,720.73 L105.28,721.30 L104.68,721.84 L104.08,722.35 L103.47,722.81 L102.87,723.21 L102.27,723.54 L101.67,723.81 L101.07,723.99 L100.47,724.08 L99.87,724.09 L99.27,724.02 L98.67,723.86 L98.07,723.61 L97.47,723.29 L96.87,722.91 L96.27,722.46 L95.67,721.97 L95.06,721.43 L94.46,720.87 L93.86,720.28 L93.26,719.69 L92.66,719.10 L92.06,718.53 L91.46,717.97 L90.86,717.43 L90.26,716.93 L89.66,716.46 L89.06,716.02 L88.46,715.63 L87.86,715.27 L87.26,714.95 L86.66,714.67 L86.05,714.42 L85.45,714.21 L84.85,714.03 L84.25,713.87 L83.65,713.74 L83.05,713.64 L82.45,713.55 L81.85,713.47 L81.25,713.41 L80.65,713.36 L80.05,713.33 L79.45,713.30 L78.85,713.27 L78.24,713.25 L77.64,713.24 L77.04,713.23 L76.44,713.22 L75.84,713.22 L75.24,713.21 L74.64,713.21 L74.04,713.21 L73.44,713.20 L72.84,713.20 L72.24,713.20 L71.64,713.20 L71.04,713.20 L70.44,713.20 L69.83,713.20 L69.23,713.20 L68.63,713.20 L68.03,713.20 L67.43,713.20 L66.83,713.20 L66.23,713.20 L65.63,713.20 L65.03,713.20 L64.43,713.20 L63.83,713.20 L63.23,713.20 L62.63,713.20 L62.03,713.20 L61.42,713.20 L60.82,713.20 L60.22,713.20 L59.62,713.20 L59.02,713.20 L58.42,713.20 L57.82,713.20 L57.22,713.20 L56.62,713.20 L56.02,713.20 L55.42,713.20 L54.82,713.20 L54.22,713.20 L53.62,713.20 L53.02,713.21 L52.41,713.21 L51.81,713.23 L51.21,713.25 L50.61,713.29 L50.01,713.35 L49.41,713.45 L48.81,713.59 L48.21,713.79 L47.61,714.06 L47.01,714.42 L46.41,714.86 L45.81,715.37 L45.21,715.93 L44.60,716.52 L44.00,717.08 L43.40,717.57 L42.80,717.95 L42.20,718.16 L41.60,718.20 L41.00,717.28 L40.40,713.20Z" fill="#CD4A3B"/>
<path d="M40.40,732.40 L40.91,726.84 L41.41,726.20 L41.92,731.55 L42.43,735.40 L42.93,736.35 L43.44,736.45 L43.95,736.45 L44.45,736.45 L44.96,736.45 L45.46,736.45 L45.97,736.45 L46.48,736.45 L46.98,736.45 L47.49,736.45 L48.00,736.45 L48.50,736.45 L49.01,736.45 L49.52,736.45 L50.02,736.45 L50.53,736.45 L51.03,736.45 L51.54,736.45 L52.05,736.45 L52.55,736.45 L53.06,736.45 L53.57,736.45 L54.07,736.45 L54.58,736.45 L55.09,736.45 L55.59,736.45 L56.10,736.45 L56.61,736.45 L57.11,736.45 L57.62,736.45 L58.12,736.45 L58.63,736.45 L59.14,736.45 L59.64,736.45 L60.15,736.45 L60.66,736.45 L61.16,736.45 L61.67,736.45 L62.18,736.45 L62.68,736.45 L63.19,736.45 L63.70,736.45 L64.20,736.45 L64.71,736.45 L65.22,736.45 L65.72,736.45 L66.23,736.45 L66.73,736.45 L67.24,736.45 L67.75,736.45 L68.25,736.45 L68.76,736.45 L69.27,736.45 L69.77,736.45 L70.28,736.45 L70.79,736.45 L71.29,736.45 L71.80,736.45 L72.31,736.45 L72.81,736.45 L73.32,736.45 L73.82,736.45 L74.33,736.45 L74.84,736.45 L75.34,736.45 L75.85,736.45 L76.36,736.45 L76.86,736.45 L77.37,736.45 L77.88,736.45 L78.38,736.45 L78.89,736.45 L79.40,736.45 L79.90,736.45 L80.41,736.45 L80.91,736.45 L81.42,736.45 L81.93,736.45 L82.43,736.45 L82.94,736.45 L83.45,736.45 L83.95,736.45 L84.46,736.45 L84.97,736.45 L85.47,736.45 L85.98,736.45 L86.48,736.45 L86.99,736.45 L87.50,736.45 L88.00,736.45 L88.51,736.45 L89.02,736.45 L89.52,736.45 L90.03,736.45 L90.54,736.45 L91.04,736.45 L91.55,736.45 L92.06,736.45 L92.56,736.45 L93.07,736.45 L93.58,736.45 L94.08,736.45 L94.59,736.45 L95.09,736.45 L95.60,736.45 L96.11,736.45 L96.61,736.45 L97.12,736.45 L97.63,736.45 L98.13,736.45 L98.64,736.45 L99.15,736.45 L99.65,736.45 L100.16,736.46 L100.66,736.48 L101.17,736.49 L101.68,736.50 L102.18,736.51 L102.69,736.52 L103.20,736.53 L103.70,736.54 L104.21,736.55 L104.72,736.56 L105.22,736.57 L105.73,736.58 L106.24,736.59 L106.74,736.60 L107.25,736.61 L107.75,736.62 L108.26,736.64 L108.77,736.65 L109.27,736.67 L109.78,736.68 L110.29,736.69 L110.79,736.70 L111.30,736.70 L111.30,736.70 L110.79,736.70 L110.29,736.71 L109.78,736.72 L109.27,736.73 L108.77,736.75 L108.26,736.76 L107.75,736.78 L107.25,736.79 L106.74,736.80 L106.24,736.81 L105.73,736.82 L105.22,736.83 L104.72,736.84 L104.21,736.85 L103.70,736.86 L103.20,736.87 L102.69,736.88 L102.18,736.89 L101.68,736.90 L101.17,736.91 L100.66,736.93 L100.16,736.94 L99.65,736.95 L99.15,736.95 L98.64,736.95 L98.13,736.95 L97.63,736.95 L97.12,736.95 L96.61,736.95 L96.11,736.95 L95.60,736.95 L95.09,736.95 L94.59,736.95 L94.08,736.95 L93.58,736.95 L93.07,736.95 L92.56,736.95 L92.06,736.95 L91.55,736.95 L91.04,736.95 L90.54,736.95 L90.03,736.95 L89.52,736.95 L89.02,736.95 L88.51,736.95 L88.00,736.95 L87.50,736.95 L86.99,736.95 L86.48,736.95 L85.98,736.95 L85.47,736.95 L84.97,736.95 L84.46,736.95 L83.95,736.95 L83.45,736.95 L82.94,736.95 L82.43,736.95 L81.93,736.95 L81.42,736.95 L80.91,736.95 L80.41,736.95 L79.90,736.95 L79.40,736.95 L78.89,736.95 L78.38,736.95 L77.88,736.95 L77.37,736.95 L76.86,736.95 L76.36,736.95 L75.85,736.95 L75.34,736.95 L74.84,736.95 L74.33,736.95 L73.82,736.95 L73.32,736.95 L72.81,736.95 L72.31,736.95 L71.80,736.95 L71.29,736.95 L70.79,736.95 L70.28,736.95 L69.77,736.95 L69.27,736.95 L68.76,736.95 L68.25,736.95 L67.75,736.95 L67.24,736.95 L66.73,736.95 L66.23,736.95 L65.72,736.95 L65.22,736.95 L64.71,736.95 L64.20,736.95 L63.70,736.95 L63.19,736.95 L62.68,736.95 L62.18,736.95 L61.67,736.95 L61.16,736.95 L60.66,736.95 L60.15,736.95 L59.64,736.95 L59.14,736.95 L58.63,736.95 L58.12,736.95 L57.62,736.95 L57.11,736.95 L56.61,736.95 L56.10,736.95 L55.59,736.95 L55.09,736.95 L54.58,736.95 L54.07,736.95 L53.57,736.95 L53.06,736.95 L52.55,736.95 L52.05,736.95 L51.54,736.95 L51.03,736.95 L50.53,736.95 L50.02,736.95 L49.52,736.95 L49.01,736.95 L48.50,736.95 L48.00,736.95 L47.49,736.95 L46.98,736.95 L46.48,736.95 L45.97,736.95 L45.46,736.95 L44.96,736.95 L44.45,736.95 L43.95,736.95 L43.44,736.95 L42.93,737.05 L42.43,738.00 L41.92,741.85 L41.41,747.20 L40.91,746.56 L40.40,741.00Z" fill="#4A7D77"/>
<path d="M40.40,760.00 L40.88,752.06 L41.35,749.10 L41.83,749.10 L42.31,749.18 L42.79,749.40 L43.26,749.74 L43.74,750.20 L44.22,750.76 L44.69,751.40 L45.17,752.10 L45.65,752.84 L46.13,753.59 L46.60,754.33 L47.08,755.05 L47.56,755.74 L48.03,756.38 L48.51,756.96 L48.99,757.48 L49.47,757.94 L49.94,758.34 L50.42,758.67 L50.90,758.96 L51.37,759.19 L51.85,759.38 L52.33,759.53 L52.81,759.65 L53.28,759.74 L53.76,759.81 L54.24,759.86 L54.71,759.90 L55.19,759.93 L55.67,759.95 L56.15,759.96 L56.62,759.97 L57.10,759.98 L57.58,759.98 L58.05,759.98 L58.53,759.98 L59.01,759.98 L59.49,759.98 L59.96,759.97 L60.44,759.97 L60.92,759.96 L61.39,759.96 L61.87,759.95 L62.35,759.94 L62.83,759.93 L63.30,759.92 L63.78,759.91 L64.26,759.89 L64.73,759.87 L65.21,759.86 L65.69,759.83 L66.17,759.81 L66.64,759.78 L67.12,759.75 L67.60,759.71 L68.07,759.68 L68.55,759.63 L69.03,759.59 L69.51,759.54 L69.98,759.48 L70.46,759.42 L70.94,759.35 L71.41,759.28 L71.89,759.20 L72.37,759.12 L72.85,759.04 L73.32,758.94 L73.80,758.85 L74.28,758.74 L74.75,758.64 L75.23,758.52 L75.71,758.41 L76.19,758.29 L76.66,758.16 L77.14,758.04 L77.62,757.91 L78.09,757.78 L78.57,757.65 L79.05,757.52 L79.53,757.40 L80.00,757.27 L80.48,757.15 L80.96,757.03 L81.43,756.91 L81.91,756.80 L82.39,756.70 L82.87,756.61 L83.34,756.52 L83.82,756.44 L84.30,756.37 L84.77,756.32 L85.25,756.27 L85.73,756.24 L86.21,756.21 L86.68,756.20 L87.16,756.20 L87.64,756.21 L88.11,756.24 L88.59,756.27 L89.07,756.32 L89.55,756.38 L90.02,756.45 L90.50,756.53 L90.98,756.61 L91.45,756.71 L91.93,756.81 L92.41,756.92 L92.89,757.04 L93.36,757.16 L93.84,757.28 L94.32,757.41 L94.79,757.53 L95.27,757.66 L95.75,757.79 L96.23,757.93 L96.70,758.08 L97.18,758.24 L97.66,758.38 L98.13,758.53 L98.61,758.67 L99.09,758.81 L99.57,758.94 L100.04,759.07 L100.52,759.19 L101.00,759.31 L101.47,759.42 L101.95,759.53 L102.43,759.63 L102.91,759.73 L103.38,759.82 L103.86,759.90 L104.34,760.01 L104.81,760.14 L105.29,760.26 L105.77,760.36 L106.25,760.45 L106.72,760.52 L107.20,760.60 L107.20,760.60 L106.72,760.68 L106.25,760.75 L105.77,760.84 L105.29,760.94 L104.81,761.06 L104.34,761.19 L103.86,761.30 L103.38,761.38 L102.91,761.47 L102.43,761.57 L101.95,761.67 L101.47,761.78 L101.00,761.89 L100.52,762.01 L100.04,762.13 L99.57,762.26 L99.09,762.39 L98.61,762.53 L98.13,762.67 L97.66,762.82 L97.18,762.96 L96.70,763.12 L96.23,763.27 L95.75,763.41 L95.27,763.54 L94.79,763.67 L94.32,763.79 L93.84,763.92 L93.36,764.04 L92.89,764.16 L92.41,764.28 L91.93,764.39 L91.45,764.49 L90.98,764.59 L90.50,764.67 L90.02,764.75 L89.55,764.82 L89.07,764.88 L88.59,764.93 L88.11,764.96 L87.64,764.99 L87.16,765.00 L86.68,765.00 L86.21,764.99 L85.73,764.96 L85.25,764.93 L84.77,764.88 L84.30,764.83 L83.82,764.76 L83.34,764.68 L82.87,764.59 L82.39,764.50 L81.91,764.40 L81.43,764.29 L80.96,764.17 L80.48,764.05 L80.00,763.93 L79.53,763.80 L79.05,763.68 L78.57,763.55 L78.09,763.42 L77.62,763.29 L77.14,763.16 L76.66,763.04 L76.19,762.91 L75.71,762.79 L75.23,762.68 L74.75,762.56 L74.28,762.46 L73.80,762.35 L73.32,762.26 L72.85,762.16 L72.37,762.08 L71.89,762.00 L71.41,761.92 L70.94,761.85 L70.46,761.78 L69.98,761.72 L69.51,761.66 L69.03,761.61 L68.55,761.57 L68.07,761.52 L67.60,761.49 L67.12,761.45 L66.64,761.42 L66.17,761.39 L65.69,761.37 L65.21,761.34 L64.73,761.33 L64.26,761.31 L63.78,761.29 L63.30,761.28 L62.83,761.27 L62.35,761.26 L61.87,761.25 L61.39,761.24 L60.92,761.24 L60.44,761.23 L59.96,761.23 L59.49,761.22 L59.01,761.22 L58.53,761.22 L58.05,761.22 L57.58,761.22 L57.10,761.22 L56.62,761.23 L56.15,761.24 L55.67,761.25 L55.19,761.27 L54.71,761.30 L54.24,761.34 L53.76,761.39 L53.28,761.46 L52.81,761.55 L52.33,761.67 L51.85,761.82 L51.37,762.01 L50.90,762.24 L50.42,762.53 L49.94,762.86 L49.47,763.26 L48.99,763.72 L48.51,764.24 L48.03,764.82 L47.56,765.46 L47.08,766.15 L46.60,766.87 L46.13,767.61 L45.65,768.36 L45.17,769.10 L44.69,769.80 L44.22,770.44 L43.74,771.00 L43.26,771.46 L42.79,771.80 L42.31,772.02 L41.83,772.10 L41.35,772.10 L40.88,769.14 L40.40,761.20Z" fill="#CD4A3B"/>
<path d="M40.40,784.30 L40.94,776.84 L41.49,774.70 L42.03,774.71 L42.57,774.81 L43.11,775.03 L43.66,775.34 L44.20,775.74 L44.74,776.23 L45.29,776.77 L45.83,777.36 L46.37,777.98 L46.91,778.61 L47.46,779.24 L48.00,779.85 L48.54,780.43 L49.09,780.98 L49.63,781.48 L50.17,781.94 L50.71,782.34 L51.26,782.70 L51.80,783.00 L52.34,783.26 L52.89,783.48 L53.43,783.66 L53.97,783.80 L54.51,783.92 L55.06,784.01 L55.60,784.09 L56.14,784.14 L56.69,784.19 L57.23,784.22 L57.77,784.24 L58.31,784.26 L58.86,784.27 L59.40,784.28 L59.94,784.28 L60.49,784.29 L61.03,784.29 L61.57,784.29 L62.11,784.29 L62.66,784.29 L63.20,784.29 L63.74,784.29 L64.29,784.28 L64.83,784.28 L65.37,784.28 L65.91,784.27 L66.46,784.26 L67.00,784.26 L67.54,784.25 L68.09,784.23 L68.63,784.22 L69.17,784.20 L69.71,784.19 L70.26,784.16 L70.80,784.14 L71.34,784.11 L71.89,784.07 L72.43,784.03 L72.97,783.99 L73.51,783.93 L74.06,783.87 L74.60,783.81 L75.14,783.73 L75.69,783.64 L76.23,783.54 L76.77,783.43 L77.31,783.31 L77.86,783.18 L78.40,783.03 L78.94,782.87 L79.49,782.69 L80.03,782.49 L80.57,782.28 L81.11,782.05 L81.66,781.81 L82.20,781.55 L82.74,781.27 L83.29,780.97 L83.83,780.66 L84.37,780.33 L84.91,779.99 L85.46,779.64 L86.00,779.27 L86.54,778.89 L87.09,778.51 L87.63,778.12 L88.17,777.73 L88.71,777.33 L89.26,776.94 L89.80,776.55 L90.34,776.18 L90.89,775.81 L91.43,775.46 L91.97,775.12 L92.51,774.80 L93.06,774.51 L93.60,774.25 L94.14,774.01 L94.69,773.80 L95.23,773.63 L95.77,773.49 L96.31,773.39 L96.86,773.33 L97.40,773.30 L97.94,773.31 L98.49,773.36 L99.03,773.45 L99.57,773.58 L100.11,773.74 L100.66,773.93 L101.20,774.16 L101.74,774.41 L102.29,774.69 L102.83,775.00 L103.37,775.33 L103.91,775.69 L104.46,776.08 L105.00,776.48 L105.54,776.90 L106.09,777.32 L106.63,777.74 L107.17,778.17 L107.71,778.59 L108.26,779.00 L108.80,779.41 L109.34,779.81 L109.89,780.20 L110.43,780.58 L110.97,780.94 L111.51,781.29 L112.06,781.62 L112.60,781.94 L113.14,782.23 L113.69,782.52 L114.23,782.78 L114.77,783.03 L115.31,783.26 L115.86,783.74 L116.40,785.00 L116.40,785.00 L115.86,786.26 L115.31,786.74 L114.77,786.97 L114.23,787.22 L113.69,787.48 L113.14,787.77 L112.60,788.06 L112.06,788.38 L111.51,788.71 L110.97,789.06 L110.43,789.42 L109.89,789.80 L109.34,790.19 L108.80,790.59 L108.26,791.00 L107.71,791.41 L107.17,791.83 L106.63,792.26 L106.09,792.68 L105.54,793.10 L105.00,793.52 L104.46,793.92 L103.91,794.31 L103.37,794.67 L102.83,795.00 L102.29,795.31 L101.74,795.59 L101.20,795.84 L100.66,796.07 L100.11,796.26 L99.57,796.42 L99.03,796.55 L98.49,796.64 L97.94,796.69 L97.40,796.70 L96.86,796.67 L96.31,796.61 L95.77,796.51 L95.23,796.37 L94.69,796.20 L94.14,795.99 L93.60,795.75 L93.06,795.49 L92.51,795.20 L91.97,794.88 L91.43,794.54 L90.89,794.19 L90.34,793.82 L89.80,793.45 L89.26,793.06 L88.71,792.67 L88.17,792.27 L87.63,791.88 L87.09,791.49 L86.54,791.11 L86.00,790.73 L85.46,790.36 L84.91,790.01 L84.37,789.67 L83.83,789.34 L83.29,789.03 L82.74,788.73 L82.20,788.45 L81.66,788.19 L81.11,787.95 L80.57,787.72 L80.03,787.51 L79.49,787.31 L78.94,787.13 L78.40,786.97 L77.86,786.82 L77.31,786.69 L76.77,786.57 L76.23,786.46 L75.69,786.36 L75.14,786.27 L74.60,786.19 L74.06,786.13 L73.51,786.07 L72.97,786.01 L72.43,785.97 L71.89,785.93 L71.34,785.89 L70.80,785.86 L70.26,785.84 L69.71,785.81 L69.17,785.80 L68.63,785.78 L68.09,785.77 L67.54,785.75 L67.00,785.74 L66.46,785.74 L65.91,785.73 L65.37,785.72 L64.83,785.72 L64.29,785.72 L63.74,785.71 L63.20,785.71 L62.66,785.71 L62.11,785.71 L61.57,785.71 L61.03,785.71 L60.49,785.71 L59.94,785.72 L59.40,785.72 L58.86,785.73 L58.31,785.74 L57.77,785.76 L57.23,785.78 L56.69,785.81 L56.14,785.86 L55.60,785.91 L55.06,785.99 L54.51,786.08 L53.97,786.20 L53.43,786.34 L52.89,786.52 L52.34,786.74 L51.80,787.00 L51.26,787.30 L50.71,787.66 L50.17,788.06 L49.63,788.52 L49.09,789.02 L48.54,789.57 L48.00,790.15 L47.46,790.76 L46.91,791.39 L46.37,792.02 L45.83,792.64 L45.29,793.23 L44.74,793.77 L44.20,794.26 L43.66,794.66 L43.11,794.97 L42.57,795.19 L42.03,795.29 L41.49,795.30 L40.94,793.16 L40.40,785.70Z" fill="#4A7D77"/>
<path d="M40.40,808.70 L40.97,804.24 L41.54,803.10 L42.12,803.11 L42.69,803.21 L43.26,803.39 L43.83,803.64 L44.41,803.96 L44.98,804.34 L45.55,804.74 L46.12,805.17 L46.69,805.60 L47.27,806.02 L47.84,806.42 L48.41,806.80 L48.98,807.13 L49.55,807.43 L50.13,807.69 L50.70,807.91 L51.27,808.09 L51.84,808.24 L52.41,808.35 L52.99,808.45 L53.56,808.52 L54.13,808.57 L54.70,808.61 L55.28,808.64 L55.85,808.66 L56.42,808.67 L56.99,808.68 L57.56,808.69 L58.14,808.69 L58.71,808.70 L59.28,808.70 L59.85,808.70 L60.42,808.70 L61.00,808.70 L61.57,808.70 L62.14,808.70 L62.71,808.70 L63.29,808.70 L63.86,808.70 L64.43,808.70 L65.00,808.70 L65.57,808.70 L66.15,808.70 L66.72,808.70 L67.29,808.70 L67.86,808.70 L68.44,808.69 L69.01,808.69 L69.58,808.69 L70.15,808.69 L70.72,808.68 L71.30,808.68 L71.87,808.68 L72.44,808.67 L73.01,808.66 L73.58,808.65 L74.16,808.64 L74.73,808.62 L75.30,808.61 L75.87,808.59 L76.44,808.56 L77.02,808.53 L77.59,808.49 L78.16,808.45 L78.73,808.40 L79.31,808.34 L79.88,808.27 L80.45,808.19 L81.02,808.10 L81.59,808.00 L82.17,807.88 L82.74,807.75 L83.31,807.59 L83.88,807.43 L84.45,807.24 L85.03,807.03 L85.60,806.80 L86.17,806.55 L86.74,806.28 L87.32,805.98 L87.89,805.66 L88.46,805.32 L89.03,804.96 L89.60,804.58 L90.18,804.18 L90.75,803.77 L91.32,803.34 L91.89,802.91 L92.47,802.46 L93.04,802.01 L93.61,801.56 L94.18,801.12 L94.75,800.68 L95.33,800.26 L95.90,799.85 L96.47,799.47 L97.04,799.12 L97.61,798.79 L98.19,798.51 L98.76,798.26 L99.33,798.05 L99.90,797.89 L100.47,797.78 L101.05,797.72 L101.62,797.70 L102.19,797.74 L102.76,797.82 L103.34,797.95 L103.91,798.13 L104.48,798.36 L105.05,798.62 L105.62,798.93 L106.20,799.26 L106.77,799.63 L107.34,800.03 L107.91,800.47 L108.48,800.93 L109.06,801.40 L109.63,801.88 L110.20,802.36 L110.77,802.84 L111.35,803.31 L111.92,803.77 L112.49,804.23 L113.06,804.66 L113.63,805.08 L114.21,805.49 L114.78,805.87 L115.35,806.23 L115.92,806.57 L116.50,806.88 L117.07,807.18 L117.64,807.45 L118.21,807.70 L118.78,807.93 L119.36,808.14 L119.93,808.49 L120.50,809.40 L120.50,809.40 L119.93,810.31 L119.36,810.66 L118.78,810.87 L118.21,811.10 L117.64,811.35 L117.07,811.62 L116.50,811.92 L115.92,812.23 L115.35,812.57 L114.78,812.93 L114.21,813.31 L113.63,813.72 L113.06,814.14 L112.49,814.57 L111.92,815.03 L111.35,815.49 L110.77,815.96 L110.20,816.44 L109.63,816.92 L109.06,817.40 L108.48,817.87 L107.91,818.33 L107.34,818.77 L106.77,819.17 L106.20,819.54 L105.62,819.87 L105.05,820.18 L104.48,820.44 L103.91,820.67 L103.34,820.85 L102.76,820.98 L102.19,821.06 L101.62,821.10 L101.05,821.08 L100.47,821.02 L99.90,820.91 L99.33,820.75 L98.76,820.54 L98.19,820.29 L97.61,820.01 L97.04,819.68 L96.47,819.33 L95.90,818.95 L95.33,818.54 L94.75,818.12 L94.18,817.68 L93.61,817.24 L93.04,816.79 L92.47,816.34 L91.89,815.89 L91.32,815.46 L90.75,815.03 L90.18,814.62 L89.60,814.22 L89.03,813.84 L88.46,813.48 L87.89,813.14 L87.32,812.82 L86.74,812.52 L86.17,812.25 L85.60,812.00 L85.03,811.77 L84.45,811.56 L83.88,811.37 L83.31,811.21 L82.74,811.05 L82.17,810.92 L81.59,810.80 L81.02,810.70 L80.45,810.61 L79.88,810.53 L79.31,810.46 L78.73,810.40 L78.16,810.35 L77.59,810.31 L77.02,810.27 L76.44,810.24 L75.87,810.21 L75.30,810.19 L74.73,810.18 L74.16,810.16 L73.58,810.15 L73.01,810.14 L72.44,810.13 L71.87,810.12 L71.30,810.12 L70.72,810.12 L70.15,810.11 L69.58,810.11 L69.01,810.11 L68.44,810.11 L67.86,810.10 L67.29,810.10 L66.72,810.10 L66.15,810.10 L65.57,810.10 L65.00,810.10 L64.43,810.10 L63.86,810.10 L63.29,810.10 L62.71,810.10 L62.14,810.10 L61.57,810.10 L61.00,810.10 L60.42,810.10 L59.85,810.10 L59.28,810.10 L58.71,810.10 L58.14,810.11 L57.56,810.11 L56.99,810.12 L56.42,810.13 L55.85,810.14 L55.28,810.16 L54.70,810.19 L54.13,810.23 L53.56,810.28 L52.99,810.35 L52.41,810.45 L51.84,810.56 L51.27,810.71 L50.70,810.89 L50.13,811.11 L49.55,811.37 L48.98,811.67 L48.41,812.00 L47.84,812.38 L47.27,812.78 L46.69,813.20 L46.12,813.63 L45.55,814.06 L44.98,814.46 L44.41,814.84 L43.83,815.16 L43.26,815.41 L42.69,815.59 L42.12,815.69 L41.54,815.70 L40.97,814.56 L40.40,810.10Z" fill="#CD4A3B"/>
<line x1="123.40" y1="404.70" x2="123.40" y2="420.00" stroke="#D9574C" stroke-width="0.8"/>
<text x="123.30" y="412.35" font-size="7.6" text-anchor="middle" font-weight="bold" fill="#D9574C" transform="rotate(90 123.30 412.35)" letter-spacing="1.2">***</text>
<line x1="123.40" y1="453.20" x2="123.40" y2="466.50" stroke="#D9574C" stroke-width="0.8"/>
<text x="123.30" y="459.85" font-size="7.6" text-anchor="middle" font-weight="bold" fill="#D9574C" transform="rotate(90 123.30 459.85)" letter-spacing="1.2">***</text>
<line x1="123.40" y1="500.80" x2="123.40" y2="515.40" stroke="#D9574C" stroke-width="0.8"/>
<text x="123.30" y="508.10" font-size="7.6" text-anchor="middle" font-weight="bold" fill="#D9574C" transform="rotate(90 123.30 508.10)" letter-spacing="1.2">***</text>
<line x1="123.40" y1="597.00" x2="123.40" y2="611.90" stroke="#D9574C" stroke-width="0.8"/>
<text x="123.30" y="604.45" font-size="7.6" text-anchor="middle" font-weight="bold" fill="#D9574C" transform="rotate(90 123.30 604.45)" letter-spacing="1.2">***</text>
<line x1="123.40" y1="645.00" x2="123.40" y2="659.80" stroke="#D9574C" stroke-width="0.8"/>
<text x="123.30" y="652.40" font-size="7.6" text-anchor="middle" font-weight="bold" fill="#D9574C" transform="rotate(90 123.30 652.40)" letter-spacing="1.2">***</text>
<line x1="123.40" y1="694.00" x2="123.40" y2="708.30" stroke="#D9574C" stroke-width="0.8"/>
<text x="123.30" y="701.15" font-size="7.6" text-anchor="middle" font-weight="bold" fill="#D9574C" transform="rotate(90 123.30 701.15)" letter-spacing="1.2">***</text>
<line x1="123.40" y1="741.80" x2="123.40" y2="756.50" stroke="#D9574C" stroke-width="0.8"/>
<text x="123.30" y="749.15" font-size="7.6" text-anchor="middle" font-weight="bold" fill="#D9574C" transform="rotate(90 123.30 749.15)" letter-spacing="1.2">**</text>
<line x1="123.40" y1="790.50" x2="123.40" y2="804.70" stroke="#D9574C" stroke-width="0.8"/>
<text x="123.30" y="797.60" font-size="7.6" text-anchor="middle" font-weight="bold" fill="#D9574C" transform="rotate(90 123.30 797.60)" letter-spacing="1.2">***</text>
<path d="M36.4,386.2 H134.3 V823.5 H36.4" fill="none" stroke="#555" stroke-width="0.9"/>
<line x1="41.10" y1="823.50" x2="41.10" y2="827.00" stroke="#444" stroke-width="0.9"/>
<text x="41.10" y="834.20" font-size="7.0" text-anchor="middle" fill="#555" stroke="#555" stroke-width="0.196">1</text>
<line x1="91.60" y1="823.50" x2="91.60" y2="827.00" stroke="#444" stroke-width="0.9"/>
<text x="91.60" y="834.20" font-size="7.0" text-anchor="middle" fill="#555" stroke="#555" stroke-width="0.196">3</text>
<line x1="115.60" y1="823.50" x2="115.60" y2="827.00" stroke="#444" stroke-width="0.9"/>
<text x="115.60" y="834.20" font-size="7.0" text-anchor="middle" fill="#555" stroke="#555" stroke-width="0.196">5</text>
<text x="9.80" y="609.70" font-size="9.37" text-anchor="middle" fill="#111" stroke="#111" stroke-width="0.262" transform="rotate(-90 9.80 609.70)">Expression Level of HSPB1 in Normal/Tumor Tissue</text>
<text x="140.20" y="381.40" font-size="11" text-anchor="start" font-weight="bold" fill="#000">J</text>
<text x="152.50" y="381.20" font-size="9.4" text-anchor="start" fill="#111" stroke="#111" stroke-width="0.263">Strength of Predicted Interactions between Different Cell Types</text>
<g fill="none" stroke-linecap="round">
<path d="M209.4,568.5 Q219.8,494.4 252.7,429.6" stroke="#B3B9A2" stroke-width="0.57" stroke-opacity="0.55"/>
<path d="M307.2,603.2 Q256.4,595.0 212.8,571.3" stroke="#5FA486" stroke-width="0.57" stroke-opacity="0.55"/>
<path d="M308.6,601.9 Q267.3,519.4 254.9,429.6" stroke="#5FA486" stroke-width="0.57" stroke-opacity="0.55"/>
<path d="M253.4,427.3 Q242.9,501.6 210.2,566.0" stroke="#A3705A" stroke-width="0.76" stroke-opacity="0.57"/>
<path d="M192.3,516.7 Q204.8,541.1 207.7,566.0" stroke="#E2C57E" stroke-width="0.76" stroke-opacity="0.57"/>
<path d="M192.8,513.5 Q215.7,465.6 251.7,429.1" stroke="#E2C57E" stroke-width="0.76" stroke-opacity="0.57"/>
<path d="M352.6,461.1 Q290.3,526.6 212.2,567.5" stroke="#E6DDC4" stroke-width="0.76" stroke-opacity="0.57"/>
<path d="M210.4,570.5 Q261.8,578.9 304.4,602.3" stroke="#B3B9A2" stroke-width="0.76" stroke-opacity="0.57"/>
<path d="M208.5,568.5 Q196.0,543.8 193.1,519.3" stroke="#B3B9A2" stroke-width="0.76" stroke-opacity="0.57"/>
<path d="M369.2,515.7 Q294.5,555.5 212.8,568.6" stroke="#9CCAB0" stroke-width="0.76" stroke-opacity="0.57"/>
<path d="M369.5,513.7 Q305.4,479.9 256.7,428.3" stroke="#9CCAB0" stroke-width="0.76" stroke-opacity="0.57"/>
<path d="M350.9,565.4 Q292.4,506.0 255.9,429.1" stroke="#E8926D" stroke-width="0.76" stroke-opacity="0.57"/>
<path d="M348.5,570.0 Q281.5,581.6 213.0,570.0" stroke="#E8926D" stroke-width="0.76" stroke-opacity="0.57"/>
<path d="M307.5,602.6 Q243.4,568.9 195.4,517.7" stroke="#5FA486" stroke-width="0.76" stroke-opacity="0.57"/>
<path d="M348.8,568.2 Q268.5,555.5 196.1,516.4" stroke="#E8926D" stroke-width="0.85" stroke-opacity="0.58"/>
<path d="M307.2,428.9 Q270.6,506.0 211.3,566.6" stroke="#3F8282" stroke-width="0.95" stroke-opacity="0.59"/>
<path d="M253.0,427.2 Q229.9,475.5 194.4,511.3" stroke="#A3705A" stroke-width="0.95" stroke-opacity="0.59"/>
<path d="M193.2,516.1 Q257.6,550.1 305.2,600.8" stroke="#E2C57E" stroke-width="0.95" stroke-opacity="0.59"/>
<path d="M353.5,461.8 Q343.2,535.6 310.7,599.1" stroke="#E6DDC4" stroke-width="0.95" stroke-opacity="0.59"/>
<path d="M352.4,459.5 Q301.2,451.1 257.3,427.3" stroke="#E6DDC4" stroke-width="0.95" stroke-opacity="0.59"/>
<path d="M252.3,602.8 Q228.6,590.5 212.2,572.4" stroke="#858C73" stroke-width="0.95" stroke-opacity="0.59"/>
<path d="M208.9,568.4 Q200.1,515.0 208.9,464.5" stroke="#B3B9A2" stroke-width="0.95" stroke-opacity="0.59"/>
<path d="M210.2,570.9 Q234.1,583.4 250.2,601.2" stroke="#B3B9A2" stroke-width="0.95" stroke-opacity="0.59"/>
<path d="M369.0,515.0 Q281.5,529.4 196.3,515.0" stroke="#9CCAB0" stroke-width="0.95" stroke-opacity="0.59"/>
<path d="M369.2,514.3 Q285.7,500.5 213.2,461.5" stroke="#9CCAB0" stroke-width="0.95" stroke-opacity="0.59"/>
<path d="M352.4,564.7 Q320.1,501.6 311.4,433.0" stroke="#E8926D" stroke-width="0.95" stroke-opacity="0.59"/>
<path d="M309.2,601.8 Q295.0,515.0 309.2,433.4" stroke="#5FA486" stroke-width="0.95" stroke-opacity="0.59"/>
<path d="M308.0,602.2 Q247.6,540.0 211.5,463.7" stroke="#5FA486" stroke-width="0.95" stroke-opacity="0.59"/>
<path d="M309.9,601.9 Q320.1,528.4 352.7,464.3" stroke="#5FA486" stroke-width="0.95" stroke-opacity="0.59"/>
<path d="M305.7,426.1 Q281.5,430.5 257.5,426.1" stroke="#3F8282" stroke-width="1.14" stroke-opacity="0.60"/>
<path d="M252.7,426.9 Q234.1,446.6 212.5,457.3" stroke="#A3705A" stroke-width="1.14" stroke-opacity="0.60"/>
<path d="M192.8,516.5 Q229.9,554.5 251.2,600.2" stroke="#E2C57E" stroke-width="1.14" stroke-opacity="0.60"/>
<path d="M252.8,602.4 Q215.7,564.4 194.4,518.7" stroke="#858C73" stroke-width="1.14" stroke-opacity="0.60"/>
<path d="M253.8,602.1 Q239.6,515.0 253.8,429.8" stroke="#858C73" stroke-width="1.14" stroke-opacity="0.60"/>
<path d="M209.8,568.7 Q247.6,490.0 305.0,432.1" stroke="#B3B9A2" stroke-width="1.14" stroke-opacity="0.60"/>
<path d="M370.0,513.2 Q333.1,475.5 313.4,432.1" stroke="#9CCAB0" stroke-width="1.14" stroke-opacity="0.60"/>
<path d="M369.5,516.3 Q319.6,568.9 257.4,601.2" stroke="#9CCAB0" stroke-width="1.14" stroke-opacity="0.60"/>
<path d="M349.7,566.6 Q272.7,526.6 212.5,462.8" stroke="#E8926D" stroke-width="1.14" stroke-opacity="0.60"/>
<path d="M354.1,564.4 Q345.3,515.0 354.1,464.5" stroke="#E8926D" stroke-width="1.14" stroke-opacity="0.60"/>
<path d="M208.9,461.8 Q217.7,515.0 208.9,565.9" stroke="#3a3a3a" stroke-width="1.33" stroke-opacity="0.62"/>
<path d="M306.4,428.2 Q257.6,479.9 195.4,512.3" stroke="#3F8282" stroke-width="1.33" stroke-opacity="0.62"/>
<path d="M254.2,427.3 Q295.7,510.6 307.7,599.1" stroke="#A3705A" stroke-width="1.33" stroke-opacity="0.62"/>
<path d="M193.2,513.9 Q243.4,461.1 303.4,430.5" stroke="#E2C57E" stroke-width="1.33" stroke-opacity="0.62"/>
<path d="M192.3,513.3 Q196.0,486.2 207.6,464.3" stroke="#E2C57E" stroke-width="1.33" stroke-opacity="0.62"/>
<path d="M353.0,461.5 Q315.4,540.0 256.4,600.2" stroke="#E6DDC4" stroke-width="1.33" stroke-opacity="0.62"/>
<path d="M210.2,569.0 Q272.7,503.4 350.5,462.8" stroke="#B3B9A2" stroke-width="1.33" stroke-opacity="0.62"/>
<path d="M310.5,602.2 Q333.1,554.5 368.3,519.2" stroke="#5FA486" stroke-width="1.33" stroke-opacity="0.62"/>
<path d="M307.1,603.9 Q281.5,608.4 258.3,603.9" stroke="#5FA486" stroke-width="1.33" stroke-opacity="0.62"/>
<path d="M208.4,461.8 Q204.8,488.9 193.1,510.7" stroke="#3a3a3a" stroke-width="1.52" stroke-opacity="0.64"/>
<path d="M210.4,459.0 Q228.6,439.5 250.8,428.3" stroke="#3a3a3a" stroke-width="1.52" stroke-opacity="0.64"/>
<path d="M352.6,459.0 Q328.9,446.6 315.0,430.5" stroke="#E6DDC4" stroke-width="1.52" stroke-opacity="0.64"/>
<path d="M352.4,460.6 Q277.3,500.5 196.1,513.6" stroke="#E6DDC4" stroke-width="1.52" stroke-opacity="0.64"/>
<path d="M253.2,602.2 Q219.8,535.6 210.3,464.3" stroke="#858C73" stroke-width="1.52" stroke-opacity="0.64"/>
<path d="M255.6,603.9 Q281.5,599.5 304.1,603.9" stroke="#858C73" stroke-width="1.52" stroke-opacity="0.64"/>
<path d="M370.0,516.8 Q347.3,564.4 312.1,599.7" stroke="#9CCAB0" stroke-width="1.52" stroke-opacity="0.64"/>
<path d="M370.6,512.9 Q358.2,488.9 355.4,464.3" stroke="#9CCAB0" stroke-width="1.52" stroke-opacity="0.64"/>
<path d="M348.8,571.7 Q306.6,595.0 258.0,602.5" stroke="#E8926D" stroke-width="1.52" stroke-opacity="0.64"/>
<path d="M193.5,514.4 Q268.5,474.5 349.8,461.5" stroke="#E2C57E" stroke-width="1.71" stroke-opacity="0.65"/>
<path d="M352.3,460.0 Q281.5,471.7 213.4,460.0" stroke="#E6DDC4" stroke-width="1.71" stroke-opacity="0.65"/>
<path d="M254.3,602.2 Q267.3,510.6 307.0,433.0" stroke="#858C73" stroke-width="1.71" stroke-opacity="0.65"/>
<path d="M310.9,602.6 Q328.9,583.4 345.5,576.4" stroke="#5FA486" stroke-width="1.71" stroke-opacity="0.65"/>
<path d="M305.9,427.2 Q261.8,451.1 213.2,458.6" stroke="#3F8282" stroke-width="1.90" stroke-opacity="0.67"/>
<path d="M253.8,427.4 Q268.0,515.0 253.8,599.4" stroke="#A3705A" stroke-width="1.90" stroke-opacity="0.67"/>
<path d="M354.1,461.8 Q362.9,515.0 354.1,559.3" stroke="#E6DDC4" stroke-width="2.09" stroke-opacity="0.69"/>
<path d="M370.6,517.1 Q367.0,543.8 357.3,559.7" stroke="#9CCAB0" stroke-width="2.09" stroke-opacity="0.69"/>
<path d="M210.0,461.5 Q270.6,524.0 306.3,599.7" stroke="#3a3a3a" stroke-width="2.28" stroke-opacity="0.71"/>
<path d="M193.5,515.6 Q277.3,529.5 343.9,566.5" stroke="#E2C57E" stroke-width="2.28" stroke-opacity="0.71"/>
<path d="M349.7,573.3 Q334.4,590.5 313.3,600.8" stroke="#E8926D" stroke-width="2.28" stroke-opacity="0.71"/>
<path d="M312.0,428.2 Q334.4,439.5 350.5,457.3" stroke="#3F8282" stroke-width="2.47" stroke-opacity="0.72"/>
<path d="M255.1,426.1 Q281.5,421.6 301.9,426.1" stroke="#A3705A" stroke-width="2.47" stroke-opacity="0.72"/>
<path d="M255.0,426.5 Q306.6,435.0 349.8,458.6" stroke="#A3705A" stroke-width="2.47" stroke-opacity="0.72"/>
<path d="M210.5,570.0 Q281.5,558.3 343.4,570.0" stroke="#B3B9A2" stroke-width="2.47" stroke-opacity="0.72"/>
<path d="M355.7,564.7 Q358.2,541.1 369.7,519.9" stroke="#E8926D" stroke-width="2.47" stroke-opacity="0.72"/>
<path d="M210.4,569.5 Q285.7,529.5 366.4,516.6" stroke="#B3B9A2" stroke-width="2.66" stroke-opacity="0.74"/>
<path d="M210.7,460.0 Q281.5,448.4 349.6,460.0" stroke="#3a3a3a" stroke-width="2.85" stroke-opacity="0.76"/>
<path d="M309.2,429.6 Q323.4,515.0 309.2,598.8" stroke="#3F8282" stroke-width="2.85" stroke-opacity="0.76"/>
<path d="M308.2,429.4 Q295.7,519.4 255.1,599.6" stroke="#3F8282" stroke-width="2.85" stroke-opacity="0.76"/>
<path d="M254.8,426.9 Q319.6,461.1 367.1,511.9" stroke="#A3705A" stroke-width="2.85" stroke-opacity="0.76"/>
<path d="M254.8,602.4 Q292.4,524.0 351.5,463.7" stroke="#858C73" stroke-width="2.85" stroke-opacity="0.76"/>
<path d="M210.6,459.5 Q256.4,435.0 302.3,428.4" stroke="#3a3a3a" stroke-width="3.04" stroke-opacity="0.77"/>
<path d="M254.5,427.2 Q315.4,490.0 348.0,561.2" stroke="#A3705A" stroke-width="3.04" stroke-opacity="0.77"/>
<path d="M193.6,515.0 Q281.5,500.6 366.1,515.0" stroke="#E2C57E" stroke-width="3.04" stroke-opacity="0.77"/>
<path d="M209.5,461.8 Q242.9,528.4 252.4,599.6" stroke="#3a3a3a" stroke-width="3.23" stroke-opacity="0.79"/>
<path d="M311.2,428.9 Q347.3,465.6 368.3,510.8" stroke="#3F8282" stroke-width="3.23" stroke-opacity="0.79"/>
<path d="M354.6,461.8 Q367.0,486.2 369.7,510.1" stroke="#E6DDC4" stroke-width="3.23" stroke-opacity="0.79"/>
<path d="M255.2,602.8 Q305.4,550.1 367.1,518.1" stroke="#858C73" stroke-width="3.23" stroke-opacity="0.79"/>
<path d="M210.4,461.1 Q290.3,503.4 345.5,563.5" stroke="#3a3a3a" stroke-width="3.42" stroke-opacity="0.80"/>
<path d="M310.3,429.4 Q343.2,494.4 350.9,559.7" stroke="#3F8282" stroke-width="3.61" stroke-opacity="0.80"/>
<path d="M210.6,460.6 Q294.5,474.5 366.4,513.4" stroke="#3a3a3a" stroke-width="3.99" stroke-opacity="0.80"/>
<path d="M255.5,603.3 Q301.2,578.9 343.9,573.4" stroke="#858C73" stroke-width="4.18" stroke-opacity="0.80"/>
</g>
<path d="M253.8,426.1 C253.8,402.6 251.2,397.6 245.4,399.3 C239.7,401.1 240.4,406.8 253.8,426.1" fill="none" stroke="#A3705A" stroke-width="2.0" stroke-opacity="0.85"/>
<path d="M309.2,426.1 C317.5,402.5 316.8,396.4 310.8,396.1 C304.8,395.8 303.5,401.7 309.2,426.1" fill="none" stroke="#3F8282" stroke-width="0.8" stroke-opacity="0.85"/>
<path d="M354.1,460.0 C374.2,456.4 377.8,453.1 374.8,447.9 C371.8,442.8 367.1,444.3 354.1,460.0" fill="none" stroke="#E6DDC4" stroke-width="2.4" stroke-opacity="0.85"/>
<path d="M371.2,515.0 C392.0,522.0 397.2,521.0 397.2,515.0 C397.2,509.0 392.0,508.0 371.2,515.0" fill="none" stroke="#9CCAB0" stroke-width="2.6" stroke-opacity="0.85"/>
<path d="M354.1,570.0 C369.0,590.0 374.4,592.9 378.0,588.1 C381.6,583.3 377.4,578.9 354.1,570.0" fill="none" stroke="#E8926D" stroke-width="2.6" stroke-opacity="0.85"/>
<path d="M253.8,603.9 C242.1,626.0 241.9,632.1 247.8,633.3 C253.6,634.5 255.8,628.8 253.8,603.9" fill="none" stroke="#858C73" stroke-width="3.0" stroke-opacity="0.85"/>
<path d="M191.8,515.0 C171.0,508.0 165.8,509.0 165.8,515.0 C165.8,521.0 171.0,522.0 191.8,515.0" fill="none" stroke="#E2C57E" stroke-width="1.4" stroke-opacity="0.85"/>
<path d="M208.9,460.0 C192.6,445.1 186.8,447.0 185.0,452.7 C183.3,458.4 187.0,463.2 208.9,460.0" fill="none" stroke="#3a3a3a" stroke-width="3.2" stroke-opacity="0.85"/>
<circle cx="371.20" cy="515.00" r="3.6" fill="#9CCAB0"/>
<circle cx="354.07" cy="460.04" r="3.0" fill="#E3D9BE"/>
<circle cx="309.22" cy="426.08" r="5.8" fill="#2D6A6A"/>
<circle cx="253.78" cy="426.08" r="2.2" fill="#924C36"/>
<circle cx="208.93" cy="460.04" r="3.0" fill="#111111"/>
<circle cx="191.80" cy="515.00" r="3.0" fill="#DDB866"/>
<circle cx="208.93" cy="569.96" r="2.6" fill="#B3B8A0"/>
<circle cx="253.78" cy="603.92" r="3.0" fill="#6A7257"/>
<circle cx="309.22" cy="603.92" r="3.6" fill="#4A9675"/>
<circle cx="354.07" cy="569.96" r="9.2" fill="#E4825A"/>
<text x="224.80" y="420.50" font-size="7.0" text-anchor="middle" fill="#111" stroke="#111" stroke-width="0.196">Glial cells</text>
<text x="340.50" y="413.50" font-size="7.0" text-anchor="middle" fill="#111" stroke="#111" stroke-width="0.196">Epithelial</text>
<text x="340.50" y="421.50" font-size="7.0" text-anchor="middle" fill="#111" stroke="#111" stroke-width="0.196">cells</text>
<text x="390.40" y="464.50" font-size="7.0" text-anchor="middle" fill="#111" stroke="#111" stroke-width="0.196">Endothelial</text>
<text x="390.40" y="472.50" font-size="7.0" text-anchor="middle" fill="#111" stroke="#111" stroke-width="0.196">cells</text>
<text x="388.80" y="532.30" font-size="7.0" text-anchor="middle" fill="#111" stroke="#111" stroke-width="0.196">B cells</text>
<text x="380.20" y="569.50" font-size="7.0" text-anchor="middle" fill="#111" stroke="#111" stroke-width="0.196">T cells</text>
<text x="340.50" y="617.10" font-size="7.0" text-anchor="middle" fill="#111" stroke="#111" stroke-width="0.196">Plasma cells</text>
<text x="224.80" y="610.50" font-size="7.0" text-anchor="middle" fill="#111" stroke="#111" stroke-width="0.196">Monocytes</text>
<text x="182.30" y="576.00" font-size="7.0" text-anchor="middle" fill="#111" stroke="#111" stroke-width="0.196">Mast cells</text>
<text x="166.80" y="532.30" font-size="7.0" text-anchor="middle" fill="#111" stroke="#111" stroke-width="0.196">HSPB1 Low</text>
<text x="166.80" y="540.50" font-size="7.0" text-anchor="middle" fill="#111" stroke="#111" stroke-width="0.196">CAFs</text>
<text x="177.00" y="466.80" font-size="7.0" text-anchor="middle" fill="#111" stroke="#111" stroke-width="0.196">HSPB1 High</text>
<text x="177.00" y="476.50" font-size="7.0" text-anchor="middle" fill="#111" stroke="#111" stroke-width="0.196">CAFs</text>
<text x="419.50" y="381.40" font-size="11" text-anchor="start" font-weight="bold" fill="#000">K</text>
<text x="431.80" y="381.20" font-size="9.35" text-anchor="start" fill="#111" stroke="#111" stroke-width="0.262">Outgoing/Incoming Signaling Patterns of Different Cell Types</text>
<text x="490.90" y="391.60" font-size="6.9" text-anchor="middle" fill="#111" stroke="#111" stroke-width="0.193">Outgoing</text>
<rect x="450.90" y="412.50" width="8.75" height="4.30" fill="#66bd90"/>
<rect x="459.60" y="412.50" width="8.75" height="4.30" fill="#5bb383"/>
<rect x="468.30" y="412.50" width="8.75" height="4.30" fill="#1a4a28"/>
<rect x="477.00" y="412.50" width="8.75" height="4.30" fill="#9ed6bb"/>
<rect x="485.70" y="412.50" width="8.75" height="4.30" fill="#2f8c50"/>
<rect x="494.40" y="412.50" width="8.75" height="4.30" fill="#45a06a"/>
<rect x="503.10" y="412.50" width="8.75" height="4.30" fill="#9ed6bb"/>
<rect x="511.80" y="412.50" width="8.75" height="4.30" fill="#5bb383"/>
<rect x="520.50" y="412.50" width="8.75" height="4.30" fill="#82c9a6"/>
<rect x="529.20" y="412.50" width="8.75" height="4.30" fill="#66bd90"/>
<rect x="450.90" y="416.75" width="8.75" height="4.30" fill="#5bb383"/>
<rect x="459.60" y="416.75" width="8.75" height="4.30" fill="#246b3c"/>
<rect x="468.30" y="416.75" width="8.75" height="4.30" fill="#1a4a28"/>
<rect x="477.00" y="416.75" width="8.75" height="4.30" fill="#9ed6bb"/>
<rect x="485.70" y="416.75" width="8.75" height="4.30" fill="#297844"/>
<rect x="494.40" y="416.75" width="8.75" height="4.30" fill="#2f8c50"/>
<rect x="503.10" y="416.75" width="8.75" height="4.30" fill="#9ed6bb"/>
<rect x="511.80" y="416.75" width="8.75" height="4.30" fill="#277240"/>
<rect x="520.50" y="416.75" width="8.75" height="4.30" fill="#e2f2eb"/>
<rect x="529.20" y="416.75" width="8.75" height="4.30" fill="#5bb383"/>
<rect x="459.60" y="421.00" width="8.75" height="4.30" fill="#e2f2eb"/>
<rect x="468.30" y="421.00" width="8.75" height="4.30" fill="#e2f2eb"/>
<rect x="477.00" y="421.00" width="8.75" height="4.30" fill="#1a4a28"/>
<rect x="485.70" y="421.00" width="8.75" height="4.30" fill="#82c9a6"/>
<rect x="459.60" y="425.25" width="8.75" height="4.30" fill="#acdcc6"/>
<rect x="468.30" y="425.25" width="8.75" height="4.30" fill="#e2f2eb"/>
<rect x="485.70" y="425.25" width="8.75" height="4.30" fill="#e2f2eb"/>
<rect x="511.80" y="425.25" width="8.75" height="4.30" fill="#1a4a28"/>
<rect x="477.00" y="429.50" width="8.75" height="4.30" fill="#1a4a28"/>
<rect x="511.80" y="429.50" width="8.75" height="4.30" fill="#e2f2eb"/>
<rect x="459.60" y="433.75" width="8.75" height="4.30" fill="#1a4a28"/>
<rect x="485.70" y="433.75" width="8.75" height="4.30" fill="#4aa470"/>
<rect x="494.40" y="433.75" width="8.75" height="4.30" fill="#66bd90"/>
<rect x="459.60" y="438.00" width="8.75" height="4.30" fill="#f3f9f6"/>
<rect x="477.00" y="438.00" width="8.75" height="4.30" fill="#1a4a28"/>
<rect x="459.60" y="442.25" width="8.75" height="4.30" fill="#acdcc6"/>
<rect x="477.00" y="442.25" width="8.75" height="4.30" fill="#4aa470"/>
<rect x="485.70" y="442.25" width="8.75" height="4.30" fill="#acdcc6"/>
<rect x="494.40" y="442.25" width="8.75" height="4.30" fill="#e2f2eb"/>
<rect x="503.10" y="442.25" width="8.75" height="4.30" fill="#1a4a28"/>
<rect x="511.80" y="442.25" width="8.75" height="4.30" fill="#acdcc6"/>
<rect x="529.20" y="442.25" width="8.75" height="4.30" fill="#e2f2eb"/>
<rect x="459.60" y="446.50" width="8.75" height="4.30" fill="#acdcc6"/>
<rect x="468.30" y="446.50" width="8.75" height="4.30" fill="#e2f2eb"/>
<rect x="477.00" y="446.50" width="8.75" height="4.30" fill="#e2f2eb"/>
<rect x="485.70" y="446.50" width="8.75" height="4.30" fill="#e2f2eb"/>
<rect x="511.80" y="446.50" width="8.75" height="4.30" fill="#1a4a28"/>
<rect x="459.60" y="450.75" width="8.75" height="4.30" fill="#1a4a28"/>
<rect x="468.30" y="450.75" width="8.75" height="4.30" fill="#e2f2eb"/>
<rect x="485.70" y="450.75" width="8.75" height="4.30" fill="#2f8c50"/>
<rect x="511.80" y="450.75" width="8.75" height="4.30" fill="#4aa470"/>
<rect x="485.70" y="455.00" width="8.75" height="4.30" fill="#1a4a28"/>
<rect x="468.30" y="459.25" width="8.75" height="4.30" fill="#82c9a6"/>
<rect x="503.10" y="459.25" width="8.75" height="4.30" fill="#2f8c50"/>
<rect x="529.20" y="459.25" width="8.75" height="4.30" fill="#1a4a28"/>
<rect x="459.60" y="463.50" width="8.75" height="4.30" fill="#acdcc6"/>
<rect x="468.30" y="463.50" width="8.75" height="4.30" fill="#acdcc6"/>
<rect x="485.70" y="463.50" width="8.75" height="4.30" fill="#1a4a28"/>
<rect x="511.80" y="463.50" width="8.75" height="4.30" fill="#4aa470"/>
<rect x="459.60" y="467.75" width="8.75" height="4.30" fill="#e2f2eb"/>
<rect x="477.00" y="467.75" width="8.75" height="4.30" fill="#e2f2eb"/>
<rect x="485.70" y="467.75" width="8.75" height="4.30" fill="#acdcc6"/>
<rect x="529.20" y="467.75" width="8.75" height="4.30" fill="#1a4a28"/>
<rect x="468.30" y="472.00" width="8.75" height="4.30" fill="#1a4a28"/>
<rect x="450.90" y="476.25" width="8.75" height="4.30" fill="#acdcc6"/>
<rect x="459.60" y="476.25" width="8.75" height="4.30" fill="#2f8c50"/>
<rect x="477.00" y="476.25" width="8.75" height="4.30" fill="#e2f2eb"/>
<rect x="485.70" y="476.25" width="8.75" height="4.30" fill="#4aa470"/>
<rect x="494.40" y="476.25" width="8.75" height="4.30" fill="#e2f2eb"/>
<rect x="503.10" y="476.25" width="8.75" height="4.30" fill="#1a4a28"/>
<rect x="511.80" y="476.25" width="8.75" height="4.30" fill="#66bd90"/>
<rect x="520.50" y="476.25" width="8.75" height="4.30" fill="#e2f2eb"/>
<rect x="529.20" y="476.25" width="8.75" height="4.30" fill="#acdcc6"/>
<rect x="450.90" y="480.50" width="8.75" height="4.30" fill="#e2f2eb"/>
<rect x="468.30" y="480.50" width="8.75" height="4.30" fill="#e2f2eb"/>
<rect x="477.00" y="480.50" width="8.75" height="4.30" fill="#e2f2eb"/>
<rect x="503.10" y="480.50" width="8.75" height="4.30" fill="#1a4a28"/>
<rect x="511.80" y="480.50" width="8.75" height="4.30" fill="#e2f2eb"/>
<rect x="520.50" y="480.50" width="8.75" height="4.30" fill="#f3f9f6"/>
<rect x="529.20" y="480.50" width="8.75" height="4.30" fill="#f3f9f6"/>
<rect x="459.60" y="484.75" width="8.75" height="4.30" fill="#e2f2eb"/>
<rect x="485.70" y="484.75" width="8.75" height="4.30" fill="#1a4a28"/>
<rect x="511.80" y="484.75" width="8.75" height="4.30" fill="#e2f2eb"/>
<rect x="459.60" y="489.00" width="8.75" height="4.30" fill="#acdcc6"/>
<rect x="477.00" y="489.00" width="8.75" height="4.30" fill="#66bd90"/>
<rect x="485.70" y="489.00" width="8.75" height="4.30" fill="#1a4a28"/>
<rect x="511.80" y="489.00" width="8.75" height="4.30" fill="#acdcc6"/>
<rect x="450.90" y="493.25" width="8.75" height="4.30" fill="#e2f2eb"/>
<rect x="459.60" y="493.25" width="8.75" height="4.30" fill="#66bd90"/>
<rect x="468.30" y="493.25" width="8.75" height="4.30" fill="#e2f2eb"/>
<rect x="477.00" y="493.25" width="8.75" height="4.30" fill="#c7e7d8"/>
<rect x="485.70" y="493.25" width="8.75" height="4.30" fill="#66bd90"/>
<rect x="494.40" y="493.25" width="8.75" height="4.30" fill="#e2f2eb"/>
<rect x="503.10" y="493.25" width="8.75" height="4.30" fill="#e2f2eb"/>
<rect x="511.80" y="493.25" width="8.75" height="4.30" fill="#1a4a28"/>
<rect x="520.50" y="493.25" width="8.75" height="4.30" fill="#e2f2eb"/>
<rect x="477.00" y="497.50" width="8.75" height="4.30" fill="#c7e7d8"/>
<rect x="485.70" y="497.50" width="8.75" height="4.30" fill="#82c9a6"/>
<rect x="503.10" y="497.50" width="8.75" height="4.30" fill="#1a4a28"/>
<rect x="459.60" y="501.75" width="8.75" height="4.30" fill="#1a4a28"/>
<rect x="485.70" y="501.75" width="8.75" height="4.30" fill="#246b3c"/>
<rect x="459.60" y="506.00" width="8.75" height="4.30" fill="#acdcc6"/>
<rect x="485.70" y="506.00" width="8.75" height="4.30" fill="#1a4a28"/>
<rect x="511.80" y="510.25" width="8.75" height="4.30" fill="#1a4a28"/>
<rect x="450.90" y="514.50" width="8.75" height="4.30" fill="#1a4a28"/>
<rect x="520.50" y="514.50" width="8.75" height="4.30" fill="#e2f2eb"/>
<rect x="529.20" y="514.50" width="8.75" height="4.30" fill="#c7e7d8"/>
<rect x="459.60" y="518.75" width="8.75" height="4.30" fill="#c7e7d8"/>
<rect x="477.00" y="518.75" width="8.75" height="4.30" fill="#1a4a28"/>
<rect x="485.70" y="518.75" width="8.75" height="4.30" fill="#e2f2eb"/>
<rect x="485.70" y="523.00" width="8.75" height="4.30" fill="#1a4a28"/>
<rect x="485.70" y="527.25" width="8.75" height="4.30" fill="#1a4a28"/>
<rect x="485.70" y="531.50" width="8.75" height="4.30" fill="#1a4a28"/>
<rect x="485.70" y="535.75" width="8.75" height="4.30" fill="#1a4a28"/>
<rect x="459.60" y="540.00" width="8.75" height="4.30" fill="#1a4a28"/>
<rect x="485.70" y="540.00" width="8.75" height="4.30" fill="#acdcc6"/>
<rect x="520.50" y="540.00" width="8.75" height="4.30" fill="#e2f2eb"/>
<rect x="459.60" y="544.25" width="8.75" height="4.30" fill="#1a4a28"/>
<rect x="459.60" y="548.50" width="8.75" height="4.30" fill="#66bd90"/>
<rect x="477.00" y="548.50" width="8.75" height="4.30" fill="#1a4a28"/>
<rect x="485.70" y="548.50" width="8.75" height="4.30" fill="#74c39b"/>
<rect x="511.80" y="552.75" width="8.75" height="4.30" fill="#1a4a28"/>
<rect x="485.70" y="557.00" width="8.75" height="4.30" fill="#1a4a28"/>
<rect x="503.10" y="561.25" width="8.75" height="4.30" fill="#1a4a28"/>
<rect x="459.60" y="565.50" width="8.75" height="4.30" fill="#1a4a28"/>
<rect x="485.70" y="569.75" width="8.75" height="4.30" fill="#66bd90"/>
<rect x="520.50" y="569.75" width="8.75" height="4.30" fill="#1a4a28"/>
<rect x="485.70" y="574.00" width="8.75" height="4.30" fill="#1a4a28"/>
<rect x="485.70" y="578.25" width="8.75" height="4.30" fill="#1a4a28"/>
<rect x="485.70" y="582.50" width="8.75" height="4.30" fill="#1a4a28"/>
<rect x="452.25" y="405.30" width="5.50" height="5.70" fill="#9CCAB0"/>
<rect x="460.95" y="400.90" width="5.50" height="10.10" fill="#E6DCC2"/>
<rect x="469.65" y="398.70" width="5.50" height="12.30" fill="#2D6A6A"/>
<rect x="478.35" y="398.30" width="5.50" height="12.70" fill="#924C36"/>
<rect x="487.05" y="397.30" width="5.50" height="13.70" fill="#000000"/>
<rect x="495.75" y="403.00" width="5.50" height="8.00" fill="#DDB866"/>
<rect x="504.45" y="405.90" width="5.50" height="5.10" fill="#B3B8A0"/>
<rect x="513.15" y="400.20" width="5.50" height="10.80" fill="#6A7257"/>
<rect x="521.85" y="406.80" width="5.50" height="4.20" fill="#4A9675"/>
<rect x="530.55" y="404.00" width="5.50" height="7.00" fill="#E4825A"/>
<line x1="449.90" y1="397.00" x2="449.90" y2="411.00" stroke="#333" stroke-width="0.4"/>
<line x1="448.70" y1="411.00" x2="449.90" y2="411.00" stroke="#333" stroke-width="0.4"/>
<text x="448.10" y="412.50" font-size="4.6" text-anchor="end" fill="#333" stroke="#333" stroke-width="0.129">0</text>
<line x1="448.70" y1="405.10" x2="449.90" y2="405.10" stroke="#333" stroke-width="0.4"/>
<text x="448.10" y="406.60" font-size="4.6" text-anchor="end" fill="#333" stroke="#333" stroke-width="0.129">1</text>
<line x1="448.70" y1="399.20" x2="449.90" y2="399.20" stroke="#333" stroke-width="0.4"/>
<text x="448.10" y="400.70" font-size="4.6" text-anchor="end" fill="#333" stroke="#333" stroke-width="0.129">2</text>
<rect x="450.90" y="587.60" width="8.75" height="3.30" fill="#9CCAB0"/>
<text x="454.50" y="595.50" font-size="5.9" text-anchor="end" fill="#222" stroke="#222" stroke-width="0.165" transform="rotate(-55 454.50 595.50)">B cells</text>
<rect x="459.60" y="587.60" width="8.75" height="3.30" fill="#E6DCC2"/>
<text x="463.20" y="595.50" font-size="5.9" text-anchor="end" fill="#222" stroke="#222" stroke-width="0.165" transform="rotate(-55 463.20 595.50)">Endothelial cells</text>
<rect x="468.30" y="587.60" width="8.75" height="3.30" fill="#2D6A6A"/>
<text x="471.90" y="595.50" font-size="5.9" text-anchor="end" fill="#222" stroke="#222" stroke-width="0.165" transform="rotate(-55 471.90 595.50)">Epithelial cells</text>
<rect x="477.00" y="587.60" width="8.75" height="3.30" fill="#924C36"/>
<text x="480.60" y="595.50" font-size="5.9" text-anchor="end" fill="#222" stroke="#222" stroke-width="0.165" transform="rotate(-55 480.60 595.50)">Glial cells</text>
<rect x="485.70" y="587.60" width="8.75" height="3.30" fill="#000000"/>
<text x="489.30" y="595.50" font-size="5.9" text-anchor="end" fill="#222" stroke="#222" stroke-width="0.165" transform="rotate(-55 489.30 595.50)">HSPB1 High CAFs</text>
<rect x="494.40" y="587.60" width="8.75" height="3.30" fill="#DDB866"/>
<text x="498.00" y="595.50" font-size="5.9" text-anchor="end" fill="#222" stroke="#222" stroke-width="0.165" transform="rotate(-55 498.00 595.50)">HSPB1 Low CAFs</text>
<rect x="503.10" y="587.60" width="8.75" height="3.30" fill="#B3B8A0"/>
<text x="506.70" y="595.50" font-size="5.9" text-anchor="end" fill="#222" stroke="#222" stroke-width="0.165" transform="rotate(-55 506.70 595.50)">Mast cells</text>
<rect x="511.80" y="587.60" width="8.75" height="3.30" fill="#6A7257"/>
<text x="515.40" y="595.50" font-size="5.9" text-anchor="end" fill="#222" stroke="#222" stroke-width="0.165" transform="rotate(-55 515.40 595.50)">Monocytes</text>
<rect x="520.50" y="587.60" width="8.75" height="3.30" fill="#4A9675"/>
<text x="524.10" y="595.50" font-size="5.9" text-anchor="end" fill="#222" stroke="#222" stroke-width="0.165" transform="rotate(-55 524.10 595.50)">Plasma cells</text>
<rect x="529.20" y="587.60" width="8.75" height="3.30" fill="#E4825A"/>
<text x="532.80" y="595.50" font-size="5.9" text-anchor="end" fill="#222" stroke="#222" stroke-width="0.165" transform="rotate(-55 532.80 595.50)">T cells</text>
<line x1="539.50" y1="412.50" x2="539.50" y2="587.50" stroke="#333" stroke-width="0.5" stroke-dasharray="1.6,1.1"/>
<rect x="539.50" y="413.10" width="13.30" height="3.05" fill="#7a7a7a"/>
<rect x="539.50" y="417.35" width="12.00" height="3.05" fill="#7a7a7a"/>
<rect x="539.50" y="421.60" width="10.00" height="3.05" fill="#7a7a7a"/>
<rect x="539.50" y="425.85" width="9.00" height="3.05" fill="#7a7a7a"/>
<rect x="539.50" y="430.10" width="4.50" height="3.05" fill="#7a7a7a"/>
<rect x="539.50" y="434.35" width="1.50" height="3.05" fill="#444"/>
<rect x="539.50" y="438.60" width="1.50" height="3.05" fill="#444"/>
<rect x="539.50" y="442.85" width="1.50" height="3.05" fill="#444"/>
<rect x="539.50" y="447.10" width="1.50" height="3.05" fill="#444"/>
<rect x="539.50" y="451.35" width="1.50" height="3.05" fill="#444"/>
<rect x="539.50" y="455.60" width="1.50" height="3.05" fill="#444"/>
<rect x="539.50" y="459.85" width="1.50" height="3.05" fill="#444"/>
<rect x="539.50" y="464.10" width="1.50" height="3.05" fill="#444"/>
<rect x="539.50" y="468.35" width="1.50" height="3.05" fill="#444"/>
<rect x="539.50" y="472.60" width="1.50" height="3.05" fill="#444"/>
<rect x="539.50" y="476.85" width="1.50" height="3.05" fill="#444"/>
<rect x="539.50" y="481.10" width="1.50" height="3.05" fill="#444"/>
<rect x="539.50" y="485.35" width="1.50" height="3.05" fill="#444"/>
<rect x="539.50" y="489.60" width="1.50" height="3.05" fill="#444"/>
<rect x="539.50" y="493.85" width="1.50" height="3.05" fill="#444"/>
<rect x="539.50" y="498.10" width="1.50" height="3.05" fill="#444"/>
<rect x="539.50" y="502.35" width="1.50" height="3.05" fill="#444"/>
<rect x="539.50" y="506.60" width="1.50" height="3.05" fill="#444"/>
<rect x="539.50" y="510.85" width="1.50" height="3.05" fill="#444"/>
<rect x="539.50" y="515.10" width="1.50" height="3.05" fill="#444"/>
<rect x="539.50" y="519.35" width="1.50" height="3.05" fill="#444"/>
<rect x="539.50" y="523.60" width="1.50" height="3.05" fill="#444"/>
<rect x="539.50" y="527.85" width="1.50" height="3.05" fill="#444"/>
<rect x="539.50" y="532.10" width="1.50" height="3.05" fill="#444"/>
<rect x="539.50" y="536.35" width="1.50" height="3.05" fill="#444"/>
<rect x="539.50" y="540.60" width="1.50" height="3.05" fill="#444"/>
<rect x="539.50" y="544.85" width="1.50" height="3.05" fill="#444"/>
<rect x="539.50" y="549.10" width="1.50" height="3.05" fill="#444"/>
<rect x="539.50" y="553.35" width="1.50" height="3.05" fill="#444"/>
<rect x="539.50" y="557.60" width="1.50" height="3.05" fill="#444"/>
<rect x="539.50" y="561.85" width="1.50" height="3.05" fill="#444"/>
<rect x="539.50" y="566.10" width="1.50" height="3.05" fill="#444"/>
<rect x="539.50" y="570.35" width="1.50" height="3.05" fill="#444"/>
<rect x="539.50" y="574.60" width="1.50" height="3.05" fill="#444"/>
<rect x="539.50" y="578.85" width="1.50" height="3.05" fill="#444"/>
<rect x="539.50" y="583.10" width="1.50" height="3.05" fill="#444"/>
<line x1="539.50" y1="588.50" x2="553.50" y2="588.50" stroke="#555" stroke-width="0.4"/>
<line x1="539.50" y1="588.50" x2="539.50" y2="589.60" stroke="#555" stroke-width="0.3"/>
<line x1="544.00" y1="588.50" x2="544.00" y2="589.60" stroke="#555" stroke-width="0.3"/>
<line x1="548.50" y1="588.50" x2="548.50" y2="589.60" stroke="#555" stroke-width="0.3"/>
<line x1="553.00" y1="588.50" x2="553.00" y2="589.60" stroke="#555" stroke-width="0.3"/>
<text x="596.70" y="391.60" font-size="6.9" text-anchor="middle" fill="#111" stroke="#111" stroke-width="0.193">Incoming</text>
<rect x="556.70" y="412.50" width="8.75" height="4.30" fill="#1a4a28"/>
<rect x="582.80" y="412.50" width="8.75" height="4.30" fill="#e2f2eb"/>
<rect x="591.50" y="412.50" width="8.75" height="4.30" fill="#e2f2eb"/>
<rect x="608.90" y="412.50" width="8.75" height="4.30" fill="#f3f9f6"/>
<rect x="617.60" y="412.50" width="8.75" height="4.30" fill="#66bd90"/>
<rect x="626.30" y="412.50" width="8.75" height="4.30" fill="#e2f2eb"/>
<rect x="635.00" y="412.50" width="8.75" height="4.30" fill="#4aa470"/>
<rect x="565.40" y="416.75" width="8.75" height="4.30" fill="#66bd90"/>
<rect x="574.10" y="416.75" width="8.75" height="4.30" fill="#e2f2eb"/>
<rect x="582.80" y="416.75" width="8.75" height="4.30" fill="#82c9a6"/>
<rect x="591.50" y="416.75" width="8.75" height="4.30" fill="#1a4a28"/>
<rect x="600.20" y="416.75" width="8.75" height="4.30" fill="#66bd90"/>
<rect x="626.30" y="416.75" width="8.75" height="4.30" fill="#e2f2eb"/>
<rect x="635.00" y="416.75" width="8.75" height="4.30" fill="#e2f2eb"/>
<rect x="556.70" y="421.00" width="8.75" height="4.30" fill="#acdcc6"/>
<rect x="565.40" y="421.00" width="8.75" height="4.30" fill="#66bd90"/>
<rect x="574.10" y="421.00" width="8.75" height="4.30" fill="#acdcc6"/>
<rect x="582.80" y="421.00" width="8.75" height="4.30" fill="#66bd90"/>
<rect x="591.50" y="421.00" width="8.75" height="4.30" fill="#1a4a28"/>
<rect x="600.20" y="421.00" width="8.75" height="4.30" fill="#acdcc6"/>
<rect x="608.90" y="421.00" width="8.75" height="4.30" fill="#9ed6bb"/>
<rect x="617.60" y="421.00" width="8.75" height="4.30" fill="#9ed6bb"/>
<rect x="626.30" y="421.00" width="8.75" height="4.30" fill="#e2f2eb"/>
<rect x="635.00" y="421.00" width="8.75" height="4.30" fill="#c7e7d8"/>
<rect x="556.70" y="425.25" width="8.75" height="4.30" fill="#2f8c50"/>
<rect x="565.40" y="425.25" width="8.75" height="4.30" fill="#c7e7d8"/>
<rect x="574.10" y="425.25" width="8.75" height="4.30" fill="#e2f2eb"/>
<rect x="582.80" y="425.25" width="8.75" height="4.30" fill="#e2f2eb"/>
<rect x="591.50" y="425.25" width="8.75" height="4.30" fill="#66bd90"/>
<rect x="600.20" y="425.25" width="8.75" height="4.30" fill="#c7e7d8"/>
<rect x="608.90" y="425.25" width="8.75" height="4.30" fill="#45a06a"/>
<rect x="617.60" y="425.25" width="8.75" height="4.30" fill="#2f8c50"/>
<rect x="626.30" y="425.25" width="8.75" height="4.30" fill="#acdcc6"/>
<rect x="635.00" y="425.25" width="8.75" height="4.30" fill="#1a4a28"/>
<rect x="556.70" y="429.50" width="8.75" height="4.30" fill="#c7e7d8"/>
<rect x="565.40" y="429.50" width="8.75" height="4.30" fill="#82c9a6"/>
<rect x="574.10" y="429.50" width="8.75" height="4.30" fill="#f3f9f6"/>
<rect x="582.80" y="429.50" width="8.75" height="4.30" fill="#acdcc6"/>
<rect x="591.50" y="429.50" width="8.75" height="4.30" fill="#1a4a28"/>
<rect x="600.20" y="429.50" width="8.75" height="4.30" fill="#f3f9f6"/>
<rect x="608.90" y="429.50" width="8.75" height="4.30" fill="#82c9a6"/>
<rect x="617.60" y="429.50" width="8.75" height="4.30" fill="#acdcc6"/>
<rect x="626.30" y="429.50" width="8.75" height="4.30" fill="#e2f2eb"/>
<rect x="635.00" y="429.50" width="8.75" height="4.30" fill="#acdcc6"/>
<rect x="556.70" y="433.75" width="8.75" height="4.30" fill="#c7e7d8"/>
<rect x="565.40" y="433.75" width="8.75" height="4.30" fill="#246b3c"/>
<rect x="574.10" y="433.75" width="8.75" height="4.30" fill="#c7e7d8"/>
<rect x="582.80" y="433.75" width="8.75" height="4.30" fill="#c7e7d8"/>
<rect x="591.50" y="433.75" width="8.75" height="4.30" fill="#1a4a28"/>
<rect x="600.20" y="433.75" width="8.75" height="4.30" fill="#c7e7d8"/>
<rect x="608.90" y="433.75" width="8.75" height="4.30" fill="#acdcc6"/>
<rect x="617.60" y="433.75" width="8.75" height="4.30" fill="#45a06a"/>
<rect x="626.30" y="433.75" width="8.75" height="4.30" fill="#c7e7d8"/>
<rect x="635.00" y="433.75" width="8.75" height="4.30" fill="#c7e7d8"/>
<rect x="565.40" y="438.00" width="8.75" height="4.30" fill="#1a4a28"/>
<rect x="591.50" y="438.00" width="8.75" height="4.30" fill="#f3f9f6"/>
<rect x="617.60" y="442.25" width="8.75" height="4.30" fill="#1a4a28"/>
<rect x="565.40" y="446.50" width="8.75" height="4.30" fill="#1a4a28"/>
<rect x="591.50" y="446.50" width="8.75" height="4.30" fill="#82c9a6"/>
<rect x="556.70" y="450.75" width="8.75" height="4.30" fill="#82c9a6"/>
<rect x="565.40" y="450.75" width="8.75" height="4.30" fill="#1a4a28"/>
<rect x="582.80" y="450.75" width="8.75" height="4.30" fill="#f3f9f6"/>
<rect x="591.50" y="450.75" width="8.75" height="4.30" fill="#f3f9f6"/>
<rect x="600.20" y="450.75" width="8.75" height="4.30" fill="#f3f9f6"/>
<rect x="617.60" y="450.75" width="8.75" height="4.30" fill="#f3f9f6"/>
<rect x="626.30" y="450.75" width="8.75" height="4.30" fill="#f3f9f6"/>
<rect x="635.00" y="450.75" width="8.75" height="4.30" fill="#66bd90"/>
<rect x="556.70" y="455.00" width="8.75" height="4.30" fill="#66bd90"/>
<rect x="565.40" y="455.00" width="8.75" height="4.30" fill="#66bd90"/>
<rect x="574.10" y="455.00" width="8.75" height="4.30" fill="#5bb383"/>
<rect x="582.80" y="455.00" width="8.75" height="4.30" fill="#4aa470"/>
<rect x="591.50" y="455.00" width="8.75" height="4.30" fill="#1a4a28"/>
<rect x="600.20" y="455.00" width="8.75" height="4.30" fill="#66bd90"/>
<rect x="608.90" y="455.00" width="8.75" height="4.30" fill="#5bb383"/>
<rect x="617.60" y="455.00" width="8.75" height="4.30" fill="#82c9a6"/>
<rect x="626.30" y="455.00" width="8.75" height="4.30" fill="#acdcc6"/>
<rect x="635.00" y="455.00" width="8.75" height="4.30" fill="#66bd90"/>
<rect x="565.40" y="459.25" width="8.75" height="4.30" fill="#45a06a"/>
<rect x="582.80" y="459.25" width="8.75" height="4.30" fill="#c7e7d8"/>
<rect x="591.50" y="459.25" width="8.75" height="4.30" fill="#1a4a28"/>
<rect x="565.40" y="463.50" width="8.75" height="4.30" fill="#1a4a28"/>
<rect x="565.40" y="467.75" width="8.75" height="4.30" fill="#1a4a28"/>
<rect x="556.70" y="472.00" width="8.75" height="4.30" fill="#e2f2eb"/>
<rect x="565.40" y="472.00" width="8.75" height="4.30" fill="#1a4a28"/>
<rect x="574.10" y="472.00" width="8.75" height="4.30" fill="#f3f9f6"/>
<rect x="582.80" y="472.00" width="8.75" height="4.30" fill="#e2f2eb"/>
<rect x="591.50" y="472.00" width="8.75" height="4.30" fill="#c7e7d8"/>
<rect x="600.20" y="472.00" width="8.75" height="4.30" fill="#f3f9f6"/>
<rect x="608.90" y="472.00" width="8.75" height="4.30" fill="#f3f9f6"/>
<rect x="617.60" y="472.00" width="8.75" height="4.30" fill="#f3f9f6"/>
<rect x="635.00" y="472.00" width="8.75" height="4.30" fill="#e2f2eb"/>
<rect x="591.50" y="476.25" width="8.75" height="4.30" fill="#1a4a28"/>
<rect x="591.50" y="480.50" width="8.75" height="4.30" fill="#1a4a28"/>
<rect x="565.40" y="484.75" width="8.75" height="4.30" fill="#f3f9f6"/>
<rect x="574.10" y="484.75" width="8.75" height="4.30" fill="#f3f9f6"/>
<rect x="582.80" y="484.75" width="8.75" height="4.30" fill="#e2f2eb"/>
<rect x="591.50" y="484.75" width="8.75" height="4.30" fill="#e2f2eb"/>
<rect x="608.90" y="484.75" width="8.75" height="4.30" fill="#c7e7d8"/>
<rect x="617.60" y="484.75" width="8.75" height="4.30" fill="#1a4a28"/>
<rect x="574.10" y="489.00" width="8.75" height="4.30" fill="#c7e7d8"/>
<rect x="582.80" y="489.00" width="8.75" height="4.30" fill="#c7e7d8"/>
<rect x="591.50" y="489.00" width="8.75" height="4.30" fill="#1a4a28"/>
<rect x="582.80" y="493.25" width="8.75" height="4.30" fill="#1a4a28"/>
<rect x="617.60" y="497.50" width="8.75" height="4.30" fill="#1a4a28"/>
<rect x="608.90" y="501.75" width="8.75" height="4.30" fill="#1a4a28"/>
<rect x="565.40" y="506.00" width="8.75" height="4.30" fill="#1a4a28"/>
<rect x="591.50" y="506.00" width="8.75" height="4.30" fill="#66bd90"/>
<rect x="617.60" y="506.00" width="8.75" height="4.30" fill="#f3f9f6"/>
<rect x="556.70" y="510.25" width="8.75" height="4.30" fill="#1a4a28"/>
<rect x="626.30" y="510.25" width="8.75" height="4.30" fill="#4aa470"/>
<rect x="591.50" y="514.50" width="8.75" height="4.30" fill="#c7e7d8"/>
<rect x="617.60" y="514.50" width="8.75" height="4.30" fill="#1a4a28"/>
<rect x="591.50" y="518.75" width="8.75" height="4.30" fill="#1a4a28"/>
<rect x="600.20" y="518.75" width="8.75" height="4.30" fill="#e2f2eb"/>
<rect x="591.50" y="523.00" width="8.75" height="4.30" fill="#1a4a28"/>
<rect x="556.70" y="527.25" width="8.75" height="4.30" fill="#acdcc6"/>
<rect x="617.60" y="527.25" width="8.75" height="4.30" fill="#1a4a28"/>
<rect x="565.40" y="531.50" width="8.75" height="4.30" fill="#1a4a28"/>
<rect x="565.40" y="535.75" width="8.75" height="4.30" fill="#1a4a28"/>
<rect x="582.80" y="535.75" width="8.75" height="4.30" fill="#e2f2eb"/>
<rect x="591.50" y="535.75" width="8.75" height="4.30" fill="#e2f2eb"/>
<rect x="591.50" y="540.00" width="8.75" height="4.30" fill="#1a4a28"/>
<rect x="617.60" y="540.00" width="8.75" height="4.30" fill="#2f8c50"/>
<rect x="565.40" y="544.25" width="8.75" height="4.30" fill="#1a4a28"/>
<rect x="591.50" y="544.25" width="8.75" height="4.30" fill="#66bd90"/>
<rect x="591.50" y="548.50" width="8.75" height="4.30" fill="#1a4a28"/>
<rect x="617.60" y="548.50" width="8.75" height="4.30" fill="#45a06a"/>
<rect x="556.70" y="552.75" width="8.75" height="4.30" fill="#acdcc6"/>
<rect x="626.30" y="552.75" width="8.75" height="4.30" fill="#1a4a28"/>
<rect x="565.40" y="557.00" width="8.75" height="4.30" fill="#c7e7d8"/>
<rect x="591.50" y="557.00" width="8.75" height="4.30" fill="#1a4a28"/>
<rect x="617.60" y="561.25" width="8.75" height="4.30" fill="#1a4a28"/>
<rect x="591.50" y="565.50" width="8.75" height="4.30" fill="#1a4a28"/>
<rect x="565.40" y="569.75" width="8.75" height="4.30" fill="#1a4a28"/>
<rect x="574.10" y="569.75" width="8.75" height="4.30" fill="#66bd90"/>
<rect x="582.80" y="569.75" width="8.75" height="4.30" fill="#2f8c50"/>
<rect x="591.50" y="574.00" width="8.75" height="4.30" fill="#1a4a28"/>
<rect x="565.40" y="578.25" width="8.75" height="4.30" fill="#1a4a28"/>
<rect x="574.10" y="582.50" width="8.75" height="4.30" fill="#1a4a28"/>
<rect x="558.05" y="396.70" width="5.50" height="14.30" fill="#9CCAB0"/>
<rect x="566.75" y="404.70" width="5.50" height="6.30" fill="#E6DCC2"/>
<rect x="575.45" y="409.20" width="5.50" height="1.80" fill="#2D6A6A"/>
<rect x="584.15" y="406.20" width="5.50" height="4.80" fill="#924C36"/>
<rect x="592.85" y="402.40" width="5.50" height="8.60" fill="#000000"/>
<rect x="601.55" y="406.90" width="5.50" height="4.10" fill="#DDB866"/>
<rect x="610.25" y="408.50" width="5.50" height="2.50" fill="#B3B8A0"/>
<rect x="618.95" y="401.70" width="5.50" height="9.30" fill="#6A7257"/>
<rect x="627.65" y="408.10" width="5.50" height="2.90" fill="#4A9675"/>
<rect x="636.35" y="400.10" width="5.50" height="10.90" fill="#E4825A"/>
<line x1="555.70" y1="397.00" x2="555.70" y2="411.00" stroke="#333" stroke-width="0.4"/>
<line x1="554.50" y1="411.00" x2="555.70" y2="411.00" stroke="#333" stroke-width="0.4"/>
<text x="553.90" y="412.50" font-size="4.6" text-anchor="end" fill="#333" stroke="#333" stroke-width="0.129">0</text>
<line x1="554.50" y1="406.40" x2="555.70" y2="406.40" stroke="#333" stroke-width="0.4"/>
<text x="553.90" y="407.90" font-size="4.6" text-anchor="end" fill="#333" stroke="#333" stroke-width="0.129">1</text>
<line x1="554.50" y1="401.80" x2="555.70" y2="401.80" stroke="#333" stroke-width="0.4"/>
<text x="553.90" y="403.30" font-size="4.6" text-anchor="end" fill="#333" stroke="#333" stroke-width="0.129">2</text>
<line x1="554.50" y1="397.20" x2="555.70" y2="397.20" stroke="#333" stroke-width="0.4"/>
<text x="553.90" y="398.70" font-size="4.6" text-anchor="end" fill="#333" stroke="#333" stroke-width="0.129">3</text>
<rect x="556.70" y="587.60" width="8.75" height="3.30" fill="#9CCAB0"/>
<text x="560.30" y="595.50" font-size="5.9" text-anchor="end" fill="#222" stroke="#222" stroke-width="0.165" transform="rotate(-55 560.30 595.50)">B cells</text>
<rect x="565.40" y="587.60" width="8.75" height="3.30" fill="#E6DCC2"/>
<text x="569.00" y="595.50" font-size="5.9" text-anchor="end" fill="#222" stroke="#222" stroke-width="0.165" transform="rotate(-55 569.00 595.50)">Endothelial cells</text>
<rect x="574.10" y="587.60" width="8.75" height="3.30" fill="#2D6A6A"/>
<text x="577.70" y="595.50" font-size="5.9" text-anchor="end" fill="#222" stroke="#222" stroke-width="0.165" transform="rotate(-55 577.70 595.50)">Epithelial cells</text>
<rect x="582.80" y="587.60" width="8.75" height="3.30" fill="#924C36"/>
<text x="586.40" y="595.50" font-size="5.9" text-anchor="end" fill="#222" stroke="#222" stroke-width="0.165" transform="rotate(-55 586.40 595.50)">Glial cells</text>
<rect x="591.50" y="587.60" width="8.75" height="3.30" fill="#000000"/>
<text x="595.10" y="595.50" font-size="5.9" text-anchor="end" fill="#222" stroke="#222" stroke-width="0.165" transform="rotate(-55 595.10 595.50)">HSPB1 High CAFs</text>
<rect x="600.20" y="587.60" width="8.75" height="3.30" fill="#DDB866"/>
<text x="603.80" y="595.50" font-size="5.9" text-anchor="end" fill="#222" stroke="#222" stroke-width="0.165" transform="rotate(-55 603.80 595.50)">HSPB1 Low CAFs</text>
<rect x="608.90" y="587.60" width="8.75" height="3.30" fill="#B3B8A0"/>
<text x="612.50" y="595.50" font-size="5.9" text-anchor="end" fill="#222" stroke="#222" stroke-width="0.165" transform="rotate(-55 612.50 595.50)">Mast cells</text>
<rect x="617.60" y="587.60" width="8.75" height="3.30" fill="#6A7257"/>
<text x="621.20" y="595.50" font-size="5.9" text-anchor="end" fill="#222" stroke="#222" stroke-width="0.165" transform="rotate(-55 621.20 595.50)">Monocytes</text>
<rect x="626.30" y="587.60" width="8.75" height="3.30" fill="#4A9675"/>
<text x="629.90" y="595.50" font-size="5.9" text-anchor="end" fill="#222" stroke="#222" stroke-width="0.165" transform="rotate(-55 629.90 595.50)">Plasma cells</text>
<rect x="635.00" y="587.60" width="8.75" height="3.30" fill="#E4825A"/>
<text x="638.60" y="595.50" font-size="5.9" text-anchor="end" fill="#222" stroke="#222" stroke-width="0.165" transform="rotate(-55 638.60 595.50)">T cells</text>
<line x1="645.30" y1="412.50" x2="645.30" y2="587.50" stroke="#333" stroke-width="0.5" stroke-dasharray="1.6,1.1"/>
<rect x="645.30" y="413.10" width="14.30" height="3.05" fill="#7a7a7a"/>
<rect x="645.30" y="417.35" width="12.50" height="3.05" fill="#7a7a7a"/>
<rect x="645.30" y="421.60" width="11.00" height="3.05" fill="#7a7a7a"/>
<rect x="645.30" y="425.85" width="10.00" height="3.05" fill="#7a7a7a"/>
<rect x="645.30" y="430.10" width="4.80" height="3.05" fill="#7a7a7a"/>
<rect x="645.30" y="434.35" width="1.50" height="3.05" fill="#444"/>
<rect x="645.30" y="438.60" width="1.50" height="3.05" fill="#444"/>
<rect x="645.30" y="442.85" width="1.50" height="3.05" fill="#444"/>
<rect x="645.30" y="447.10" width="1.50" height="3.05" fill="#444"/>
<rect x="645.30" y="451.35" width="1.50" height="3.05" fill="#444"/>
<rect x="645.30" y="455.60" width="1.50" height="3.05" fill="#444"/>
<rect x="645.30" y="459.85" width="1.50" height="3.05" fill="#444"/>
<rect x="645.30" y="464.10" width="1.50" height="3.05" fill="#444"/>
<rect x="645.30" y="468.35" width="1.50" height="3.05" fill="#444"/>
<rect x="645.30" y="472.60" width="1.50" height="3.05" fill="#444"/>
<rect x="645.30" y="476.85" width="1.50" height="3.05" fill="#444"/>
<rect x="645.30" y="481.10" width="1.50" height="3.05" fill="#444"/>
<rect x="645.30" y="485.35" width="1.50" height="3.05" fill="#444"/>
<rect x="645.30" y="489.60" width="1.50" height="3.05" fill="#444"/>
<rect x="645.30" y="493.85" width="1.50" height="3.05" fill="#444"/>
<rect x="645.30" y="498.10" width="1.50" height="3.05" fill="#444"/>
<rect x="645.30" y="502.35" width="1.50" height="3.05" fill="#444"/>
<rect x="645.30" y="506.60" width="1.50" height="3.05" fill="#444"/>
<rect x="645.30" y="510.85" width="1.50" height="3.05" fill="#444"/>
<rect x="645.30" y="515.10" width="1.50" height="3.05" fill="#444"/>
<rect x="645.30" y="519.35" width="1.50" height="3.05" fill="#444"/>
<rect x="645.30" y="523.60" width="1.50" height="3.05" fill="#444"/>
<rect x="645.30" y="527.85" width="1.50" height="3.05" fill="#444"/>
<rect x="645.30" y="532.10" width="1.50" height="3.05" fill="#444"/>
<rect x="645.30" y="536.35" width="1.50" height="3.05" fill="#444"/>
<rect x="645.30" y="540.60" width="1.50" height="3.05" fill="#444"/>
<rect x="645.30" y="544.85" width="1.50" height="3.05" fill="#444"/>
<rect x="645.30" y="549.10" width="1.50" height="3.05" fill="#444"/>
<rect x="645.30" y="553.35" width="1.50" height="3.05" fill="#444"/>
<rect x="645.30" y="557.60" width="1.50" height="3.05" fill="#444"/>
<rect x="645.30" y="561.85" width="1.50" height="3.05" fill="#444"/>
<rect x="645.30" y="566.10" width="1.50" height="3.05" fill="#444"/>
<rect x="645.30" y="570.35" width="1.50" height="3.05" fill="#444"/>
<rect x="645.30" y="574.60" width="1.50" height="3.05" fill="#444"/>
<rect x="645.30" y="578.85" width="1.50" height="3.05" fill="#444"/>
<rect x="645.30" y="583.10" width="1.50" height="3.05" fill="#444"/>
<line x1="645.30" y1="588.50" x2="659.30" y2="588.50" stroke="#555" stroke-width="0.4"/>
<line x1="645.30" y1="588.50" x2="645.30" y2="589.60" stroke="#555" stroke-width="0.3"/>
<line x1="649.80" y1="588.50" x2="649.80" y2="589.60" stroke="#555" stroke-width="0.3"/>
<line x1="654.30" y1="588.50" x2="654.30" y2="589.60" stroke="#555" stroke-width="0.3"/>
<line x1="658.80" y1="588.50" x2="658.80" y2="589.60" stroke="#555" stroke-width="0.3"/>
<text x="448.20" y="416.20" font-size="4.5" text-anchor="end" fill="#000" stroke="#000" stroke-width="0.126">MIF</text>
<text x="448.20" y="420.45" font-size="4.5" text-anchor="end" fill="#000" stroke="#000" stroke-width="0.126">CypA</text>
<text x="448.20" y="424.70" font-size="4.5" text-anchor="end" fill="#000" stroke="#000" stroke-width="0.126">MK</text>
<text x="448.20" y="428.95" font-size="4.5" text-anchor="end" fill="#000" stroke="#000" stroke-width="0.126">GALECTIN</text>
<text x="448.20" y="433.20" font-size="4.5" text-anchor="end" fill="#000" stroke="#000" stroke-width="0.126">SPP1</text>
<text x="448.20" y="437.45" font-size="4.5" text-anchor="end" fill="#000" stroke="#000" stroke-width="0.126">IGFBP</text>
<text x="448.20" y="441.70" font-size="4.5" text-anchor="end" fill="#000" stroke="#000" stroke-width="0.126">SEMA3</text>
<text x="448.20" y="445.95" font-size="4.5" text-anchor="end" fill="#000" stroke="#000" stroke-width="0.126">ANNEXIN</text>
<text x="448.20" y="450.20" font-size="4.5" text-anchor="end" fill="#000" stroke="#000" stroke-width="0.126">VISFATIN</text>
<text x="448.20" y="454.45" font-size="4.5" text-anchor="end" fill="#000" stroke="#000" stroke-width="0.126">CXCL</text>
<text x="448.20" y="458.70" font-size="4.5" text-anchor="end" fill="#000" stroke="#000" stroke-width="0.126">PTN</text>
<text x="448.20" y="462.95" font-size="4.5" text-anchor="end" fill="#000" stroke="#000" stroke-width="0.126">PARs</text>
<text x="448.20" y="467.20" font-size="4.5" text-anchor="end" fill="#000" stroke="#000" stroke-width="0.126">VEGF</text>
<text x="448.20" y="471.45" font-size="4.5" text-anchor="end" fill="#000" stroke="#000" stroke-width="0.126">CCL</text>
<text x="448.20" y="475.70" font-size="4.5" text-anchor="end" fill="#000" stroke="#000" stroke-width="0.126">CDF</text>
<text x="448.20" y="479.95" font-size="4.5" text-anchor="end" fill="#000" stroke="#000" stroke-width="0.126">TGFb</text>
<text x="448.20" y="484.20" font-size="4.5" text-anchor="end" fill="#000" stroke="#000" stroke-width="0.126">EGF</text>
<text x="448.20" y="488.45" font-size="4.5" text-anchor="end" fill="#000" stroke="#000" stroke-width="0.126">PLAU</text>
<text x="448.20" y="492.70" font-size="4.5" text-anchor="end" fill="#000" stroke="#000" stroke-width="0.126">TWEAK</text>
<text x="448.20" y="496.95" font-size="4.5" text-anchor="end" fill="#000" stroke="#000" stroke-width="0.126">GRN</text>
<text x="448.20" y="501.20" font-size="4.5" text-anchor="end" fill="#000" stroke="#000" stroke-width="0.126">CSF</text>
<text x="448.20" y="505.45" font-size="4.5" text-anchor="end" fill="#000" stroke="#000" stroke-width="0.126">KIT</text>
<text x="448.20" y="509.70" font-size="4.5" text-anchor="end" fill="#000" stroke="#000" stroke-width="0.126">ANGPTL</text>
<text x="448.20" y="513.95" font-size="4.5" text-anchor="end" fill="#000" stroke="#000" stroke-width="0.126">BAFF</text>
<text x="448.20" y="518.20" font-size="4.5" text-anchor="end" fill="#000" stroke="#000" stroke-width="0.126">IL16</text>
<text x="448.20" y="522.45" font-size="4.5" text-anchor="end" fill="#000" stroke="#000" stroke-width="0.126">PDGF</text>
<text x="448.20" y="526.70" font-size="4.5" text-anchor="end" fill="#000" stroke="#000" stroke-width="0.126">PERIOSTIN</text>
<text x="448.20" y="530.95" font-size="4.5" text-anchor="end" fill="#000" stroke="#000" stroke-width="0.126">COMPLEMENT</text>
<text x="448.20" y="535.20" font-size="4.5" text-anchor="end" fill="#000" stroke="#000" stroke-width="0.126">CALCR</text>
<text x="448.20" y="539.45" font-size="4.5" text-anchor="end" fill="#000" stroke="#000" stroke-width="0.126">ncWNT</text>
<text x="448.20" y="543.70" font-size="4.5" text-anchor="end" fill="#000" stroke="#000" stroke-width="0.126">GAS</text>
<text x="448.20" y="547.95" font-size="4.5" text-anchor="end" fill="#000" stroke="#000" stroke-width="0.126">ANGPT</text>
<text x="448.20" y="552.20" font-size="4.5" text-anchor="end" fill="#000" stroke="#000" stroke-width="0.126">PROS</text>
<text x="448.20" y="556.45" font-size="4.5" text-anchor="end" fill="#000" stroke="#000" stroke-width="0.126">APRIL</text>
<text x="448.20" y="560.70" font-size="4.5" text-anchor="end" fill="#000" stroke="#000" stroke-width="0.126">FGF</text>
<text x="448.20" y="564.95" font-size="4.5" text-anchor="end" fill="#000" stroke="#000" stroke-width="0.126">CTSG</text>
<text x="448.20" y="569.20" font-size="4.5" text-anchor="end" fill="#000" stroke="#000" stroke-width="0.126">EDN</text>
<text x="448.20" y="573.45" font-size="4.5" text-anchor="end" fill="#000" stroke="#000" stroke-width="0.126">IGF</text>
<text x="448.20" y="577.70" font-size="4.5" text-anchor="end" fill="#000" stroke="#000" stroke-width="0.126">BMP</text>
<text x="448.20" y="581.95" font-size="4.5" text-anchor="end" fill="#000" stroke="#000" stroke-width="0.126">WNT</text>
<text x="448.20" y="586.20" font-size="4.5" text-anchor="end" fill="#000" stroke="#000" stroke-width="0.126">HGF</text>
<text x="665.50" y="497.50" font-size="7.0" text-anchor="middle" fill="#111" stroke="#111" stroke-width="0.196" transform="rotate(-90 665.50 497.50)">Relative strength</text>
<defs><linearGradient id="gK" x1="0" y1="1" x2="0" y2="0"><stop offset="0" stop-color="#ffffff"/><stop offset="0.5" stop-color="#66BD90"/><stop offset="1" stop-color="#1A4A28"/></linearGradient></defs>
<rect x="668.60" y="485.70" width="3.20" height="28.60" fill="url(#gK)"/>
<text x="673.50" y="488.00" font-size="4.6" text-anchor="start" fill="#333" stroke="#333" stroke-width="0.129">1</text>
<text x="673.50" y="515.50" font-size="4.6" text-anchor="start" fill="#333" stroke="#333" stroke-width="0.129">0</text>
<text x="141.20" y="649.40" font-size="11" text-anchor="start" font-weight="bold" fill="#000">H</text>
<text x="260.00" y="649.40" font-size="9.37" text-anchor="start" fill="#111" stroke="#111" stroke-width="0.262">Signaling Networks for Representative Pathways in Different Cell Types</text>
<defs><linearGradient id="gH" x1="0" y1="0" x2="1" y2="0"><stop offset="0" stop-color="#ffffff"/><stop offset="0.5" stop-color="#66BD90"/><stop offset="1" stop-color="#1A4A28"/></linearGradient></defs>
<rect x="197.90" y="685.40" width="3.80" height="13.73" fill="#9CCAB0"/>
<text x="195.60" y="694.24" font-size="6.5" text-anchor="end" fill="#222" stroke="#222" stroke-width="0.182" transform="rotate(46 195.60 694.24)">B cells</text>
<rect x="197.90" y="699.08" width="3.80" height="13.73" fill="#E6DCC2"/>
<text x="195.60" y="707.92" font-size="6.5" text-anchor="end" fill="#222" stroke="#222" stroke-width="0.182" transform="rotate(46 195.60 707.92)">Endothelial cells</text>
<rect x="197.90" y="712.76" width="3.80" height="13.73" fill="#2D6A6A"/>
<text x="195.60" y="721.60" font-size="6.5" text-anchor="end" fill="#222" stroke="#222" stroke-width="0.182" transform="rotate(46 195.60 721.60)">Epithelial cells</text>
<rect x="197.90" y="726.44" width="3.80" height="13.73" fill="#924C36"/>
<text x="195.60" y="735.28" font-size="6.5" text-anchor="end" fill="#222" stroke="#222" stroke-width="0.182" transform="rotate(46 195.60 735.28)">Glial cells</text>
<rect x="197.90" y="740.12" width="3.80" height="13.73" fill="#000000"/>
<text x="195.60" y="748.96" font-size="6.5" text-anchor="end" fill="#222" stroke="#222" stroke-width="0.182" transform="rotate(46 195.60 748.96)">HSPB1 High CAFs</text>
<rect x="197.90" y="753.80" width="3.80" height="13.73" fill="#DDB866"/>
<text x="195.60" y="762.64" font-size="6.5" text-anchor="end" fill="#222" stroke="#222" stroke-width="0.182" transform="rotate(46 195.60 762.64)">HSPB1 Low CAFs</text>
<rect x="197.90" y="767.48" width="3.80" height="13.73" fill="#B3B8A0"/>
<text x="195.60" y="776.32" font-size="6.5" text-anchor="end" fill="#222" stroke="#222" stroke-width="0.182" transform="rotate(46 195.60 776.32)">Mast cells</text>
<rect x="197.90" y="781.16" width="3.80" height="13.73" fill="#6A7257"/>
<text x="195.60" y="790.00" font-size="6.5" text-anchor="end" fill="#222" stroke="#222" stroke-width="0.182" transform="rotate(46 195.60 790.00)">Monocytes</text>
<rect x="197.90" y="794.84" width="3.80" height="13.73" fill="#4A9675"/>
<text x="195.60" y="803.68" font-size="6.5" text-anchor="end" fill="#222" stroke="#222" stroke-width="0.182" transform="rotate(46 195.60 803.68)">Plasma cells</text>
<rect x="197.90" y="808.52" width="3.80" height="13.73" fill="#E4825A"/>
<text x="195.60" y="817.36" font-size="6.5" text-anchor="end" fill="#222" stroke="#222" stroke-width="0.182" transform="rotate(46 195.60 817.36)">T cells</text>
<rect x="202.60" y="685.40" width="10.80" height="13.73" fill="#f3f9f6"/>
<rect x="213.35" y="685.40" width="10.80" height="13.73" fill="#f3f9f6"/>
<rect x="224.10" y="685.40" width="10.80" height="13.73" fill="#f3f9f6"/>
<rect x="234.85" y="685.40" width="10.80" height="13.73" fill="#60b88a"/>
<rect x="202.60" y="699.08" width="10.80" height="13.73" fill="#246b3c"/>
<rect x="213.35" y="699.08" width="10.80" height="13.73" fill="#3a965d"/>
<rect x="224.10" y="699.08" width="10.80" height="13.73" fill="#5bb383"/>
<rect x="234.85" y="699.08" width="10.80" height="13.73" fill="#205e34"/>
<rect x="202.60" y="712.76" width="10.80" height="13.73" fill="#74c39b"/>
<rect x="213.35" y="712.76" width="10.80" height="13.73" fill="#9ed6bb"/>
<rect x="224.10" y="712.76" width="10.80" height="13.73" fill="#e9f5ef"/>
<rect x="234.85" y="712.76" width="10.80" height="13.73" fill="#1a4a28"/>
<rect x="202.60" y="726.44" width="10.80" height="13.73" fill="#4aa470"/>
<rect x="213.35" y="726.44" width="10.80" height="13.73" fill="#acdcc6"/>
<rect x="224.10" y="726.44" width="10.80" height="13.73" fill="#90d0b0"/>
<rect x="234.85" y="726.44" width="10.80" height="13.73" fill="#89ccab"/>
<rect x="202.60" y="740.12" width="10.80" height="13.73" fill="#1a4a28"/>
<rect x="213.35" y="740.12" width="10.80" height="13.73" fill="#1a4a28"/>
<rect x="224.10" y="740.12" width="10.80" height="13.73" fill="#1a4a28"/>
<rect x="234.85" y="740.12" width="10.80" height="13.73" fill="#297844"/>
<rect x="202.60" y="753.80" width="10.80" height="13.73" fill="#226438"/>
<rect x="213.35" y="753.80" width="10.80" height="13.73" fill="#4aa470"/>
<rect x="224.10" y="753.80" width="10.80" height="13.73" fill="#56ae7d"/>
<rect x="234.85" y="753.80" width="10.80" height="13.73" fill="#2f8c50"/>
<rect x="202.60" y="767.48" width="10.80" height="13.73" fill="#6dc095"/>
<rect x="213.35" y="767.48" width="10.80" height="13.73" fill="#f7fbf9"/>
<rect x="224.10" y="767.48" width="10.80" height="13.73" fill="#f7fbf9"/>
<rect x="234.85" y="767.48" width="10.80" height="13.73" fill="#90d0b0"/>
<rect x="202.60" y="781.16" width="10.80" height="13.73" fill="#3a965d"/>
<rect x="213.35" y="781.16" width="10.80" height="13.73" fill="#f7fbf9"/>
<rect x="224.10" y="781.16" width="10.80" height="13.73" fill="#f7fbf9"/>
<rect x="234.85" y="781.16" width="10.80" height="13.73" fill="#277240"/>
<rect x="202.60" y="794.84" width="10.80" height="13.73" fill="#c7e7d8"/>
<rect x="213.35" y="794.84" width="10.80" height="13.73" fill="#e9f5ef"/>
<rect x="224.10" y="794.84" width="10.80" height="13.73" fill="#e9f5ef"/>
<rect x="234.85" y="794.84" width="10.80" height="13.73" fill="#e9f5ef"/>
<rect x="202.60" y="808.52" width="10.80" height="13.73" fill="#56ae7d"/>
<rect x="213.35" y="808.52" width="10.80" height="13.73" fill="#d7eee4"/>
<rect x="224.10" y="808.52" width="10.80" height="13.73" fill="#f0f8f4"/>
<rect x="234.85" y="808.52" width="10.80" height="13.73" fill="#5bb383"/>
<text x="205.78" y="683.00" font-size="6.5" text-anchor="end" fill="#222" stroke="#222" stroke-width="0.182" transform="rotate(90 205.78 683.00)">Influencer</text>
<text x="216.53" y="683.00" font-size="6.5" text-anchor="end" fill="#222" stroke="#222" stroke-width="0.182" transform="rotate(90 216.53 683.00)">Mediator</text>
<text x="227.28" y="683.00" font-size="6.5" text-anchor="end" fill="#222" stroke="#222" stroke-width="0.182" transform="rotate(90 227.28 683.00)">Receiver</text>
<text x="238.03" y="683.00" font-size="6.5" text-anchor="end" fill="#222" stroke="#222" stroke-width="0.182" transform="rotate(90 238.03 683.00)">Sender</text>
<text x="150.10" y="748.00" font-size="7.0" text-anchor="middle" fill="#111" stroke="#111" stroke-width="0.196" transform="rotate(-90 150.10 748.00)">CypA signaling pathway network</text>
<text x="224.10" y="828.60" font-size="7.0" text-anchor="middle" fill="#222" stroke="#222" stroke-width="0.196">Importance</text>
<rect x="203.60" y="831.30" width="38.80" height="3.60" fill="url(#gH)"/>
<text x="208.10" y="837.50" font-size="5.4" text-anchor="middle" fill="#333" stroke="#333" stroke-width="0.151" transform="rotate(90 208.10 837.50)">0</text>
<text x="240.40" y="837.50" font-size="5.4" text-anchor="middle" fill="#333" stroke="#333" stroke-width="0.151" transform="rotate(90 240.40 837.50)">1</text>
<rect x="305.10" y="685.40" width="3.80" height="13.73" fill="#9CCAB0"/>
<text x="302.80" y="694.24" font-size="6.5" text-anchor="end" fill="#222" stroke="#222" stroke-width="0.182" transform="rotate(46 302.80 694.24)">B cells</text>
<rect x="305.10" y="699.08" width="3.80" height="13.73" fill="#E6DCC2"/>
<text x="302.80" y="707.92" font-size="6.5" text-anchor="end" fill="#222" stroke="#222" stroke-width="0.182" transform="rotate(46 302.80 707.92)">Endothelial cells</text>
<rect x="305.10" y="712.76" width="3.80" height="13.73" fill="#2D6A6A"/>
<text x="302.80" y="721.60" font-size="6.5" text-anchor="end" fill="#222" stroke="#222" stroke-width="0.182" transform="rotate(46 302.80 721.60)">Epithelial cells</text>
<rect x="305.10" y="726.44" width="3.80" height="13.73" fill="#924C36"/>
<text x="302.80" y="735.28" font-size="6.5" text-anchor="end" fill="#222" stroke="#222" stroke-width="0.182" transform="rotate(46 302.80 735.28)">Glial cells</text>
<rect x="305.10" y="740.12" width="3.80" height="13.73" fill="#000000"/>
<text x="302.80" y="748.96" font-size="6.5" text-anchor="end" fill="#222" stroke="#222" stroke-width="0.182" transform="rotate(46 302.80 748.96)">HSPB1 High CAFs</text>
<rect x="305.10" y="753.80" width="3.80" height="13.73" fill="#DDB866"/>
<text x="302.80" y="762.64" font-size="6.5" text-anchor="end" fill="#222" stroke="#222" stroke-width="0.182" transform="rotate(46 302.80 762.64)">HSPB1 Low CAFs</text>
<rect x="305.10" y="767.48" width="3.80" height="13.73" fill="#B3B8A0"/>
<text x="302.80" y="776.32" font-size="6.5" text-anchor="end" fill="#222" stroke="#222" stroke-width="0.182" transform="rotate(46 302.80 776.32)">Mast cells</text>
<rect x="305.10" y="781.16" width="3.80" height="13.73" fill="#6A7257"/>
<text x="302.80" y="790.00" font-size="6.5" text-anchor="end" fill="#222" stroke="#222" stroke-width="0.182" transform="rotate(46 302.80 790.00)">Monocytes</text>
<rect x="305.10" y="794.84" width="3.80" height="13.73" fill="#4A9675"/>
<text x="302.80" y="803.68" font-size="6.5" text-anchor="end" fill="#222" stroke="#222" stroke-width="0.182" transform="rotate(46 302.80 803.68)">Plasma cells</text>
<rect x="305.10" y="808.52" width="3.80" height="13.73" fill="#E4825A"/>
<text x="302.80" y="817.36" font-size="6.5" text-anchor="end" fill="#222" stroke="#222" stroke-width="0.182" transform="rotate(46 302.80 817.36)">T cells</text>
<rect x="309.80" y="685.40" width="10.80" height="13.73" fill="#f3f9f6"/>
<rect x="320.55" y="685.40" width="10.80" height="13.73" fill="#ffffff"/>
<rect x="331.30" y="685.40" width="10.80" height="13.73" fill="#f3f9f6"/>
<rect x="342.05" y="685.40" width="10.80" height="13.73" fill="#e9f5ef"/>
<rect x="309.80" y="699.08" width="10.80" height="13.73" fill="#f3f9f6"/>
<rect x="320.55" y="699.08" width="10.80" height="13.73" fill="#ffffff"/>
<rect x="331.30" y="699.08" width="10.80" height="13.73" fill="#f3f9f6"/>
<rect x="342.05" y="699.08" width="10.80" height="13.73" fill="#f3f9f6"/>
<rect x="309.80" y="712.76" width="10.80" height="13.73" fill="#f3f9f6"/>
<rect x="320.55" y="712.76" width="10.80" height="13.73" fill="#ffffff"/>
<rect x="331.30" y="712.76" width="10.80" height="13.73" fill="#f3f9f6"/>
<rect x="342.05" y="712.76" width="10.80" height="13.73" fill="#d7eee4"/>
<rect x="309.80" y="726.44" width="10.80" height="13.73" fill="#f3f9f6"/>
<rect x="320.55" y="726.44" width="10.80" height="13.73" fill="#ffffff"/>
<rect x="331.30" y="726.44" width="10.80" height="13.73" fill="#f3f9f6"/>
<rect x="342.05" y="726.44" width="10.80" height="13.73" fill="#f3f9f6"/>
<rect x="309.80" y="740.12" width="10.80" height="13.73" fill="#1a4a28"/>
<rect x="320.55" y="740.12" width="10.80" height="13.73" fill="#ffffff"/>
<rect x="331.30" y="740.12" width="10.80" height="13.73" fill="#1a4a28"/>
<rect x="342.05" y="740.12" width="10.80" height="13.73" fill="#f3f9f6"/>
<rect x="309.80" y="753.80" width="10.80" height="13.73" fill="#f3f9f6"/>
<rect x="320.55" y="753.80" width="10.80" height="13.73" fill="#ffffff"/>
<rect x="331.30" y="753.80" width="10.80" height="13.73" fill="#f3f9f6"/>
<rect x="342.05" y="753.80" width="10.80" height="13.73" fill="#f3f9f6"/>
<rect x="309.80" y="767.48" width="10.80" height="13.73" fill="#226438"/>
<rect x="320.55" y="767.48" width="10.80" height="13.73" fill="#ffffff"/>
<rect x="331.30" y="767.48" width="10.80" height="13.73" fill="#f3f9f6"/>
<rect x="342.05" y="767.48" width="10.80" height="13.73" fill="#1a4a28"/>
<rect x="309.80" y="781.16" width="10.80" height="13.73" fill="#45a06a"/>
<rect x="320.55" y="781.16" width="10.80" height="13.73" fill="#ffffff"/>
<rect x="331.30" y="781.16" width="10.80" height="13.73" fill="#f3f9f6"/>
<rect x="342.05" y="781.16" width="10.80" height="13.73" fill="#d7eee4"/>
<rect x="309.80" y="794.84" width="10.80" height="13.73" fill="#d7eee4"/>
<rect x="320.55" y="794.84" width="10.80" height="13.73" fill="#ffffff"/>
<rect x="331.30" y="794.84" width="10.80" height="13.73" fill="#f3f9f6"/>
<rect x="342.05" y="794.84" width="10.80" height="13.73" fill="#f3f9f6"/>
<rect x="309.80" y="808.52" width="10.80" height="13.73" fill="#90d0b0"/>
<rect x="320.55" y="808.52" width="10.80" height="13.73" fill="#ffffff"/>
<rect x="331.30" y="808.52" width="10.80" height="13.73" fill="#f3f9f6"/>
<rect x="342.05" y="808.52" width="10.80" height="13.73" fill="#f3f9f6"/>
<text x="312.98" y="683.00" font-size="6.5" text-anchor="end" fill="#222" stroke="#222" stroke-width="0.182" transform="rotate(90 312.98 683.00)">Influencer</text>
<text x="323.73" y="683.00" font-size="6.5" text-anchor="end" fill="#222" stroke="#222" stroke-width="0.182" transform="rotate(90 323.73 683.00)">Mediator</text>
<text x="334.48" y="683.00" font-size="6.5" text-anchor="end" fill="#222" stroke="#222" stroke-width="0.182" transform="rotate(90 334.48 683.00)">Receiver</text>
<text x="345.23" y="683.00" font-size="6.5" text-anchor="end" fill="#222" stroke="#222" stroke-width="0.182" transform="rotate(90 345.23 683.00)">Sender</text>
<text x="257.30" y="748.00" font-size="7.0" text-anchor="middle" fill="#111" stroke="#111" stroke-width="0.196" transform="rotate(-90 257.30 748.00)">EGF signaling pathway network</text>
<text x="331.30" y="828.60" font-size="7.0" text-anchor="middle" fill="#222" stroke="#222" stroke-width="0.196">Importance</text>
<rect x="310.80" y="831.30" width="38.80" height="3.60" fill="url(#gH)"/>
<text x="315.30" y="837.50" font-size="5.4" text-anchor="middle" fill="#333" stroke="#333" stroke-width="0.151" transform="rotate(90 315.30 837.50)">0</text>
<text x="347.60" y="837.50" font-size="5.4" text-anchor="middle" fill="#333" stroke="#333" stroke-width="0.151" transform="rotate(90 347.60 837.50)">1</text>
<rect x="413.90" y="685.40" width="3.80" height="13.73" fill="#9CCAB0"/>
<text x="411.60" y="694.24" font-size="6.5" text-anchor="end" fill="#222" stroke="#222" stroke-width="0.182" transform="rotate(46 411.60 694.24)">B cells</text>
<rect x="413.90" y="699.08" width="3.80" height="13.73" fill="#E6DCC2"/>
<text x="411.60" y="707.92" font-size="6.5" text-anchor="end" fill="#222" stroke="#222" stroke-width="0.182" transform="rotate(46 411.60 707.92)">Endothelial cells</text>
<rect x="413.90" y="712.76" width="3.80" height="13.73" fill="#2D6A6A"/>
<text x="411.60" y="721.60" font-size="6.5" text-anchor="end" fill="#222" stroke="#222" stroke-width="0.182" transform="rotate(46 411.60 721.60)">Epithelial cells</text>
<rect x="413.90" y="726.44" width="3.80" height="13.73" fill="#924C36"/>
<text x="411.60" y="735.28" font-size="6.5" text-anchor="end" fill="#222" stroke="#222" stroke-width="0.182" transform="rotate(46 411.60 735.28)">Glial cells</text>
<rect x="413.90" y="740.12" width="3.80" height="13.73" fill="#000000"/>
<text x="411.60" y="748.96" font-size="6.5" text-anchor="end" fill="#222" stroke="#222" stroke-width="0.182" transform="rotate(46 411.60 748.96)">HSPB1 High CAFs</text>
<rect x="413.90" y="753.80" width="3.80" height="13.73" fill="#DDB866"/>
<text x="411.60" y="762.64" font-size="6.5" text-anchor="end" fill="#222" stroke="#222" stroke-width="0.182" transform="rotate(46 411.60 762.64)">HSPB1 Low CAFs</text>
<rect x="413.90" y="767.48" width="3.80" height="13.73" fill="#B3B8A0"/>
<text x="411.60" y="776.32" font-size="6.5" text-anchor="end" fill="#222" stroke="#222" stroke-width="0.182" transform="rotate(46 411.60 776.32)">Mast cells</text>
<rect x="413.90" y="781.16" width="3.80" height="13.73" fill="#6A7257"/>
<text x="411.60" y="790.00" font-size="6.5" text-anchor="end" fill="#222" stroke="#222" stroke-width="0.182" transform="rotate(46 411.60 790.00)">Monocytes</text>
<rect x="413.90" y="794.84" width="3.80" height="13.73" fill="#4A9675"/>
<text x="411.60" y="803.68" font-size="6.5" text-anchor="end" fill="#222" stroke="#222" stroke-width="0.182" transform="rotate(46 411.60 803.68)">Plasma cells</text>
<rect x="413.90" y="808.52" width="3.80" height="13.73" fill="#E4825A"/>
<text x="411.60" y="817.36" font-size="6.5" text-anchor="end" fill="#222" stroke="#222" stroke-width="0.182" transform="rotate(46 411.60 817.36)">T cells</text>
<rect x="418.60" y="685.40" width="10.80" height="13.73" fill="#97d3b6"/>
<rect x="429.35" y="685.40" width="10.80" height="13.73" fill="#f3f9f6"/>
<rect x="440.10" y="685.40" width="10.80" height="13.73" fill="#c2e5d5"/>
<rect x="450.85" y="685.40" width="10.80" height="13.73" fill="#f3f9f6"/>
<rect x="418.60" y="699.08" width="10.80" height="13.73" fill="#4aa470"/>
<rect x="429.35" y="699.08" width="10.80" height="13.73" fill="#97d3b6"/>
<rect x="440.10" y="699.08" width="10.80" height="13.73" fill="#50a976"/>
<rect x="450.85" y="699.08" width="10.80" height="13.73" fill="#e9f5ef"/>
<rect x="418.60" y="712.76" width="10.80" height="13.73" fill="#60b88a"/>
<rect x="429.35" y="712.76" width="10.80" height="13.73" fill="#9ed6bb"/>
<rect x="440.10" y="712.76" width="10.80" height="13.73" fill="#9ed6bb"/>
<rect x="450.85" y="712.76" width="10.80" height="13.73" fill="#d7eee4"/>
<rect x="418.60" y="726.44" width="10.80" height="13.73" fill="#1a4a28"/>
<rect x="429.35" y="726.44" width="10.80" height="13.73" fill="#1a4a28"/>
<rect x="440.10" y="726.44" width="10.80" height="13.73" fill="#66bd90"/>
<rect x="450.85" y="726.44" width="10.80" height="13.73" fill="#1a4a28"/>
<rect x="418.60" y="740.12" width="10.80" height="13.73" fill="#297844"/>
<rect x="429.35" y="740.12" width="10.80" height="13.73" fill="#246b3c"/>
<rect x="440.10" y="740.12" width="10.80" height="13.73" fill="#1a4a28"/>
<rect x="450.85" y="740.12" width="10.80" height="13.73" fill="#66bd90"/>
<rect x="418.60" y="753.80" width="10.80" height="13.73" fill="#f3f9f6"/>
<rect x="429.35" y="753.80" width="10.80" height="13.73" fill="#f3f9f6"/>
<rect x="440.10" y="753.80" width="10.80" height="13.73" fill="#b7e0cd"/>
<rect x="450.85" y="753.80" width="10.80" height="13.73" fill="#f3f9f6"/>
<rect x="418.60" y="767.48" width="10.80" height="13.73" fill="#f3f9f6"/>
<rect x="429.35" y="767.48" width="10.80" height="13.73" fill="#f3f9f6"/>
<rect x="440.10" y="767.48" width="10.80" height="13.73" fill="#b7e0cd"/>
<rect x="450.85" y="767.48" width="10.80" height="13.73" fill="#f3f9f6"/>
<rect x="418.60" y="781.16" width="10.80" height="13.73" fill="#f3f9f6"/>
<rect x="429.35" y="781.16" width="10.80" height="13.73" fill="#f3f9f6"/>
<rect x="440.10" y="781.16" width="10.80" height="13.73" fill="#b7e0cd"/>
<rect x="450.85" y="781.16" width="10.80" height="13.73" fill="#f3f9f6"/>
<rect x="418.60" y="794.84" width="10.80" height="13.73" fill="#f3f9f6"/>
<rect x="429.35" y="794.84" width="10.80" height="13.73" fill="#f3f9f6"/>
<rect x="440.10" y="794.84" width="10.80" height="13.73" fill="#e2f2eb"/>
<rect x="450.85" y="794.84" width="10.80" height="13.73" fill="#f3f9f6"/>
<rect x="418.60" y="808.52" width="10.80" height="13.73" fill="#f3f9f6"/>
<rect x="429.35" y="808.52" width="10.80" height="13.73" fill="#f3f9f6"/>
<rect x="440.10" y="808.52" width="10.80" height="13.73" fill="#c7e7d8"/>
<rect x="450.85" y="808.52" width="10.80" height="13.73" fill="#f3f9f6"/>
<text x="421.78" y="683.00" font-size="6.5" text-anchor="end" fill="#222" stroke="#222" stroke-width="0.182" transform="rotate(90 421.78 683.00)">Influencer</text>
<text x="432.53" y="683.00" font-size="6.5" text-anchor="end" fill="#222" stroke="#222" stroke-width="0.182" transform="rotate(90 432.53 683.00)">Mediator</text>
<text x="443.28" y="683.00" font-size="6.5" text-anchor="end" fill="#222" stroke="#222" stroke-width="0.182" transform="rotate(90 443.28 683.00)">Receiver</text>
<text x="454.03" y="683.00" font-size="6.5" text-anchor="end" fill="#222" stroke="#222" stroke-width="0.182" transform="rotate(90 454.03 683.00)">Sender</text>
<text x="366.10" y="748.00" font-size="7.0" text-anchor="middle" fill="#111" stroke="#111" stroke-width="0.196" transform="rotate(-90 366.10 748.00)">MK signaling pathway network</text>
<text x="440.10" y="828.60" font-size="7.0" text-anchor="middle" fill="#222" stroke="#222" stroke-width="0.196">Importance</text>
<rect x="419.60" y="831.30" width="38.80" height="3.60" fill="url(#gH)"/>
<text x="424.10" y="837.50" font-size="5.4" text-anchor="middle" fill="#333" stroke="#333" stroke-width="0.151" transform="rotate(90 424.10 837.50)">0</text>
<text x="456.40" y="837.50" font-size="5.4" text-anchor="middle" fill="#333" stroke="#333" stroke-width="0.151" transform="rotate(90 456.40 837.50)">1</text>
<rect x="521.50" y="685.40" width="3.80" height="13.73" fill="#9CCAB0"/>
<text x="519.20" y="694.24" font-size="6.5" text-anchor="end" fill="#222" stroke="#222" stroke-width="0.182" transform="rotate(46 519.20 694.24)">B cells</text>
<rect x="521.50" y="699.08" width="3.80" height="13.73" fill="#E6DCC2"/>
<text x="519.20" y="707.92" font-size="6.5" text-anchor="end" fill="#222" stroke="#222" stroke-width="0.182" transform="rotate(46 519.20 707.92)">Endothelial cells</text>
<rect x="521.50" y="712.76" width="3.80" height="13.73" fill="#2D6A6A"/>
<text x="519.20" y="721.60" font-size="6.5" text-anchor="end" fill="#222" stroke="#222" stroke-width="0.182" transform="rotate(46 519.20 721.60)">Epithelial cells</text>
<rect x="521.50" y="726.44" width="3.80" height="13.73" fill="#924C36"/>
<text x="519.20" y="735.28" font-size="6.5" text-anchor="end" fill="#222" stroke="#222" stroke-width="0.182" transform="rotate(46 519.20 735.28)">Glial cells</text>
<rect x="521.50" y="740.12" width="3.80" height="13.73" fill="#000000"/>
<text x="519.20" y="748.96" font-size="6.5" text-anchor="end" fill="#222" stroke="#222" stroke-width="0.182" transform="rotate(46 519.20 748.96)">HSPB1 High CAFs</text>
<rect x="521.50" y="753.80" width="3.80" height="13.73" fill="#DDB866"/>
<text x="519.20" y="762.64" font-size="6.5" text-anchor="end" fill="#222" stroke="#222" stroke-width="0.182" transform="rotate(46 519.20 762.64)">HSPB1 Low CAFs</text>
<rect x="521.50" y="767.48" width="3.80" height="13.73" fill="#B3B8A0"/>
<text x="519.20" y="776.32" font-size="6.5" text-anchor="end" fill="#222" stroke="#222" stroke-width="0.182" transform="rotate(46 519.20 776.32)">Mast cells</text>
<rect x="521.50" y="781.16" width="3.80" height="13.73" fill="#6A7257"/>
<text x="519.20" y="790.00" font-size="6.5" text-anchor="end" fill="#222" stroke="#222" stroke-width="0.182" transform="rotate(46 519.20 790.00)">Monocytes</text>
<rect x="521.50" y="794.84" width="3.80" height="13.73" fill="#4A9675"/>
<text x="519.20" y="803.68" font-size="6.5" text-anchor="end" fill="#222" stroke="#222" stroke-width="0.182" transform="rotate(46 519.20 803.68)">Plasma cells</text>
<rect x="521.50" y="808.52" width="3.80" height="13.73" fill="#E4825A"/>
<text x="519.20" y="817.36" font-size="6.5" text-anchor="end" fill="#222" stroke="#222" stroke-width="0.182" transform="rotate(46 519.20 817.36)">T cells</text>
<rect x="526.20" y="685.40" width="10.80" height="13.73" fill="#acdcc6"/>
<rect x="536.95" y="685.40" width="10.80" height="13.73" fill="#ffffff"/>
<rect x="547.70" y="685.40" width="10.80" height="13.73" fill="#82c9a6"/>
<rect x="558.45" y="685.40" width="10.80" height="13.73" fill="#f3f9f6"/>
<rect x="526.20" y="699.08" width="10.80" height="13.73" fill="#acdcc6"/>
<rect x="536.95" y="699.08" width="10.80" height="13.73" fill="#ffffff"/>
<rect x="547.70" y="699.08" width="10.80" height="13.73" fill="#66bd90"/>
<rect x="558.45" y="699.08" width="10.80" height="13.73" fill="#f3f9f6"/>
<rect x="526.20" y="712.76" width="10.80" height="13.73" fill="#acdcc6"/>
<rect x="536.95" y="712.76" width="10.80" height="13.73" fill="#ffffff"/>
<rect x="547.70" y="712.76" width="10.80" height="13.73" fill="#60b88a"/>
<rect x="558.45" y="712.76" width="10.80" height="13.73" fill="#f3f9f6"/>
<rect x="526.20" y="726.44" width="10.80" height="13.73" fill="#9ed6bb"/>
<rect x="536.95" y="726.44" width="10.80" height="13.73" fill="#ffffff"/>
<rect x="547.70" y="726.44" width="10.80" height="13.73" fill="#56ae7d"/>
<rect x="558.45" y="726.44" width="10.80" height="13.73" fill="#f3f9f6"/>
<rect x="526.20" y="740.12" width="10.80" height="13.73" fill="#1a4a28"/>
<rect x="536.95" y="740.12" width="10.80" height="13.73" fill="#ffffff"/>
<rect x="547.70" y="740.12" width="10.80" height="13.73" fill="#1a4a28"/>
<rect x="558.45" y="740.12" width="10.80" height="13.73" fill="#1a4a28"/>
<rect x="526.20" y="753.80" width="10.80" height="13.73" fill="#f3f9f6"/>
<rect x="536.95" y="753.80" width="10.80" height="13.73" fill="#ffffff"/>
<rect x="547.70" y="753.80" width="10.80" height="13.73" fill="#7bc6a0"/>
<rect x="558.45" y="753.80" width="10.80" height="13.73" fill="#f3f9f6"/>
<rect x="526.20" y="767.48" width="10.80" height="13.73" fill="#f3f9f6"/>
<rect x="536.95" y="767.48" width="10.80" height="13.73" fill="#ffffff"/>
<rect x="547.70" y="767.48" width="10.80" height="13.73" fill="#60b88a"/>
<rect x="558.45" y="767.48" width="10.80" height="13.73" fill="#f3f9f6"/>
<rect x="526.20" y="781.16" width="10.80" height="13.73" fill="#f3f9f6"/>
<rect x="536.95" y="781.16" width="10.80" height="13.73" fill="#ffffff"/>
<rect x="547.70" y="781.16" width="10.80" height="13.73" fill="#9ed6bb"/>
<rect x="558.45" y="781.16" width="10.80" height="13.73" fill="#f3f9f6"/>
<rect x="526.20" y="794.84" width="10.80" height="13.73" fill="#f3f9f6"/>
<rect x="536.95" y="794.84" width="10.80" height="13.73" fill="#ffffff"/>
<rect x="547.70" y="794.84" width="10.80" height="13.73" fill="#b7e0cd"/>
<rect x="558.45" y="794.84" width="10.80" height="13.73" fill="#f3f9f6"/>
<rect x="526.20" y="808.52" width="10.80" height="13.73" fill="#f3f9f6"/>
<rect x="536.95" y="808.52" width="10.80" height="13.73" fill="#ffffff"/>
<rect x="547.70" y="808.52" width="10.80" height="13.73" fill="#82c9a6"/>
<rect x="558.45" y="808.52" width="10.80" height="13.73" fill="#f3f9f6"/>
<text x="529.38" y="683.00" font-size="6.5" text-anchor="end" fill="#222" stroke="#222" stroke-width="0.182" transform="rotate(90 529.38 683.00)">Influencer</text>
<text x="540.12" y="683.00" font-size="6.5" text-anchor="end" fill="#222" stroke="#222" stroke-width="0.182" transform="rotate(90 540.12 683.00)">Mediator</text>
<text x="550.88" y="683.00" font-size="6.5" text-anchor="end" fill="#222" stroke="#222" stroke-width="0.182" transform="rotate(90 550.88 683.00)">Receiver</text>
<text x="561.62" y="683.00" font-size="6.5" text-anchor="end" fill="#222" stroke="#222" stroke-width="0.182" transform="rotate(90 561.62 683.00)">Sender</text>
<text x="473.70" y="748.00" font-size="7.0" text-anchor="middle" fill="#111" stroke="#111" stroke-width="0.196" transform="rotate(-90 473.70 748.00)">PTN signaling pathway network</text>
<text x="547.70" y="828.60" font-size="7.0" text-anchor="middle" fill="#222" stroke="#222" stroke-width="0.196">Importance</text>
<rect x="527.20" y="831.30" width="38.80" height="3.60" fill="url(#gH)"/>
<text x="531.70" y="837.50" font-size="5.4" text-anchor="middle" fill="#333" stroke="#333" stroke-width="0.151" transform="rotate(90 531.70 837.50)">0</text>
<text x="564.00" y="837.50" font-size="5.4" text-anchor="middle" fill="#333" stroke="#333" stroke-width="0.151" transform="rotate(90 564.00 837.50)">1</text>
<rect x="627.20" y="685.40" width="3.80" height="13.73" fill="#9CCAB0"/>
<text x="624.90" y="694.24" font-size="6.5" text-anchor="end" fill="#222" stroke="#222" stroke-width="0.182" transform="rotate(46 624.90 694.24)">B cells</text>
<rect x="627.20" y="699.08" width="3.80" height="13.73" fill="#E6DCC2"/>
<text x="624.90" y="707.92" font-size="6.5" text-anchor="end" fill="#222" stroke="#222" stroke-width="0.182" transform="rotate(46 624.90 707.92)">Endothelial cells</text>
<rect x="627.20" y="712.76" width="3.80" height="13.73" fill="#2D6A6A"/>
<text x="624.90" y="721.60" font-size="6.5" text-anchor="end" fill="#222" stroke="#222" stroke-width="0.182" transform="rotate(46 624.90 721.60)">Epithelial cells</text>
<rect x="627.20" y="726.44" width="3.80" height="13.73" fill="#924C36"/>
<text x="624.90" y="735.28" font-size="6.5" text-anchor="end" fill="#222" stroke="#222" stroke-width="0.182" transform="rotate(46 624.90 735.28)">Glial cells</text>
<rect x="627.20" y="740.12" width="3.80" height="13.73" fill="#000000"/>
<text x="624.90" y="748.96" font-size="6.5" text-anchor="end" fill="#222" stroke="#222" stroke-width="0.182" transform="rotate(46 624.90 748.96)">HSPB1 High CAFs</text>
<rect x="627.20" y="753.80" width="3.80" height="13.73" fill="#DDB866"/>
<text x="624.90" y="762.64" font-size="6.5" text-anchor="end" fill="#222" stroke="#222" stroke-width="0.182" transform="rotate(46 624.90 762.64)">HSPB1 Low CAFs</text>
<rect x="627.20" y="767.48" width="3.80" height="13.73" fill="#B3B8A0"/>
<text x="624.90" y="776.32" font-size="6.5" text-anchor="end" fill="#222" stroke="#222" stroke-width="0.182" transform="rotate(46 624.90 776.32)">Mast cells</text>
<rect x="627.20" y="781.16" width="3.80" height="13.73" fill="#6A7257"/>
<text x="624.90" y="790.00" font-size="6.5" text-anchor="end" fill="#222" stroke="#222" stroke-width="0.182" transform="rotate(46 624.90 790.00)">Monocytes</text>
<rect x="627.20" y="794.84" width="3.80" height="13.73" fill="#4A9675"/>
<text x="624.90" y="803.68" font-size="6.5" text-anchor="end" fill="#222" stroke="#222" stroke-width="0.182" transform="rotate(46 624.90 803.68)">Plasma cells</text>
<rect x="627.20" y="808.52" width="3.80" height="13.73" fill="#E4825A"/>
<text x="624.90" y="817.36" font-size="6.5" text-anchor="end" fill="#222" stroke="#222" stroke-width="0.182" transform="rotate(46 624.90 817.36)">T cells</text>
<rect x="631.90" y="685.40" width="10.80" height="13.73" fill="#f3f9f6"/>
<rect x="642.65" y="685.40" width="10.80" height="13.73" fill="#ffffff"/>
<rect x="653.40" y="685.40" width="10.80" height="13.73" fill="#f3f9f6"/>
<rect x="664.15" y="685.40" width="10.80" height="13.73" fill="#bce3d1"/>
<rect x="631.90" y="699.08" width="10.80" height="13.73" fill="#f3f9f6"/>
<rect x="642.65" y="699.08" width="10.80" height="13.73" fill="#ffffff"/>
<rect x="653.40" y="699.08" width="10.80" height="13.73" fill="#f3f9f6"/>
<rect x="664.15" y="699.08" width="10.80" height="13.73" fill="#359156"/>
<rect x="631.90" y="712.76" width="10.80" height="13.73" fill="#f3f9f6"/>
<rect x="642.65" y="712.76" width="10.80" height="13.73" fill="#ffffff"/>
<rect x="653.40" y="712.76" width="10.80" height="13.73" fill="#f3f9f6"/>
<rect x="664.15" y="712.76" width="10.80" height="13.73" fill="#f3f9f6"/>
<rect x="631.90" y="726.44" width="10.80" height="13.73" fill="#f3f9f6"/>
<rect x="642.65" y="726.44" width="10.80" height="13.73" fill="#ffffff"/>
<rect x="653.40" y="726.44" width="10.80" height="13.73" fill="#f3f9f6"/>
<rect x="664.15" y="726.44" width="10.80" height="13.73" fill="#d2ebe0"/>
<rect x="631.90" y="740.12" width="10.80" height="13.73" fill="#1a4a28"/>
<rect x="642.65" y="740.12" width="10.80" height="13.73" fill="#ffffff"/>
<rect x="653.40" y="740.12" width="10.80" height="13.73" fill="#1a4a28"/>
<rect x="664.15" y="740.12" width="10.80" height="13.73" fill="#3a965d"/>
<rect x="631.90" y="753.80" width="10.80" height="13.73" fill="#b7e0cd"/>
<rect x="642.65" y="753.80" width="10.80" height="13.73" fill="#ffffff"/>
<rect x="653.40" y="753.80" width="10.80" height="13.73" fill="#f3f9f6"/>
<rect x="664.15" y="753.80" width="10.80" height="13.73" fill="#d7eee4"/>
<rect x="631.90" y="767.48" width="10.80" height="13.73" fill="#4aa470"/>
<rect x="642.65" y="767.48" width="10.80" height="13.73" fill="#ffffff"/>
<rect x="653.40" y="767.48" width="10.80" height="13.73" fill="#f3f9f6"/>
<rect x="664.15" y="767.48" width="10.80" height="13.73" fill="#1a4a28"/>
<rect x="631.90" y="781.16" width="10.80" height="13.73" fill="#60b88a"/>
<rect x="642.65" y="781.16" width="10.80" height="13.73" fill="#ffffff"/>
<rect x="653.40" y="781.16" width="10.80" height="13.73" fill="#f3f9f6"/>
<rect x="664.15" y="781.16" width="10.80" height="13.73" fill="#5bb383"/>
<rect x="631.90" y="794.84" width="10.80" height="13.73" fill="#d7eee4"/>
<rect x="642.65" y="794.84" width="10.80" height="13.73" fill="#ffffff"/>
<rect x="653.40" y="794.84" width="10.80" height="13.73" fill="#f3f9f6"/>
<rect x="664.15" y="794.84" width="10.80" height="13.73" fill="#ecf6f2"/>
<rect x="631.90" y="808.52" width="10.80" height="13.73" fill="#97d3b6"/>
<rect x="642.65" y="808.52" width="10.80" height="13.73" fill="#ffffff"/>
<rect x="653.40" y="808.52" width="10.80" height="13.73" fill="#f3f9f6"/>
<rect x="664.15" y="808.52" width="10.80" height="13.73" fill="#b7e0cd"/>
<text x="635.07" y="683.00" font-size="6.5" text-anchor="end" fill="#222" stroke="#222" stroke-width="0.182" transform="rotate(90 635.07 683.00)">Influencer</text>
<text x="645.82" y="683.00" font-size="6.5" text-anchor="end" fill="#222" stroke="#222" stroke-width="0.182" transform="rotate(90 645.82 683.00)">Mediator</text>
<text x="656.57" y="683.00" font-size="6.5" text-anchor="end" fill="#222" stroke="#222" stroke-width="0.182" transform="rotate(90 656.57 683.00)">Receiver</text>
<text x="667.32" y="683.00" font-size="6.5" text-anchor="end" fill="#222" stroke="#222" stroke-width="0.182" transform="rotate(90 667.32 683.00)">Sender</text>
<text x="579.40" y="748.00" font-size="7.0" text-anchor="middle" fill="#111" stroke="#111" stroke-width="0.196" transform="rotate(-90 579.40 748.00)">TGFb signaling pathway network</text>
<text x="653.40" y="828.60" font-size="7.0" text-anchor="middle" fill="#222" stroke="#222" stroke-width="0.196">Importance</text>
<rect x="632.90" y="831.30" width="38.80" height="3.60" fill="url(#gH)"/>
<text x="637.40" y="837.50" font-size="5.4" text-anchor="middle" fill="#333" stroke="#333" stroke-width="0.151" transform="rotate(90 637.40 837.50)">0</text>
<text x="669.70" y="837.50" font-size="5.4" text-anchor="middle" fill="#333" stroke="#333" stroke-width="0.151" transform="rotate(90 669.70 837.50)">1</text>
</svg></body></html>
